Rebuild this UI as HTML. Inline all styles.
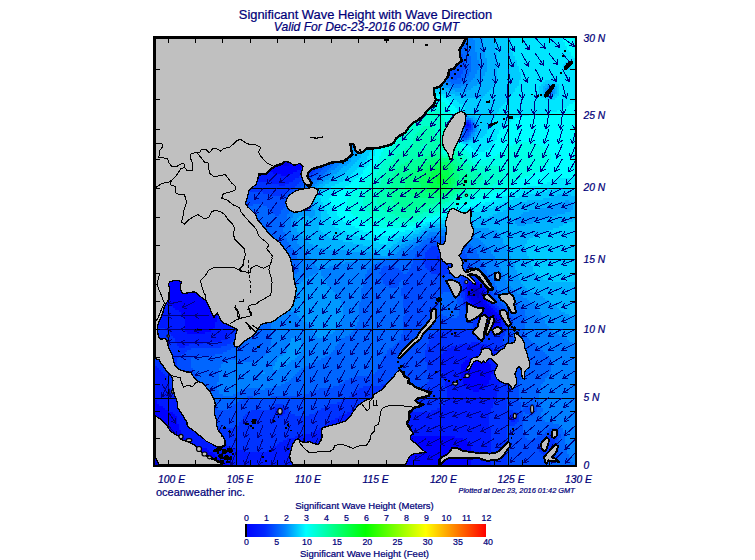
<!DOCTYPE html><html><head><meta charset="utf-8"><title>Significant Wave Height with Wave Direction</title>
<style>html,body{margin:0;padding:0;background:#fff}body{width:755px;height:560px;overflow:hidden}svg{display:block}text{font-family:"Liberation Sans",sans-serif;fill:#000078;stroke:#000078;stroke-width:.22px}</style></head><body>
<svg width="755" height="560" viewBox="0 0 755 560">
<rect width="755" height="560" fill="#fff"/>
<g shape-rendering="crispEdges">
<rect x="155" y="38" width="420" height="427" fill="#0040ff"/>
<path fill="#000066" d="M155 38h20v2h-20zM155 40h16v2h-16zM155 42h12v2h-12zM155 44h6v2h-6z"/>
<path fill="#000066" d="M175 38h66v2h-66zM171 40h68v2h-68zM167 42h68v2h-68zM161 44h72v2h-72zM155 46h74v2h-74zM155 48h72v2h-72zM155 50h68v2h-68zM155 52h64v2h-64zM155 54h58v2h-58zM155 56h54v2h-54zM155 58h48v2h-48zM155 60h42v2h-42zM155 62h36v2h-36zM155 64h28v2h-28zM155 66h22v2h-22zM155 68h16v2h-16zM155 70h10v2h-10zM155 72h4v2h-4z"/>
<path fill="#000066" d="M241 38h34v2h-34zM239 40h36v2h-36zM235 42h38v2h-38zM233 44h40v2h-40zM229 46h42v2h-42zM227 48h42v2h-42zM223 50h46v2h-46zM219 52h48v2h-48zM213 54h52v2h-52zM209 56h54v2h-54zM203 58h58v2h-58zM197 60h62v2h-62zM191 62h66v2h-66zM183 64h72v2h-72zM177 66h76v2h-76zM171 68h80v2h-80zM165 70h82v2h-82zM159 72h84v2h-84zM155 74h84v2h-84zM155 76h78v2h-78zM155 78h72v2h-72zM155 80h64v2h-64zM155 82h54v2h-54zM155 84h46v2h-46zM155 86h36v2h-36zM155 88h28v2h-28zM155 90h20v2h-20zM155 92h14v2h-14zM155 94h8v2h-8zM155 96h2v2h-2z"/>
<path fill="#000080" d="M275 38h24v4h-24zM273 42h24v4h-24zM271 46h24v2h-24zM269 48h26v2h-26zM269 50h24v2h-24zM267 52h26v2h-26zM265 54h26v2h-26zM263 56h28v2h-28zM261 58h28v2h-28zM259 60h30v2h-30zM257 62h30v2h-30zM255 64h32v2h-32zM253 66h32v2h-32zM251 68h34v2h-34zM247 70h36v2h-36zM243 72h38v2h-38zM239 74h42v2h-42zM233 76h46v2h-46zM227 78h50v2h-50zM219 80h58v2h-58zM209 82h66v2h-66zM201 84h72v2h-72zM191 86h80v2h-80zM183 88h86v2h-86zM175 90h90v2h-90zM169 92h94v2h-94zM163 94h96v2h-96zM157 96h96v2h-96zM155 98h90v2h-90zM155 100h78v2h-78zM155 102h62v2h-62zM155 104h48v2h-48zM155 106h38v2h-38zM155 108h30v2h-30zM155 110h22v2h-22zM155 112h16v2h-16zM155 114h10v2h-10zM155 116h4v2h-4z"/>
<path fill="#000099" d="M299 38h18v4h-18zM297 42h18v4h-18zM295 46h18v4h-18zM293 50h18v4h-18zM291 54h20v2h-20zM291 56h18v2h-18zM289 58h20v2h-20zM289 60h18v2h-18zM287 62h20v2h-20zM287 64h18v2h-18zM285 66h20v2h-20zM285 68h18v2h-18zM283 70h20v2h-20zM281 72h20v4h-20zM279 76h22v2h-22zM277 78h22v4h-22zM275 82h22v2h-22zM273 84h24v2h-24zM271 86h24v2h-24zM269 88h26v2h-26zM265 90h28v2h-28zM263 92h30v2h-30zM259 94h32v2h-32zM253 96h38v2h-38zM245 98h44v2h-44zM233 100h56v2h-56zM217 102h70v2h-70zM203 104h82v2h-82zM193 106h90v2h-90zM185 108h96v2h-96zM177 110h102v2h-102zM171 112h106v2h-106zM165 114h108v2h-108zM159 116h110v2h-110zM155 118h98v2h-98zM155 120h60v2h-60zM155 122h48v2h-48zM155 124h38v2h-38zM155 126h30v2h-30zM155 128h24v2h-24zM155 130h20v2h-20zM155 132h14v2h-14zM155 134h10v2h-10zM155 136h6v2h-6z"/>
<path fill="#0000b2" d="M317 38h18v2h-18zM317 40h16v2h-16zM315 42h16v4h-16zM313 46h16v4h-16zM311 50h16v4h-16zM311 54h14v2h-14zM309 56h16v2h-16zM309 58h14v2h-14zM307 60h16v2h-16zM307 62h14v2h-14zM305 64h16v2h-16zM305 66h14v2h-14zM303 68h16v2h-16zM303 70h14v2h-14zM301 72h16v2h-16zM301 74h14v4h-14zM299 78h16v2h-16zM299 80h14v2h-14zM297 82h16v2h-16zM297 84h14v2h-14zM295 86h16v4h-16zM293 90h16v4h-16zM291 94h16v4h-16zM289 98h18v2h-18zM289 100h16v2h-16zM287 102h18v2h-18zM285 104h20v2h-20zM283 106h20v2h-20zM281 108h22v2h-22zM279 110h22v2h-22zM277 112h24v2h-24zM273 114h26v2h-26zM269 116h30v2h-30zM253 118h46v2h-46zM215 120h82v2h-82zM203 122h92v2h-92zM193 124h102v2h-102zM185 126h108v2h-108zM179 128h112v2h-112zM175 130h114v2h-114zM169 132h118v2h-118zM165 134h68v2h-68zM243 134h40v2h-40zM161 136h52v2h-52zM155 138h48v2h-48zM155 140h40v2h-40zM155 142h34v2h-34zM155 144h30v2h-30zM155 146h24v2h-24zM155 148h20v2h-20zM155 150h16v2h-16zM155 152h12v2h-12zM155 154h10v2h-10zM155 156h6v2h-6zM155 158h2v2h-2z"/>
<path fill="#0000cc" d="M335 38h14v2h-14zM333 40h16v2h-16zM331 42h16v2h-16zM331 44h14v2h-14zM329 46h16v2h-16zM329 48h14v2h-14zM327 50h14v4h-14zM325 54h14v4h-14zM323 58h14v2h-14zM323 60h12v2h-12zM321 62h14v2h-14zM321 64h12v2h-12zM319 66h14v2h-14zM319 68h12v2h-12zM317 70h14v2h-14zM317 72h12v2h-12zM315 74h14v2h-14zM315 76h12v4h-12zM313 80h12v4h-12zM311 84h14v2h-14zM311 86h12v4h-12zM309 90h12v4h-12zM307 94h14v2h-14zM307 96h12v4h-12zM305 100h14v2h-14zM305 102h12v4h-12zM303 106h12v4h-12zM301 110h14v2h-14zM301 112h12v2h-12zM299 114h14v4h-14zM299 118h12v2h-12zM297 120h14v2h-14zM295 122h16v2h-16zM295 124h14v2h-14zM293 126h16v2h-16zM291 128h16v2h-16zM289 130h18v2h-18zM287 132h20v2h-20zM233 134h10v2h-10zM283 134h22v2h-22zM213 136h92v2h-92zM203 138h100v2h-100zM195 140h106v2h-106zM189 142h112v2h-112zM185 144h114v2h-114zM179 146h118v2h-118zM175 148h50v2h-50zM255 148h40v2h-40zM171 150h42v2h-42zM269 150h22v2h-22zM167 152h40v2h-40zM165 154h36v2h-36zM161 156h34v2h-34zM157 158h34v2h-34zM155 160h32v2h-32zM155 162h28v2h-28zM155 164h26v2h-26zM155 166h22v2h-22zM155 168h20v2h-20zM155 170h16v2h-16zM155 172h14v2h-14zM155 174h12v2h-12zM155 176h10v2h-10zM155 178h8v2h-8zM155 464h8v1h-8zM155 180h6v2h-6zM155 462h6v2h-6zM155 182h4v2h-4zM155 460h4v2h-4zM155 184h2v2h-2zM155 458h2v2h-2zM473 288h6v4h-6zM473 292h8v2h-8zM475 294h4v2h-4zM477 296h2v2h-2z"/>
<path fill="#0000e6" d="M349 38h16v2h-16zM349 40h14v2h-14zM347 42h16v2h-16zM345 44h16v2h-16zM345 46h14v2h-14zM343 48h14v2h-14zM341 50h14v4h-14zM339 54h14v2h-14zM339 56h12v2h-12zM337 58h12v2h-12zM335 60h14v2h-14zM335 62h12v2h-12zM333 64h12v4h-12zM331 68h12v2h-12zM331 70h10v2h-10zM329 72h12v2h-12zM329 74h10v2h-10zM327 76h12v2h-12zM327 78h10v2h-10zM325 80h12v2h-12zM325 82h10v4h-10zM323 86h10v4h-10zM321 90h12v2h-12zM321 92h10v4h-10zM319 96h10v6h-10zM317 102h10v4h-10zM315 106h12v2h-12zM315 108h10v4h-10zM313 112h10v6h-10zM311 118h10v6h-10zM309 124h10v4h-10zM307 128h12v2h-12zM307 130h10v4h-10zM305 134h12v2h-12zM305 136h10v2h-10zM303 138h12v2h-12zM301 140h12v4h-12zM299 144h12v2h-12zM297 146h14v2h-14zM225 148h30v2h-30zM295 148h14v2h-14zM213 150h56v2h-56zM291 150h16v2h-16zM207 152h100v2h-100zM201 154h104v2h-104zM195 156h108v2h-108zM191 158h110v2h-110zM187 160h42v2h-42zM261 160h36v2h-36zM183 162h36v2h-36zM273 162h22v2h-22zM181 164h32v2h-32zM283 164h6v2h-6zM177 166h32v2h-32zM175 168h30v2h-30zM171 170h30v2h-30zM169 172h28v2h-28zM167 174h28v2h-28zM165 176h26v2h-26zM163 178h26v2h-26zM161 180h26v2h-26zM159 182h26v2h-26zM157 184h26v2h-26zM155 186h26v2h-26zM155 454h26v2h-26zM155 188h24v2h-24zM155 452h24v2h-24zM155 190h22v2h-22zM155 192h20v2h-20zM155 450h20v2h-20zM155 194h18v4h-18zM155 448h18v2h-18zM155 198h16v2h-16zM155 444h16v4h-16zM155 200h14v4h-14zM155 442h14v2h-14zM155 204h12v2h-12zM155 438h12v4h-12zM155 206h10v4h-10zM155 436h10v2h-10zM155 210h8v4h-8zM155 432h8v4h-8zM155 214h6v6h-6zM155 430h6v2h-6zM155 220h4v4h-4zM155 428h4v2h-4zM155 224h2v6h-2zM155 426h2v2h-2zM471 284h6v2h-6zM471 296h6v2h-6zM469 286h12v2h-12zM469 288h4v6h-4zM479 288h2v2h-2zM479 290h4v2h-4zM479 294h4v4h-4zM481 292h2v2h-2zM471 294h4v2h-4zM471 298h12v2h-12zM473 300h10v2h-10zM475 302h8v2h-8zM477 304h8v2h-8zM479 306h8v2h-8zM479 308h10v2h-10zM481 310h10v2h-10zM481 312h12v2h-12zM483 314h12v2h-12zM485 316h12v2h-12zM487 318h10v2h-10zM489 320h8v2h-8zM491 322h6v2h-6zM155 456h28v2h-28zM157 458h30v2h-30zM159 460h32v2h-32zM161 462h34v2h-34zM163 464h36v1h-36z"/>
<path fill="#0000ff" d="M365 38h20v2h-20zM363 40h18v2h-18zM363 42h16v2h-16zM361 44h16v2h-16zM359 46h16v2h-16zM357 48h16v2h-16zM355 50h16v2h-16zM355 52h14v2h-14zM353 54h14v2h-14zM351 56h14v2h-14zM349 58h14v2h-14zM349 60h12v2h-12zM347 62h12v2h-12zM345 64h12v2h-12zM345 66h10v2h-10zM343 68h12v2h-12zM341 70h12v2h-12zM341 72h10v2h-10zM339 74h12v2h-12zM339 76h10v2h-10zM337 78h10v4h-10zM335 82h10v4h-10zM333 86h10v4h-10zM333 90h8v2h-8zM331 92h10v2h-10zM331 94h8v2h-8zM329 96h10v2h-10zM329 98h8v4h-8zM327 102h10v2h-10zM327 104h8v4h-8zM325 108h10v2h-10zM325 110h8v2h-8zM323 112h10v2h-10zM323 114h8v4h-8zM321 118h10v2h-10zM321 120h8v4h-8zM319 124h10v2h-10zM467 124h2v2h-2zM467 286h2v8h-2zM319 126h8v4h-8zM317 130h10v2h-10zM317 132h8v4h-8zM315 136h8v4h-8zM313 140h8v4h-8zM311 144h10v2h-10zM311 146h8v2h-8zM309 148h10v2h-10zM307 150h10v2h-10zM307 152h8v2h-8zM305 154h10v2h-10zM303 156h10v2h-10zM301 158h10v2h-10zM229 160h32v2h-32zM297 160h14v2h-14zM219 162h54v2h-54zM295 162h14v2h-14zM213 164h70v2h-70zM289 164h16v2h-16zM209 166h94v2h-94zM205 168h96v2h-96zM201 170h40v2h-40zM261 170h36v2h-36zM197 172h32v2h-32zM273 172h20v2h-20zM195 174h28v2h-28zM281 174h8v2h-8zM191 176h28v2h-28zM189 178h26v2h-26zM187 180h24v2h-24zM185 182h24v2h-24zM183 184h24v2h-24zM181 186h22v2h-22zM179 188h22v2h-22zM177 190h22v2h-22zM175 192h22v2h-22zM173 194h24v2h-24zM173 196h22v2h-22zM171 198h22v2h-22zM169 200h24v2h-24zM169 202h22v2h-22zM167 204h22v2h-22zM165 206h24v4h-24zM163 210h24v4h-24zM161 214h24v6h-24zM159 220h26v4h-26zM157 224h28v2h-28zM157 226h26v4h-26zM155 230h28v6h-28zM155 236h30v10h-30zM155 246h32v6h-32zM155 252h34v4h-34zM155 256h36v4h-36zM155 260h38v2h-38zM155 262h40v4h-40zM155 266h42v4h-42zM155 270h44v2h-44zM155 272h46v2h-46zM155 274h48v4h-48zM155 278h50v2h-50zM155 280h52v4h-52zM469 282h10v2h-10zM155 284h54v4h-54zM467 284h4v2h-4zM467 294h4v4h-4zM477 284h4v2h-4zM477 310h4v4h-4zM481 286h2v2h-2zM155 288h56v4h-56zM481 288h4v2h-4zM481 316h4v2h-4zM483 290h2v10h-2zM155 292h58v4h-58zM155 296h60v6h-60zM469 298h2v2h-2zM469 300h4v2h-4zM483 300h4v4h-4zM163 302h54v2h-54zM471 302h4v2h-4zM169 304h48v2h-48zM471 304h6v2h-6zM485 304h4v2h-4zM173 306h44v2h-44zM473 306h6v2h-6zM473 390h6v2h-6zM487 306h4v2h-4zM175 308h42v2h-42zM475 308h4v2h-4zM475 356h4v2h-4zM489 308h4v2h-4zM179 310h38v2h-38zM491 310h4v2h-4zM181 312h36v4h-36zM493 312h4v2h-4zM479 314h4v2h-4zM495 314h4v2h-4zM183 316h34v2h-34zM183 456h34v2h-34zM497 316h4v8h-4zM185 318h32v4h-32zM481 318h6v2h-6zM483 320h6v2h-6zM185 322h30v6h-30zM485 322h6v2h-6zM487 324h14v2h-14zM491 326h8v2h-8zM185 328h28v2h-28zM185 330h26v2h-26zM187 332h18v2h-18zM469 358h16v2h-16zM465 360h22v2h-22zM465 384h22v2h-22zM463 362h26v2h-26zM463 380h26v4h-26zM461 364h30v6h-30zM461 374h30v6h-30zM461 370h32v4h-32zM467 386h18v2h-18zM469 388h14v2h-14zM155 400h2v4h-2zM155 404h4v2h-4zM155 406h8v2h-8zM155 408h10v2h-10zM155 410h14v2h-14zM279 410h2v2h-2zM155 412h18v2h-18zM155 414h20v2h-20zM155 416h22v8h-22zM155 424h24v2h-24zM157 426h22v2h-22zM159 428h20v2h-20zM365 428h22v2h-22zM161 430h20v2h-20zM359 430h36v2h-36zM163 432h18v4h-18zM355 432h48v2h-48zM351 434h60v2h-60zM165 436h18v2h-18zM347 436h108v2h-108zM167 438h18v2h-18zM343 438h120v2h-120zM167 440h20v2h-20zM339 440h128v2h-128zM169 442h20v2h-20zM337 442h132v2h-132zM171 444h24v2h-24zM333 444h138v2h-138zM171 446h30v2h-30zM329 446h142v2h-142zM173 448h34v2h-34zM327 448h144v2h-144zM175 450h34v2h-34zM323 450h148v2h-148zM179 452h34v2h-34zM319 452h152v2h-152zM181 454h34v2h-34zM315 454h156v2h-156zM311 456h160v2h-160zM187 458h34v2h-34zM307 458h164v2h-164zM191 460h32v2h-32zM303 460h168v2h-168zM195 462h32v2h-32zM299 462h172v2h-172zM199 464h30v1h-30zM295 464h176v1h-176z"/>
<path fill="#001aff" d="M385 38h28v2h-28zM381 40h26v2h-26zM379 42h24v2h-24zM377 44h22v2h-22zM375 46h20v2h-20zM373 48h18v2h-18zM371 50h16v2h-16zM369 52h16v2h-16zM367 54h14v2h-14zM365 56h14v2h-14zM363 58h14v2h-14zM361 60h12v2h-12zM359 62h12v2h-12zM357 64h12v2h-12zM355 66h12v2h-12zM355 68h10v2h-10zM353 70h10v2h-10zM351 72h12v2h-12zM351 74h10v2h-10zM349 76h10v2h-10zM347 78h10v4h-10zM345 82h10v2h-10zM345 84h8v2h-8zM343 86h10v2h-10zM343 88h8v2h-8zM341 90h10v2h-10zM341 92h8v2h-8zM339 94h10v2h-10zM339 96h8v2h-8zM337 98h10v2h-10zM337 100h8v4h-8zM335 104h8v6h-8zM333 110h8v4h-8zM331 114h8v6h-8zM329 120h8v6h-8zM465 122h4v2h-4zM465 298h4v2h-4zM465 124h2v2h-2zM465 292h2v6h-2zM469 124h2v2h-2zM327 126h8v4h-8zM465 126h6v2h-6zM327 130h6v2h-6zM325 132h8v4h-8zM323 136h8v4h-8zM321 140h8v4h-8zM321 144h6v2h-6zM319 146h8v2h-8zM319 148h6v2h-6zM317 150h8v2h-8zM315 152h8v2h-8zM315 154h6v2h-6zM313 156h8v2h-8zM311 158h8v2h-8zM311 160h6v2h-6zM309 162h8v2h-8zM305 164h10v2h-10zM303 166h10v2h-10zM301 168h10v2h-10zM241 170h20v2h-20zM297 170h10v2h-10zM229 172h44v2h-44zM293 172h12v2h-12zM223 174h58v2h-58zM289 174h12v2h-12zM219 176h80v2h-80zM215 178h80v2h-80zM211 180h38v2h-38zM257 180h36v2h-36zM209 182h28v2h-28zM271 182h18v2h-18zM207 184h24v2h-24zM279 184h6v2h-6zM203 186h24v2h-24zM201 188h24v2h-24zM201 272h24v2h-24zM199 190h22v2h-22zM197 192h22v2h-22zM197 194h20v2h-20zM195 196h20v2h-20zM193 198h20v4h-20zM191 202h20v2h-20zM189 204h20v4h-20zM189 208h18v2h-18zM187 210h20v4h-20zM185 214h22v2h-22zM185 236h22v4h-22zM185 216h20v10h-20zM183 226h22v8h-22zM183 234h24v2h-24zM185 240h24v6h-24zM187 246h24v4h-24zM187 250h26v2h-26zM189 252h24v2h-24zM189 254h26v2h-26zM191 256h24v2h-24zM437 256h2v4h-2zM191 258h26v2h-26zM193 260h26v2h-26zM195 262h24v2h-24zM195 264h26v2h-26zM197 266h24v2h-24zM197 268h26v2h-26zM199 270h24v2h-24zM203 274h22v4h-22zM205 278h22v2h-22zM469 278h4v2h-4zM469 306h4v2h-4zM207 280h20v4h-20zM465 280h14v2h-14zM463 282h6v2h-6zM479 282h4v2h-4zM479 320h4v2h-4zM209 284h20v4h-20zM463 284h4v8h-4zM481 284h4v2h-4zM481 322h4v2h-4zM483 286h2v2h-2zM211 288h18v4h-18zM485 288h2v8h-2zM213 292h18v4h-18zM213 328h18v2h-18zM215 296h16v6h-16zM485 296h4v4h-4zM467 300h2v2h-2zM487 300h2v2h-2zM155 302h8v2h-8zM155 372h8v2h-8zM217 302h14v2h-14zM467 302h4v4h-4zM487 302h4v2h-4zM155 304h14v2h-14zM155 380h14v8h-14zM217 304h16v18h-16zM489 304h4v2h-4zM155 306h18v2h-18zM155 394h18v2h-18zM491 306h4v2h-4zM155 308h20v2h-20zM155 396h20v2h-20zM471 308h4v2h-4zM493 308h4v2h-4zM155 310h24v2h-24zM471 310h6v2h-6zM495 310h4v2h-4zM155 312h26v4h-26zM473 312h4v2h-4zM497 312h4v2h-4zM475 314h4v2h-4zM499 314h4v2h-4zM499 326h4v2h-4zM155 316h28v2h-28zM477 316h4v4h-4zM501 316h2v2h-2zM155 318h30v10h-30zM501 318h4v8h-4zM215 322h18v6h-18zM483 324h4v2h-4zM483 326h8v2h-8zM165 328h20v2h-20zM165 408h20v2h-20zM485 328h18v2h-18zM167 330h18v2h-18zM211 330h20v2h-20zM487 330h14v2h-14zM487 360h14v2h-14zM169 332h18v2h-18zM169 410h18v2h-18zM205 332h26v2h-26zM491 332h6v2h-6zM171 334h58v2h-58zM173 336h54v2h-54zM175 338h52v2h-52zM175 340h46v2h-46zM177 342h26v2h-26zM471 342h8v2h-8zM177 344h12v2h-12zM177 416h12v2h-12zM459 344h28v2h-28zM179 346h6v2h-6zM451 346h40v2h-40zM447 348h46v2h-46zM445 350h50v2h-50zM443 352h54v2h-54zM441 354h56v2h-56zM441 356h34v2h-34zM479 356h20v2h-20zM479 390h20v2h-20zM441 358h28v2h-28zM485 358h14v2h-14zM485 386h14v2h-14zM441 360h24v2h-24zM441 362h22v2h-22zM489 362h12v2h-12zM489 380h12v4h-12zM441 364h20v8h-20zM491 364h10v4h-10zM491 374h10v6h-10zM155 366h2v2h-2zM155 368h4v2h-4zM491 368h12v2h-12zM155 370h6v2h-6zM493 370h10v2h-10zM443 372h18v8h-18zM493 372h8v2h-8zM155 374h10v2h-10zM155 376h12v4h-12zM445 380h18v4h-18zM445 384h20v2h-20zM487 384h12v2h-12zM445 386h22v2h-22zM155 388h16v6h-16zM447 388h22v2h-22zM483 388h16v2h-16zM447 390h26v2h-26zM447 392h50v6h-50zM155 398h22v2h-22zM447 398h48v4h-48zM157 400h22v2h-22zM367 400h10v2h-10zM157 402h24v2h-24zM363 402h22v2h-22zM445 402h48v2h-48zM159 404h22v2h-22zM359 404h32v2h-32zM443 404h50v2h-50zM163 406h20v2h-20zM357 406h38v2h-38zM441 406h52v2h-52zM275 408h8v2h-8zM355 408h46v2h-46zM437 408h54v2h-54zM275 410h4v2h-4zM281 410h4v2h-4zM351 410h58v2h-58zM431 410h60v2h-60zM173 412h14v2h-14zM275 412h10v2h-10zM347 412h144v2h-144zM175 414h14v2h-14zM277 414h6v2h-6zM343 414h146v2h-146zM511 414h4v2h-4zM511 420h4v2h-4zM339 416h150v2h-150zM509 416h8v4h-8zM177 418h14v6h-14zM335 418h154v2h-154zM331 420h158v2h-158zM329 422h160v2h-160zM179 424h14v2h-14zM325 424h164v2h-164zM179 426h16v4h-16zM323 426h166v2h-166zM319 428h46v2h-46zM387 428h104v2h-104zM181 430h16v2h-16zM315 430h44v2h-44zM395 430h96v2h-96zM181 432h20v2h-20zM311 432h44v2h-44zM403 432h88v2h-88zM181 434h24v2h-24zM305 434h46v2h-46zM411 434h80v2h-80zM183 436h26v2h-26zM295 436h52v2h-52zM455 436h36v2h-36zM185 438h30v2h-30zM287 438h56v2h-56zM463 438h28v2h-28zM187 440h32v2h-32zM283 440h56v2h-56zM467 440h24v2h-24zM189 442h34v2h-34zM279 442h58v2h-58zM469 442h22v2h-22zM195 444h32v2h-32zM277 444h56v2h-56zM471 444h20v21h-20zM201 446h30v2h-30zM273 446h56v2h-56zM207 448h30v2h-30zM271 448h56v2h-56zM209 450h36v2h-36zM267 450h56v2h-56zM213 452h106v2h-106zM215 454h100v2h-100zM217 456h94v2h-94zM221 458h86v2h-86zM223 460h80v2h-80zM227 462h72v2h-72zM229 464h66v1h-66z"/>
<path fill="#0033ff" d="M413 38h32v2h-32zM407 40h38v2h-38zM403 42h42v2h-42zM399 44h46v2h-46zM395 46h52v2h-52zM391 48h56v2h-56zM387 50h60v2h-60zM385 52h64v2h-64zM381 54h26v2h-26zM429 54h20v2h-20zM379 56h20v2h-20zM435 56h16v2h-16zM377 58h16v2h-16zM439 58h12v2h-12zM373 60h16v2h-16zM443 60h8v2h-8zM371 62h16v2h-16zM445 62h6v2h-6zM369 64h14v2h-14zM367 66h14v2h-14zM365 68h12v2h-12zM363 70h12v2h-12zM363 72h10v2h-10zM361 74h10v2h-10zM359 76h10v2h-10zM357 78h10v4h-10zM355 82h10v2h-10zM353 84h10v2h-10zM353 86h8v2h-8zM351 88h10v2h-10zM351 90h8v2h-8zM349 92h8v4h-8zM347 96h8v4h-8zM345 100h8v4h-8zM343 104h8v4h-8zM343 108h6v2h-6zM341 110h8v2h-8zM341 112h6v2h-6zM339 114h8v4h-8zM339 118h6v2h-6zM337 120h8v2h-8zM467 120h2v2h-2zM467 130h2v2h-2zM467 274h2v2h-2zM337 122h6v4h-6zM469 122h2v2h-2zM335 126h8v2h-8zM335 128h6v2h-6zM465 128h6v2h-6zM465 308h6v2h-6zM333 130h8v2h-8zM333 132h6v4h-6zM331 136h8v2h-8zM331 138h6v2h-6zM329 140h8v2h-8zM329 142h6v2h-6zM327 144h8v2h-8zM327 146h6v2h-6zM325 148h6v4h-6zM323 152h6v2h-6zM321 154h8v2h-8zM321 156h6v2h-6zM319 158h6v2h-6zM317 160h8v2h-8zM317 162h6v2h-6zM315 164h6v2h-6zM313 166h6v2h-6zM311 168h6v2h-6zM307 170h8v2h-8zM305 172h8v2h-8zM301 174h8v2h-8zM299 176h8v2h-8zM295 178h10v2h-10zM249 180h8v2h-8zM293 180h8v2h-8zM237 182h34v2h-34zM237 448h34v2h-34zM289 182h10v2h-10zM231 184h48v2h-48zM285 184h12v2h-12zM227 186h68v2h-68zM225 188h68v2h-68zM221 190h68v2h-68zM219 192h26v2h-26zM263 192h24v2h-24zM217 194h24v2h-24zM271 194h12v2h-12zM215 196h22v2h-22zM215 254h22v2h-22zM213 198h22v2h-22zM213 250h22v2h-22zM213 200h20v2h-20zM211 202h20v2h-20zM209 204h20v2h-20zM209 240h20v2h-20zM209 206h18v2h-18zM207 208h20v2h-20zM207 234h20v6h-20zM207 210h18v6h-18zM205 216h18v12h-18zM205 228h20v6h-20zM209 242h22v4h-22zM437 244h4v2h-4zM211 246h22v4h-22zM431 246h16v2h-16zM429 248h22v2h-22zM427 250h26v2h-26zM213 252h24v2h-24zM425 252h30v4h-30zM425 266h30v2h-30zM215 256h24v2h-24zM425 256h12v2h-12zM439 256h18v4h-18zM217 258h22v2h-22zM423 258h14v2h-14zM219 260h22v4h-22zM423 260h34v4h-34zM221 264h20v4h-20zM425 264h32v2h-32zM223 268h20v4h-20zM427 268h28v2h-28zM429 270h24v2h-24zM225 272h18v6h-18zM431 272h20v2h-20zM437 274h8v2h-8zM461 276h16v2h-16zM227 278h16v6h-16zM461 278h8v2h-8zM473 278h8v2h-8zM473 322h8v2h-8zM459 280h6v2h-6zM479 280h4v2h-4zM459 282h4v8h-4zM483 282h2v2h-2zM229 284h14v8h-14zM485 284h2v2h-2zM485 286h4v2h-4zM487 288h2v4h-2zM461 290h2v2h-2zM231 292h12v12h-12zM461 292h4v6h-4zM487 292h4v4h-4zM489 296h2v2h-2zM463 298h2v2h-2zM489 298h4v4h-4zM463 300h4v6h-4zM491 302h4v2h-4zM233 304h10v2h-10zM233 316h10v12h-10zM493 304h4v2h-4zM233 306h12v10h-12zM465 306h4v2h-4zM495 306h4v2h-4zM497 308h4v2h-4zM467 310h4v2h-4zM499 310h4v2h-4zM469 312h4v2h-4zM501 312h4v2h-4zM469 314h6v2h-6zM503 314h4v4h-4zM503 326h4v4h-4zM471 316h6v4h-6zM505 318h2v2h-2zM473 320h6v2h-6zM505 320h4v6h-4zM473 324h10v4h-10zM155 328h10v2h-10zM231 328h10v4h-10zM471 328h14v2h-14zM155 330h12v2h-12zM441 330h46v2h-46zM501 330h6v2h-6zM155 332h14v2h-14zM231 332h8v2h-8zM437 332h54v2h-54zM497 332h8v2h-8zM155 334h16v2h-16zM229 334h10v2h-10zM433 334h72v2h-72zM155 336h18v2h-18zM227 336h10v2h-10zM431 336h72v4h-72zM155 338h20v4h-20zM227 338h8v2h-8zM221 340h12v2h-12zM429 340h74v2h-74zM155 342h22v4h-22zM155 358h22v8h-22zM203 342h28v2h-28zM429 342h42v2h-42zM479 342h24v2h-24zM189 344h38v2h-38zM427 344h32v2h-32zM487 344h18v2h-18zM155 346h24v2h-24zM155 356h24v2h-24zM185 346h36v2h-36zM427 346h24v2h-24zM491 346h14v2h-14zM491 444h14v10h-14zM155 348h36v2h-36zM427 348h20v2h-20zM493 348h14v2h-14zM493 402h14v6h-14zM155 350h32v2h-32zM425 350h20v2h-20zM425 386h20v2h-20zM495 350h14v2h-14zM155 352h30v2h-30zM425 352h18v2h-18zM497 352h12v2h-12zM497 392h12v6h-12zM155 354h26v2h-26zM425 354h16v8h-16zM497 354h14v2h-14zM499 356h12v4h-12zM501 360h10v8h-10zM501 372h10v10h-10zM427 362h14v8h-14zM157 366h20v2h-20zM159 368h20v2h-20zM503 368h8v4h-8zM161 370h18v2h-18zM429 370h12v2h-12zM163 372h16v2h-16zM429 372h14v8h-14zM165 374h16v2h-16zM167 376h14v4h-14zM169 380h14v4h-14zM429 380h16v2h-16zM427 382h18v4h-18zM501 382h8v2h-8zM169 384h16v4h-16zM381 384h12v2h-12zM499 384h10v8h-10zM363 386h36v2h-36zM171 388h16v4h-16zM359 388h46v2h-46zM423 388h24v2h-24zM355 390h56v2h-56zM419 390h28v2h-28zM171 392h18v2h-18zM353 392h94v2h-94zM173 394h16v2h-16zM351 394h96v2h-96zM175 396h16v2h-16zM349 396h98v2h-98zM177 398h16v2h-16zM345 398h102v2h-102zM495 398h12v4h-12zM179 400h14v2h-14zM341 400h26v2h-26zM377 400h70v2h-70zM181 402h14v4h-14zM337 402h26v2h-26zM385 402h60v2h-60zM275 404h8v2h-8zM329 404h30v2h-30zM391 404h52v2h-52zM183 406h14v2h-14zM273 406h14v2h-14zM325 406h32v2h-32zM395 406h46v2h-46zM531 406h2v2h-2zM531 410h2v2h-2zM185 408h14v2h-14zM269 408h6v2h-6zM283 408h6v2h-6zM321 408h34v2h-34zM401 408h36v2h-36zM491 408h16v2h-16zM491 428h16v16h-16zM491 454h16v10h-16zM529 408h4v2h-4zM187 410h12v2h-12zM251 410h24v2h-24zM285 410h4v2h-4zM317 410h34v2h-34zM409 410h22v2h-22zM491 410h22v2h-22zM187 412h14v2h-14zM247 412h28v2h-28zM285 412h6v2h-6zM315 412h32v2h-32zM491 412h26v2h-26zM189 414h14v2h-14zM245 414h32v2h-32zM283 414h12v2h-12zM309 414h34v2h-34zM489 414h22v2h-22zM489 420h22v2h-22zM515 414h4v2h-4zM515 420h4v2h-4zM189 416h16v2h-16zM243 416h96v2h-96zM489 416h20v4h-20zM517 416h2v4h-2zM191 418h14v2h-14zM243 418h92v2h-92zM191 420h18v2h-18zM241 420h90v2h-90zM191 422h20v2h-20zM239 422h90v2h-90zM489 422h28v2h-28zM193 424h22v2h-22zM239 424h86v2h-86zM489 424h26v2h-26zM195 426h24v2h-24zM235 426h88v2h-88zM489 426h18v2h-18zM195 428h124v2h-124zM197 430h118v2h-118zM201 432h110v2h-110zM551 432h6v2h-6zM205 434h100v2h-100zM549 434h8v2h-8zM209 436h86v2h-86zM547 436h10v2h-10zM215 438h72v2h-72zM545 438h12v2h-12zM219 440h64v2h-64zM543 440h12v2h-12zM223 442h56v2h-56zM541 442h14v2h-14zM227 444h50v2h-50zM539 444h16v6h-16zM231 446h42v2h-42zM245 450h22v2h-22zM539 450h14v2h-14zM541 452h12v2h-12zM543 454h6v2h-6zM491 464h18v1h-18z"/>
<path fill="#004dff" d="M445 38h12v6h-12zM445 44h14v2h-14zM447 46h12v4h-12zM447 50h14v2h-14zM447 246h14v2h-14zM449 52h12v2h-12zM449 76h12v2h-12zM407 54h22v2h-22zM449 54h14v2h-14zM399 56h36v2h-36zM451 56h12v4h-12zM451 248h12v2h-12zM393 58h46v2h-46zM389 60h54v2h-54zM451 60h14v4h-14zM387 62h58v2h-58zM383 64h20v2h-20zM425 64h40v2h-40zM381 66h16v2h-16zM431 66h34v2h-34zM377 68h16v2h-16zM435 68h30v2h-30zM375 70h14v2h-14zM439 70h24v2h-24zM373 72h12v2h-12zM443 72h20v2h-20zM371 74h12v2h-12zM445 74h16v2h-16zM369 76h12v2h-12zM367 78h12v2h-12zM451 78h6v2h-6zM367 80h10v2h-10zM365 82h10v2h-10zM363 84h10v2h-10zM361 86h10v2h-10zM361 88h8v2h-8zM359 90h8v2h-8zM357 92h10v2h-10zM357 94h8v2h-8zM355 96h8v4h-8zM353 100h8v4h-8zM351 104h8v2h-8zM351 106h6v2h-6zM349 108h8v2h-8zM349 110h6v2h-6zM347 112h8v4h-8zM347 116h6v2h-6zM345 118h8v2h-8zM345 120h6v2h-6zM465 120h2v2h-2zM465 130h2v2h-2zM469 120h2v2h-2zM469 130h2v2h-2zM343 122h8v2h-8zM463 122h2v6h-2zM343 124h6v4h-6zM471 124h2v6h-2zM341 128h8v2h-8zM341 130h6v2h-6zM339 132h8v2h-8zM465 132h4v2h-4zM339 134h6v4h-6zM463 134h6v2h-6zM463 136h4v2h-4zM337 138h6v4h-6zM335 142h6v4h-6zM333 146h6v2h-6zM331 148h8v2h-8zM331 150h6v2h-6zM329 152h6v4h-6zM327 156h6v2h-6zM325 158h6v2h-6zM325 160h4v2h-4zM323 162h6v2h-6zM321 164h6v2h-6zM319 166h6v2h-6zM317 168h6v2h-6zM315 170h6v2h-6zM313 172h6v2h-6zM309 174h8v2h-8zM307 176h6v2h-6zM305 178h6v2h-6zM301 180h8v2h-8zM299 182h6v2h-6zM297 184h6v2h-6zM295 186h6v2h-6zM293 188h6v2h-6zM289 190h10v2h-10zM245 192h18v2h-18zM287 192h10v2h-10zM241 194h30v2h-30zM241 264h30v2h-30zM283 194h12v2h-12zM237 196h56v2h-56zM235 198h56v2h-56zM233 200h56v2h-56zM231 202h56v2h-56zM229 204h24v2h-24zM263 204h22v2h-22zM227 206h22v2h-22zM267 206h18v2h-18zM227 208h20v2h-20zM269 208h14v2h-14zM225 210h20v4h-20zM271 210h10v2h-10zM273 212h8v2h-8zM225 214h18v2h-18zM275 214h4v2h-4zM223 216h20v8h-20zM223 224h22v4h-22zM225 228h22v4h-22zM225 232h24v2h-24zM227 234h26v2h-26zM227 236h28v2h-28zM227 238h32v2h-32zM229 240h34v2h-34zM433 240h16v2h-16zM231 242h36v2h-36zM429 242h26v2h-26zM231 244h38v2h-38zM425 244h12v2h-12zM441 244h18v2h-18zM233 246h38v2h-38zM423 246h8v2h-8zM233 248h40v2h-40zM421 248h8v2h-8zM235 250h38v2h-38zM419 250h8v2h-8zM453 250h12v2h-12zM237 252h38v4h-38zM417 252h8v2h-8zM455 252h10v2h-10zM415 254h10v4h-10zM455 254h12v2h-12zM239 256h36v4h-36zM457 256h10v2h-10zM413 258h10v6h-10zM457 258h12v8h-12zM241 260h34v2h-34zM241 262h32v2h-32zM411 264h14v4h-14zM241 266h28v2h-28zM383 266h12v2h-12zM455 266h16v2h-16zM243 268h24v2h-24zM381 268h18v2h-18zM409 268h18v2h-18zM455 268h18v2h-18zM243 270h22v2h-22zM381 270h20v2h-20zM409 270h20v2h-20zM453 270h22v2h-22zM243 272h20v4h-20zM379 272h24v2h-24zM407 272h24v2h-24zM451 272h26v2h-26zM381 274h56v2h-56zM445 274h22v2h-22zM469 274h12v2h-12zM243 276h18v4h-18zM381 276h80v4h-80zM477 276h6v2h-6zM481 278h4v2h-4zM243 280h16v4h-16zM243 398h16v2h-16zM383 280h18v2h-18zM405 280h54v4h-54zM483 280h4v2h-4zM383 282h16v2h-16zM485 282h4v2h-4zM243 284h14v8h-14zM385 284h14v2h-14zM403 284h56v4h-56zM487 284h4v2h-4zM389 286h8v2h-8zM489 286h2v2h-2zM401 288h58v2h-58zM489 288h4v4h-4zM401 290h60v2h-60zM243 292h12v14h-12zM243 316h12v10h-12zM401 292h42v2h-42zM453 292h8v2h-8zM491 292h2v2h-2zM401 294h40v2h-40zM455 294h6v4h-6zM491 294h4v4h-4zM403 296h36v12h-36zM457 298h6v6h-6zM493 298h4v2h-4zM493 300h6v2h-6zM495 302h6v2h-6zM459 304h4v2h-4zM497 304h6v2h-6zM245 306h10v10h-10zM459 306h6v4h-6zM499 306h6v2h-6zM405 308h34v4h-34zM501 308h6v2h-6zM459 310h8v2h-8zM503 310h6v2h-6zM405 312h36v2h-36zM459 312h10v4h-10zM505 312h6v2h-6zM405 314h38v2h-38zM507 314h4v2h-4zM403 316h44v2h-44zM457 316h14v2h-14zM507 316h6v4h-6zM507 326h6v6h-6zM403 318h68v2h-68zM403 328h68v2h-68zM403 320h70v8h-70zM509 320h4v6h-4zM243 326h10v2h-10zM241 328h12v4h-12zM403 330h38v2h-38zM239 332h12v4h-12zM403 332h34v2h-34zM505 332h8v4h-8zM401 334h32v2h-32zM237 336h12v2h-12zM401 336h30v4h-30zM503 336h10v2h-10zM235 338h12v2h-12zM503 338h12v4h-12zM233 340h12v2h-12zM399 340h30v2h-30zM231 342h12v2h-12zM397 342h32v2h-32zM503 342h14v2h-14zM227 344h14v2h-14zM395 344h32v2h-32zM505 344h12v2h-12zM221 346h16v2h-16zM393 346h34v2h-34zM393 384h34v2h-34zM505 346h14v2h-14zM191 348h40v2h-40zM389 348h38v2h-38zM507 348h14v2h-14zM507 402h14v8h-14zM187 350h40v2h-40zM387 350h38v4h-38zM509 350h14v4h-14zM185 352h38v2h-38zM181 354h34v2h-34zM385 354h40v2h-40zM511 354h14v2h-14zM511 368h14v2h-14zM179 356h14v2h-14zM179 368h14v4h-14zM383 356h42v4h-42zM511 356h16v2h-16zM511 366h16v2h-16zM177 358h14v10h-14zM511 358h18v4h-18zM511 364h18v2h-18zM381 360h44v2h-44zM381 362h46v4h-46zM511 362h20v2h-20zM379 366h48v4h-48zM377 370h52v2h-52zM511 370h12v2h-12zM179 372h16v2h-16zM375 372h54v2h-54zM511 372h10v8h-10zM181 374h14v2h-14zM369 374h60v2h-60zM181 376h16v4h-16zM355 376h74v2h-74zM349 378h80v2h-80zM183 380h16v4h-16zM345 380h84v2h-84zM511 380h8v2h-8zM343 382h84v2h-84zM509 382h10v16h-10zM185 384h16v4h-16zM339 384h42v2h-42zM333 386h30v2h-30zM399 386h26v2h-26zM187 388h14v2h-14zM319 388h40v2h-40zM405 388h18v2h-18zM187 390h16v2h-16zM313 390h42v2h-42zM411 390h8v2h-8zM189 392h14v2h-14zM309 392h44v2h-44zM189 394h16v2h-16zM303 394h48v2h-48zM191 396h14v2h-14zM247 396h6v2h-6zM271 396h78v2h-78zM193 398h14v2h-14zM263 398h82v2h-82zM507 398h12v4h-12zM193 400h16v2h-16zM239 400h102v2h-102zM195 402h14v2h-14zM237 402h100v2h-100zM195 404h16v2h-16zM233 404h42v2h-42zM283 404h46v2h-46zM527 404h8v2h-8zM197 406h16v2h-16zM231 406h42v2h-42zM287 406h38v2h-38zM525 406h6v2h-6zM533 406h4v6h-4zM199 408h18v2h-18zM229 408h40v2h-40zM289 408h32v2h-32zM523 408h6v2h-6zM199 410h52v2h-52zM289 410h28v2h-28zM513 410h18v2h-18zM201 412h46v2h-46zM291 412h24v2h-24zM517 412h6v2h-6zM517 422h6v2h-6zM525 412h10v2h-10zM203 414h42v2h-42zM295 414h14v2h-14zM519 414h4v8h-4zM529 414h4v2h-4zM205 416h38v4h-38zM209 420h32v2h-32zM211 422h28v2h-28zM215 424h24v2h-24zM515 424h8v2h-8zM219 426h16v2h-16zM507 426h16v8h-16zM549 428h8v2h-8zM549 454h8v2h-8zM547 430h12v2h-12zM545 432h6v2h-6zM557 432h2v2h-2zM557 438h2v2h-2zM507 434h18v4h-18zM541 434h8v2h-8zM557 434h4v4h-4zM537 436h10v2h-10zM507 438h20v2h-20zM533 438h12v2h-12zM507 440h36v2h-36zM507 454h36v2h-36zM555 440h4v10h-4zM507 442h34v2h-34zM505 444h34v8h-34zM553 450h6v4h-6zM505 452h36v2h-36zM507 456h50v2h-50zM507 458h48v2h-48zM507 460h46v2h-46zM507 462h42v2h-42zM509 464h38v1h-38z"/>
<path fill="#0066ff" d="M457 38h8v2h-8zM457 78h8v2h-8zM457 40h10v4h-10zM459 44h8v6h-8zM461 50h8v4h-8zM461 74h8v2h-8zM463 54h6v2h-6zM463 72h6v2h-6zM463 56h8v4h-8zM463 70h8v2h-8zM465 60h6v10h-6zM403 64h22v2h-22zM397 66h34v2h-34zM393 68h42v2h-42zM389 70h26v2h-26zM417 70h22v2h-22zM385 72h18v2h-18zM429 72h14v2h-14zM383 74h14v2h-14zM435 74h10v2h-10zM381 76h12v2h-12zM439 76h10v2h-10zM461 76h6v2h-6zM379 78h10v2h-10zM443 78h8v2h-8zM377 80h10v2h-10zM447 80h16v2h-16zM375 82h10v2h-10zM451 82h10v2h-10zM373 84h10v2h-10zM371 86h10v2h-10zM369 88h10v2h-10zM367 90h10v2h-10zM367 92h8v2h-8zM365 94h8v2h-8zM363 96h8v4h-8zM361 100h8v2h-8zM361 102h6v2h-6zM359 104h8v2h-8zM357 106h8v4h-8zM355 110h8v4h-8zM355 114h6v2h-6zM353 116h8v2h-8zM353 118h6v2h-6zM351 120h8v2h-8zM463 120h2v2h-2zM463 128h2v6h-2zM351 122h6v2h-6zM471 122h2v2h-2zM471 130h2v2h-2zM349 124h8v2h-8zM349 126h6v4h-6zM347 130h8v2h-8zM347 132h6v2h-6zM469 132h2v4h-2zM345 134h8v2h-8zM461 134h2v4h-2zM345 136h6v2h-6zM467 136h2v2h-2zM343 138h8v2h-8zM463 138h4v2h-4zM343 140h6v2h-6zM341 142h8v2h-8zM341 144h6v2h-6zM339 146h8v2h-8zM339 148h6v2h-6zM337 150h6v2h-6zM335 152h8v2h-8zM335 154h6v2h-6zM333 156h6v2h-6zM331 158h6v2h-6zM329 160h6v4h-6zM327 164h6v2h-6zM325 166h6v2h-6zM323 168h6v2h-6zM321 170h6v2h-6zM319 172h6v2h-6zM317 174h6v2h-6zM313 176h6v2h-6zM311 178h6v2h-6zM309 180h4v2h-4zM305 182h6v2h-6zM303 184h6v2h-6zM301 186h6v2h-6zM299 188h6v4h-6zM297 192h6v2h-6zM295 194h6v2h-6zM293 196h8v2h-8zM291 198h8v2h-8zM289 200h8v2h-8zM287 202h10v2h-10zM253 204h10v2h-10zM285 204h10v2h-10zM249 206h18v2h-18zM285 206h8v2h-8zM247 208h22v2h-22zM283 208h8v2h-8zM245 210h26v2h-26zM245 340h26v2h-26zM281 210h10v2h-10zM245 212h28v2h-28zM281 212h8v2h-8zM243 214h32v2h-32zM279 214h8v2h-8zM243 216h44v4h-44zM243 220h42v4h-42zM245 224h40v4h-40zM247 228h36v4h-36zM249 232h36v2h-36zM253 234h32v2h-32zM255 236h30v2h-30zM431 236h26v2h-26zM259 238h28v2h-28zM427 238h36v2h-36zM263 240h24v2h-24zM423 240h10v2h-10zM449 240h16v2h-16zM267 242h22v2h-22zM421 242h8v2h-8zM455 242h14v2h-14zM269 244h20v2h-20zM419 244h6v2h-6zM459 244h12v2h-12zM271 246h20v2h-20zM415 246h8v2h-8zM461 246h12v2h-12zM273 248h20v4h-20zM413 248h8v2h-8zM463 248h12v2h-12zM409 250h10v2h-10zM465 250h12v4h-12zM275 252h20v4h-20zM407 252h10v2h-10zM403 254h12v2h-12zM467 254h12v4h-12zM275 256h22v4h-22zM401 256h14v2h-14zM397 258h16v2h-16zM469 258h12v4h-12zM275 260h24v2h-24zM383 260h30v2h-30zM273 262h26v2h-26zM377 262h36v2h-36zM469 262h14v4h-14zM271 264h28v2h-28zM373 264h38v2h-38zM269 266h30v2h-30zM371 266h12v2h-12zM395 266h16v2h-16zM471 266h12v2h-12zM267 268h32v2h-32zM369 268h12v2h-12zM399 268h10v2h-10zM473 268h12v2h-12zM265 270h34v2h-34zM367 270h14v2h-14zM401 270h8v2h-8zM475 270h12v2h-12zM263 272h34v2h-34zM367 272h12v2h-12zM403 272h4v2h-4zM477 272h10v2h-10zM263 274h30v2h-30zM365 274h16v6h-16zM481 274h8v2h-8zM261 276h28v2h-28zM483 276h8v2h-8zM261 278h24v2h-24zM485 278h8v2h-8zM259 280h20v2h-20zM365 280h18v2h-18zM401 280h4v2h-4zM487 280h6v2h-6zM259 282h18v2h-18zM363 282h20v2h-20zM399 282h6v2h-6zM489 282h6v2h-6zM257 284h16v2h-16zM363 284h22v2h-22zM399 284h4v2h-4zM491 284h4v2h-4zM257 286h14v4h-14zM363 286h26v2h-26zM397 286h6v2h-6zM491 286h6v2h-6zM361 288h40v8h-40zM493 288h4v2h-4zM257 290h12v2h-12zM493 290h6v2h-6zM255 292h14v2h-14zM255 314h14v6h-14zM443 292h10v2h-10zM493 292h8v2h-8zM255 294h12v20h-12zM441 294h14v2h-14zM495 294h8v2h-8zM361 296h42v6h-42zM439 296h16v2h-16zM495 296h10v2h-10zM439 298h18v6h-18zM497 298h10v2h-10zM499 300h12v2h-12zM359 302h44v6h-44zM359 316h44v6h-44zM501 302h14v2h-14zM439 304h20v8h-20zM503 304h16v2h-16zM505 306h16v2h-16zM359 308h46v8h-46zM507 308h16v2h-16zM509 310h16v2h-16zM441 312h18v2h-18zM511 312h14v4h-14zM443 314h16v2h-16zM447 316h10v2h-10zM513 316h14v2h-14zM513 336h14v2h-14zM513 318h12v18h-12zM255 320h16v6h-16zM357 322h46v4h-46zM253 326h18v6h-18zM253 396h18v2h-18zM355 326h48v4h-48zM353 330h50v2h-50zM251 332h20v4h-20zM351 332h52v2h-52zM349 334h52v2h-52zM249 336h22v2h-22zM345 336h56v2h-56zM247 338h24v2h-24zM341 338h60v2h-60zM515 338h14v2h-14zM339 340h60v2h-60zM515 340h16v2h-16zM243 342h28v2h-28zM339 342h58v2h-58zM517 342h16v2h-16zM241 344h30v2h-30zM337 344h58v2h-58zM517 344h20v2h-20zM237 346h32v2h-32zM335 346h58v2h-58zM519 346h20v2h-20zM519 388h20v14h-20zM231 348h38v2h-38zM335 348h54v2h-54zM521 348h20v2h-20zM521 402h20v2h-20zM227 350h40v2h-40zM333 350h54v2h-54zM523 350h20v2h-20zM523 416h20v4h-20zM223 352h44v2h-44zM331 352h56v2h-56zM523 352h22v2h-22zM523 420h22v2h-22zM523 432h22v2h-22zM215 354h50v2h-50zM329 354h56v2h-56zM525 354h22v2h-22zM193 356h70v2h-70zM325 356h58v2h-58zM527 356h22v2h-22zM191 358h68v2h-68zM321 358h62v2h-62zM529 358h22v4h-22zM529 364h22v2h-22zM191 360h36v2h-36zM239 360h14v2h-14zM317 360h64v2h-64zM191 362h32v2h-32zM313 362h68v2h-68zM531 362h20v2h-20zM191 364h30v4h-30zM309 364h72v2h-72zM305 366h74v2h-74zM527 366h24v2h-24zM193 368h26v4h-26zM301 368h78v2h-78zM525 368h26v2h-26zM299 370h78v2h-78zM523 370h28v2h-28zM195 372h24v4h-24zM297 372h78v2h-78zM521 372h28v4h-28zM295 374h74v2h-74zM197 376h22v4h-22zM293 376h62v2h-62zM521 376h26v2h-26zM291 378h58v2h-58zM521 378h24v2h-24zM199 380h20v2h-20zM289 380h56v2h-56zM519 380h26v2h-26zM199 382h18v2h-18zM285 382h58v2h-58zM519 382h24v2h-24zM201 384h16v6h-16zM281 384h58v2h-58zM519 384h22v4h-22zM273 386h60v2h-60zM245 388h14v2h-14zM265 388h54v2h-54zM203 390h16v4h-16zM241 390h72v2h-72zM237 392h72v2h-72zM205 394h18v2h-18zM233 394h70v2h-70zM205 396h42v2h-42zM207 398h36v2h-36zM259 398h4v2h-4zM209 400h30v2h-30zM209 402h28v2h-28zM211 404h22v2h-22zM521 404h6v2h-6zM535 404h6v2h-6zM535 412h6v2h-6zM213 406h18v2h-18zM521 406h4v2h-4zM537 406h4v2h-4zM217 408h12v2h-12zM521 408h2v2h-2zM537 408h6v4h-6zM523 412h2v2h-2zM523 414h6v2h-6zM533 414h8v2h-8zM523 422h30v2h-30zM523 424h36v2h-36zM523 426h38v2h-38zM523 428h26v2h-26zM557 428h6v2h-6zM523 430h24v2h-24zM559 430h4v2h-4zM559 432h6v2h-6zM559 438h6v6h-6zM525 434h16v2h-16zM561 434h4v4h-4zM525 436h12v2h-12zM527 438h6v2h-6zM559 444h8v10h-8zM557 454h12v4h-12zM555 458h14v2h-14zM553 460h18v2h-18zM549 462h24v2h-24zM547 464h28v1h-28z"/>
<path fill="#0080ff" d="M465 38h8v2h-8zM465 78h8v2h-8zM467 40h8v10h-8zM467 76h8v2h-8zM469 50h6v2h-6zM469 74h6v2h-6zM469 52h8v4h-8zM469 72h8v2h-8zM471 56h6v4h-6zM471 70h6v2h-6zM471 60h8v10h-8zM415 70h2v2h-2zM403 72h26v2h-26zM397 74h38v2h-38zM393 76h46v2h-46zM389 78h16v2h-16zM431 78h12v2h-12zM387 80h14v2h-14zM437 80h10v2h-10zM463 80h8v2h-8zM385 82h12v2h-12zM443 82h8v2h-8zM461 82h8v2h-8zM383 84h10v2h-10zM447 84h18v2h-18zM381 86h10v2h-10zM453 86h8v2h-8zM379 88h8v2h-8zM547 88h6v6h-6zM377 90h8v2h-8zM375 92h8v2h-8zM373 94h8v2h-8zM371 96h8v4h-8zM369 100h8v2h-8zM367 102h8v2h-8zM367 104h6v2h-6zM365 106h8v2h-8zM365 108h6v2h-6zM363 110h8v2h-8zM363 112h6v2h-6zM361 114h6v4h-6zM359 118h6v4h-6zM465 118h6v2h-6zM471 120h2v2h-2zM471 132h2v2h-2zM357 122h6v4h-6zM461 122h2v6h-2zM461 132h2v2h-2zM461 138h2v2h-2zM473 122h2v10h-2zM355 126h8v2h-8zM355 128h6v4h-6zM353 132h6v4h-6zM351 136h6v4h-6zM469 136h2v2h-2zM467 138h2v2h-2zM349 140h8v2h-8zM349 142h6v2h-6zM347 144h8v2h-8zM347 146h6v2h-6zM345 148h6v2h-6zM343 150h8v2h-8zM343 152h6v2h-6zM341 154h6v2h-6zM339 156h8v2h-8zM337 158h8v2h-8zM335 160h8v2h-8zM335 162h6v2h-6zM333 164h6v2h-6zM331 166h6v2h-6zM329 168h6v2h-6zM327 170h4v2h-4zM325 172h4v2h-4zM323 174h4v2h-4zM319 176h6v2h-6zM317 178h6v2h-6zM313 180h6v2h-6zM311 182h6v2h-6zM309 184h6v2h-6zM307 186h6v2h-6zM305 188h6v2h-6zM305 190h4v2h-4zM303 192h4v2h-4zM301 194h6v4h-6zM299 198h6v2h-6zM297 200h8v4h-8zM295 204h10v2h-10zM295 252h10v2h-10zM293 206h10v2h-10zM293 248h10v2h-10zM291 208h10v2h-10zM291 246h10v2h-10zM291 210h6v2h-6zM289 212h6v2h-6zM287 214h6v4h-6zM287 218h4v2h-4zM285 220h6v8h-6zM285 232h6v2h-6zM283 228h8v4h-8zM441 230h14v2h-14zM429 232h38v2h-38zM285 234h8v4h-8zM427 234h44v2h-44zM423 236h8v2h-8zM457 236h18v2h-18zM287 238h8v2h-8zM421 238h6v2h-6zM463 238h16v2h-16zM287 240h10v2h-10zM417 240h6v2h-6zM465 240h16v2h-16zM289 242h8v2h-8zM413 242h8v2h-8zM469 242h14v2h-14zM289 244h10v2h-10zM409 244h10v2h-10zM471 244h14v2h-14zM405 246h10v2h-10zM473 246h14v2h-14zM401 248h12v2h-12zM475 248h14v2h-14zM293 250h12v2h-12zM399 250h10v2h-10zM477 250h14v4h-14zM397 252h10v2h-10zM295 254h12v2h-12zM393 254h10v2h-10zM479 254h14v2h-14zM297 256h12v2h-12zM389 256h12v2h-12zM479 256h16v2h-16zM297 258h14v2h-14zM369 258h28v2h-28zM481 258h14v2h-14zM299 260h14v2h-14zM359 260h24v2h-24zM481 260h16v2h-16zM299 262h16v4h-16zM345 262h32v2h-32zM483 262h14v2h-14zM335 264h38v2h-38zM483 264h16v4h-16zM299 266h18v2h-18zM329 266h42v2h-42zM299 268h20v4h-20zM325 268h44v2h-44zM485 268h16v2h-16zM321 270h46v4h-46zM487 270h14v2h-14zM297 272h20v2h-20zM487 272h16v2h-16zM293 274h20v2h-20zM321 274h44v2h-44zM489 274h14v2h-14zM289 276h20v2h-20zM323 276h42v2h-42zM491 276h14v2h-14zM285 278h20v2h-20zM285 366h20v2h-20zM325 278h40v4h-40zM493 278h12v2h-12zM279 280h24v2h-24zM493 280h14v2h-14zM277 282h24v2h-24zM327 282h36v4h-36zM495 282h12v2h-12zM273 284h24v2h-24zM495 284h14v2h-14zM271 286h24v2h-24zM329 286h34v2h-34zM497 286h14v2h-14zM271 288h20v2h-20zM271 338h20v4h-20zM331 288h30v2h-30zM497 288h16v2h-16zM269 290h20v2h-20zM333 290h28v2h-28zM499 290h16v2h-16zM269 292h16v2h-16zM335 292h26v4h-26zM501 292h16v2h-16zM267 294h16v2h-16zM267 304h16v2h-16zM503 294h18v2h-18zM267 296h14v8h-14zM337 296h24v2h-24zM505 296h18v2h-18zM339 298h22v2h-22zM507 298h20v2h-20zM341 300h20v2h-20zM511 300h18v2h-18zM341 302h18v2h-18zM341 320h18v2h-18zM515 302h16v2h-16zM343 304h16v16h-16zM519 304h16v2h-16zM267 306h18v2h-18zM267 352h18v2h-18zM521 306h14v2h-14zM267 308h22v2h-22zM523 308h14v2h-14zM267 310h24v2h-24zM525 310h14v2h-14zM267 312h28v2h-28zM525 312h16v4h-16zM269 314h28v2h-28zM269 316h30v2h-30zM527 316h16v2h-16zM269 318h32v2h-32zM525 318h18v2h-18zM271 320h32v2h-32zM525 320h20v4h-20zM271 322h36v2h-36zM341 322h16v2h-16zM271 324h38v2h-38zM339 324h18v2h-18zM525 324h22v2h-22zM271 326h40v2h-40zM337 326h18v4h-18zM525 326h24v2h-24zM271 328h42v4h-42zM525 328h26v2h-26zM335 330h18v2h-18zM525 330h28v2h-28zM271 332h44v4h-44zM333 332h18v2h-18zM525 332h32v2h-32zM329 334h20v2h-20zM525 334h34v2h-34zM271 336h46v2h-46zM327 336h18v2h-18zM527 336h36v2h-36zM299 338h42v2h-42zM529 338h38v2h-38zM301 340h38v4h-38zM531 340h38v2h-38zM271 342h18v4h-18zM533 342h40v2h-40zM303 344h34v2h-34zM537 344h38v2h-38zM269 346h18v4h-18zM303 346h32v4h-32zM539 346h36v2h-36zM539 388h36v14h-36zM541 348h34v2h-34zM541 384h34v4h-34zM541 402h34v6h-34zM541 412h34v4h-34zM267 350h20v2h-20zM301 350h32v2h-32zM543 350h32v2h-32zM543 382h32v2h-32zM543 408h32v4h-32zM543 416h32v4h-32zM301 352h30v2h-30zM545 352h30v2h-30zM545 378h30v4h-30zM545 420h30v2h-30zM265 354h18v2h-18zM299 354h30v2h-30zM547 354h28v2h-28zM547 376h28v2h-28zM263 356h16v2h-16zM297 356h28v2h-28zM549 356h26v2h-26zM549 372h26v4h-26zM259 358h18v2h-18zM295 358h26v2h-26zM551 358h24v14h-24zM227 360h12v2h-12zM253 360h24v2h-24zM291 360h26v2h-26zM223 362h52v2h-52zM289 362h24v2h-24zM221 364h54v2h-54zM287 364h22v2h-22zM221 366h52v2h-52zM219 368h54v2h-54zM279 368h22v2h-22zM219 370h80v2h-80zM219 372h42v2h-42zM265 372h32v2h-32zM219 374h76v2h-76zM219 376h74v2h-74zM219 378h72v2h-72zM219 380h70v2h-70zM217 382h68v2h-68zM217 384h64v2h-64zM217 386h56v2h-56zM217 388h28v2h-28zM259 388h6v2h-6zM219 390h22v2h-22zM219 392h18v2h-18zM223 394h10v2h-10zM553 422h22v2h-22zM559 424h16v2h-16zM561 426h14v2h-14zM563 428h12v4h-12zM565 432h10v12h-10zM567 444h8v10h-8zM569 454h6v6h-6zM571 460h4v2h-4zM573 462h2v2h-2z"/>
<path fill="#0099ff" d="M473 38h10v2h-10zM473 78h10v2h-10zM475 40h8v8h-8zM475 76h8v2h-8zM475 48h10v4h-10zM475 74h10v2h-10zM477 52h8v6h-8zM477 72h8v2h-8zM477 58h10v2h-10zM477 70h10v2h-10zM479 60h8v10h-8zM405 78h26v2h-26zM401 80h36v2h-36zM471 80h10v2h-10zM397 82h18v2h-18zM429 82h14v2h-14zM469 82h10v2h-10zM393 84h14v2h-14zM437 84h10v2h-10zM465 84h12v2h-12zM391 86h12v2h-12zM443 86h10v2h-10zM461 86h12v2h-12zM547 86h6v2h-6zM547 94h6v2h-6zM387 88h12v2h-12zM449 88h22v2h-22zM545 88h2v6h-2zM553 88h2v6h-2zM385 90h10v2h-10zM455 90h12v2h-12zM383 92h10v2h-10zM381 94h10v2h-10zM379 96h10v2h-10zM379 98h8v2h-8zM377 100h8v2h-8zM375 102h8v2h-8zM373 104h8v2h-8zM373 106h6v2h-6zM371 108h8v2h-8zM371 110h6v2h-6zM369 112h6v2h-6zM367 114h8v2h-8zM367 116h6v2h-6zM467 116h2v2h-2zM365 118h8v2h-8zM463 118h2v2h-2zM471 118h2v2h-2zM471 136h2v2h-2zM365 120h6v2h-6zM461 120h2v2h-2zM461 128h2v4h-2zM473 120h2v2h-2zM473 132h2v2h-2zM363 122h8v2h-8zM363 124h6v4h-6zM475 124h2v8h-2zM361 128h6v4h-6zM359 132h6v4h-6zM471 134h4v2h-4zM357 136h8v2h-8zM459 136h2v2h-2zM357 138h6v4h-6zM469 138h2v2h-2zM463 140h4v2h-4zM355 142h6v4h-6zM353 146h6v2h-6zM351 148h8v2h-8zM351 150h6v2h-6zM349 152h8v2h-8zM347 154h8v2h-8zM347 156h6v2h-6zM345 158h6v2h-6zM343 160h8v2h-8zM341 162h8v2h-8zM339 164h8v2h-8zM337 166h6v2h-6zM335 168h6v2h-6zM331 170h8v2h-8zM329 172h8v2h-8zM327 174h6v2h-6zM325 176h6v2h-6zM323 178h6v2h-6zM319 180h6v2h-6zM319 268h6v2h-6zM317 182h6v2h-6zM315 184h4v2h-4zM313 186h4v2h-4zM311 188h4v2h-4zM309 190h4v2h-4zM309 216h4v2h-4zM307 192h6v2h-6zM307 194h4v4h-4zM305 198h6v6h-6zM565 200h4v2h-4zM559 202h14v2h-14zM305 204h8v2h-8zM555 204h18v2h-18zM303 206h10v2h-10zM547 206h26v2h-26zM301 208h12v2h-12zM539 208h34v2h-34zM297 210h18v2h-18zM529 210h42v2h-42zM295 212h20v2h-20zM523 212h42v2h-42zM293 214h22v2h-22zM521 214h36v2h-36zM293 216h6v2h-6zM519 216h32v2h-32zM291 218h6v4h-6zM291 228h6v4h-6zM517 218h28v2h-28zM515 220h22v2h-22zM291 222h4v6h-4zM515 222h18v2h-18zM517 224h8v2h-8zM445 226h30v2h-30zM431 228h58v2h-58zM427 230h14v2h-14zM455 230h42v2h-42zM291 232h8v2h-8zM291 338h8v2h-8zM423 232h6v2h-6zM467 232h32v2h-32zM293 234h8v2h-8zM421 234h6v2h-6zM471 234h30v2h-30zM293 236h10v2h-10zM417 236h6v2h-6zM475 236h26v2h-26zM295 238h10v2h-10zM413 238h8v2h-8zM479 238h24v2h-24zM297 240h10v2h-10zM409 240h8v2h-8zM481 240h22v2h-22zM297 242h12v2h-12zM405 242h8v2h-8zM483 242h20v2h-20zM299 244h14v2h-14zM401 244h8v2h-8zM485 244h20v2h-20zM301 246h16v2h-16zM397 246h8v2h-8zM487 246h18v2h-18zM303 248h22v2h-22zM303 280h22v2h-22zM395 248h6v2h-6zM489 248h18v2h-18zM305 250h44v2h-44zM393 250h6v2h-6zM491 250h16v2h-16zM305 252h66v2h-66zM389 252h8v2h-8zM491 252h18v2h-18zM307 254h74v2h-74zM387 254h6v2h-6zM493 254h16v2h-16zM309 256h80v2h-80zM495 256h16v4h-16zM311 258h58v2h-58zM313 260h46v2h-46zM497 260h16v4h-16zM315 262h30v2h-30zM315 264h20v2h-20zM499 264h16v4h-16zM317 266h12v2h-12zM501 268h14v2h-14zM319 270h2v2h-2zM501 270h16v2h-16zM317 272h4v2h-4zM503 272h14v4h-14zM313 274h8v2h-8zM309 276h14v2h-14zM505 276h14v4h-14zM305 278h20v2h-20zM507 280h14v4h-14zM301 282h26v2h-26zM297 284h30v2h-30zM509 284h14v2h-14zM295 286h34v2h-34zM511 286h14v2h-14zM291 288h40v2h-40zM513 288h14v2h-14zM289 290h44v2h-44zM515 290h14v2h-14zM285 292h50v2h-50zM517 292h16v2h-16zM283 294h52v2h-52zM521 294h18v2h-18zM281 296h56v2h-56zM523 296h20v2h-20zM281 298h58v2h-58zM527 298h18v2h-18zM281 300h60v4h-60zM529 300h20v2h-20zM531 302h20v2h-20zM283 304h60v2h-60zM535 304h20v2h-20zM285 306h58v2h-58zM535 306h22v2h-22zM289 308h54v2h-54zM537 308h22v2h-22zM291 310h52v2h-52zM539 310h22v2h-22zM295 312h48v2h-48zM541 312h24v2h-24zM297 314h46v2h-46zM541 314h28v2h-28zM299 316h44v2h-44zM543 316h32v4h-32zM301 318h42v2h-42zM303 320h38v2h-38zM545 320h30v4h-30zM307 322h34v2h-34zM309 324h30v2h-30zM547 324h28v2h-28zM311 326h26v2h-26zM549 326h26v2h-26zM313 328h24v2h-24zM551 328h24v2h-24zM313 330h22v2h-22zM553 330h22v2h-22zM315 332h18v2h-18zM557 332h18v2h-18zM315 334h14v2h-14zM559 334h16v2h-16zM317 336h10v2h-10zM563 336h12v2h-12zM567 338h8v2h-8zM291 340h10v2h-10zM569 340h6v2h-6zM289 342h12v2h-12zM573 342h2v2h-2zM289 344h14v2h-14zM287 346h16v4h-16zM287 350h14v2h-14zM285 352h16v2h-16zM283 354h16v2h-16zM279 356h18v2h-18zM277 358h18v2h-18zM277 360h14v2h-14zM275 362h14v2h-14zM275 364h12v2h-12zM273 366h12v2h-12zM273 368h6v2h-6zM261 372h4v2h-4z"/>
<path fill="#00b3ff" d="M483 38h12v10h-12zM485 48h10v4h-10zM485 52h12v6h-12zM485 72h12v4h-12zM487 58h10v14h-10zM567 64h2v4h-2zM483 76h14v4h-14zM481 80h14v2h-14zM415 82h14v2h-14zM479 82h16v2h-16zM407 84h30v2h-30zM477 84h16v2h-16zM545 84h10v2h-10zM403 86h40v2h-40zM473 86h20v2h-20zM543 86h4v2h-4zM543 94h4v2h-4zM553 86h4v2h-4zM399 88h14v2h-14zM439 88h10v2h-10zM471 88h20v2h-20zM543 88h2v6h-2zM555 88h2v6h-2zM395 90h14v2h-14zM445 90h10v2h-10zM467 90h22v2h-22zM393 92h12v2h-12zM449 92h38v2h-38zM391 94h10v2h-10zM455 94h30v2h-30zM553 94h2v2h-2zM389 96h10v2h-10zM461 96h22v2h-22zM547 96h6v2h-6zM387 98h8v2h-8zM387 248h8v2h-8zM385 100h8v2h-8zM383 102h8v2h-8zM381 104h8v2h-8zM379 106h8v4h-8zM377 110h8v2h-8zM375 112h8v2h-8zM375 114h6v2h-6zM373 116h8v2h-8zM463 116h4v2h-4zM469 116h6v2h-6zM373 118h6v2h-6zM461 118h2v2h-2zM461 140h2v2h-2zM473 118h4v2h-4zM371 120h8v2h-8zM475 120h2v2h-2zM475 134h2v2h-2zM371 122h6v2h-6zM459 122h2v4h-2zM459 132h2v4h-2zM459 138h2v2h-2zM475 122h4v2h-4zM475 132h4v2h-4zM369 124h8v2h-8zM477 124h2v8h-2zM369 126h6v2h-6zM367 128h8v2h-8zM367 130h6v2h-6zM365 132h8v2h-8zM365 134h6v4h-6zM473 136h2v2h-2zM363 138h6v4h-6zM471 138h2v2h-2zM467 140h2v2h-2zM361 142h6v4h-6zM359 146h6v4h-6zM357 150h6v4h-6zM355 154h6v2h-6zM353 156h8v2h-8zM351 158h8v2h-8zM351 160h6v2h-6zM349 162h6v2h-6zM347 164h6v2h-6zM343 166h8v2h-8zM341 168h8v2h-8zM339 170h8v2h-8zM337 172h8v2h-8zM333 174h8v2h-8zM331 176h8v2h-8zM329 178h6v2h-6zM325 180h8v2h-8zM323 182h6v2h-6zM319 184h6v2h-6zM317 186h6v2h-6zM315 188h4v2h-4zM313 190h4v4h-4zM313 204h4v2h-4zM311 194h4v8h-4zM557 194h14v2h-14zM551 196h24v2h-24zM551 216h24v2h-24zM551 302h24v2h-24zM543 198h32v2h-32zM543 296h32v2h-32zM527 200h38v2h-38zM569 200h6v2h-6zM569 314h6v2h-6zM311 202h6v2h-6zM521 202h38v2h-38zM573 202h2v8h-2zM517 204h38v2h-38zM313 206h6v4h-6zM513 206h34v2h-34zM507 208h32v2h-32zM315 210h6v6h-6zM503 210h26v2h-26zM503 238h26v2h-26zM571 210h4v2h-4zM497 212h26v2h-26zM565 212h10v2h-10zM565 312h10v2h-10zM493 214h28v2h-28zM557 214h18v2h-18zM557 306h18v2h-18zM299 216h10v2h-10zM313 216h8v2h-8zM489 216h30v2h-30zM297 218h24v2h-24zM297 230h24v2h-24zM479 218h38v2h-38zM545 218h30v2h-30zM545 298h30v2h-30zM297 220h6v2h-6zM305 220h16v2h-16zM457 220h58v2h-58zM537 220h36v2h-36zM295 222h8v4h-8zM307 222h14v2h-14zM447 222h68v2h-68zM533 222h34v2h-34zM307 224h12v2h-12zM435 224h82v2h-82zM525 224h38v2h-38zM295 226h24v2h-24zM429 226h16v2h-16zM475 226h84v2h-84zM297 228h22v2h-22zM425 228h6v2h-6zM489 228h64v2h-64zM421 230h6v2h-6zM497 230h50v2h-50zM299 232h24v2h-24zM419 232h4v2h-4zM499 232h44v2h-44zM301 234h24v2h-24zM413 234h8v2h-8zM501 234h36v2h-36zM303 236h26v2h-26zM409 236h8v2h-8zM501 236h32v2h-32zM305 238h30v2h-30zM405 238h8v2h-8zM307 240h36v2h-36zM399 240h10v2h-10zM503 240h24v4h-24zM309 242h44v2h-44zM397 242h8v2h-8zM313 244h50v2h-50zM393 244h8v2h-8zM505 244h20v4h-20zM317 246h54v2h-54zM391 246h6v2h-6zM325 248h52v2h-52zM507 248h18v2h-18zM349 250h44v2h-44zM507 250h20v2h-20zM371 252h18v2h-18zM509 252h18v4h-18zM381 254h6v2h-6zM511 256h18v4h-18zM513 260h16v2h-16zM513 262h18v2h-18zM515 264h16v2h-16zM515 266h18v4h-18zM517 270h16v2h-16zM517 272h18v2h-18zM517 274h20v2h-20zM519 276h20v2h-20zM519 278h24v2h-24zM521 280h28v2h-28zM521 282h54v2h-54zM523 284h52v2h-52zM525 286h50v2h-50zM527 288h48v2h-48zM529 290h46v2h-46zM533 292h42v2h-42zM539 294h36v2h-36zM549 300h26v2h-26zM555 304h20v2h-20zM559 308h16v2h-16zM561 310h14v2h-14z"/>
<path fill="#00ccff" d="M495 38h16v14h-16zM497 52h16v4h-16zM497 56h18v4h-18zM497 60h20v6h-20zM565 62h6v2h-6zM565 68h6v2h-6zM563 64h4v4h-4zM569 64h2v4h-2zM497 66h22v6h-22zM497 72h24v8h-24zM495 80h24v4h-24zM545 80h10v2h-10zM545 98h10v2h-10zM543 82h14v2h-14zM493 84h26v2h-26zM541 84h4v2h-4zM555 84h4v2h-4zM555 94h4v2h-4zM493 86h24v2h-24zM539 86h4v8h-4zM557 86h2v8h-2zM413 88h26v2h-26zM491 88h24v2h-24zM409 90h36v2h-36zM489 90h26v2h-26zM405 92h14v2h-14zM441 92h8v2h-8zM487 92h26v2h-26zM401 94h12v2h-12zM447 94h8v2h-8zM485 94h26v2h-26zM541 94h2v2h-2zM399 96h10v2h-10zM399 236h10v2h-10zM451 96h10v2h-10zM483 96h26v2h-26zM541 96h6v2h-6zM553 96h4v2h-4zM395 98h10v2h-10zM395 238h10v2h-10zM453 98h54v2h-54zM393 100h10v2h-10zM457 100h50v2h-50zM391 102h10v2h-10zM459 102h46v2h-46zM389 104h10v2h-10zM463 104h40v2h-40zM387 106h10v2h-10zM387 242h10v2h-10zM465 106h36v2h-36zM387 108h8v2h-8zM465 108h34v4h-34zM385 110h8v2h-8zM383 112h8v2h-8zM465 112h32v2h-32zM381 114h8v2h-8zM463 114h32v2h-32zM381 116h6v2h-6zM461 116h2v2h-2zM475 116h20v2h-20zM379 118h8v2h-8zM459 118h2v4h-2zM459 126h2v6h-2zM459 140h2v2h-2zM477 118h16v4h-16zM379 120h6v2h-6zM377 122h8v2h-8zM479 122h12v4h-12zM377 124h6v2h-6zM375 126h6v4h-6zM479 126h10v4h-10zM373 130h6v4h-6zM479 130h8v4h-8zM371 134h6v4h-6zM477 134h8v2h-8zM475 136h8v2h-8zM369 138h6v4h-6zM473 138h6v2h-6zM469 140h6v2h-6zM367 142h6v4h-6zM463 142h6v2h-6zM365 146h6v4h-6zM363 150h8v2h-8zM363 152h6v2h-6zM361 154h8v2h-8zM361 156h6v2h-6zM359 158h8v2h-8zM357 160h8v2h-8zM355 162h8v2h-8zM353 164h8v2h-8zM351 166h8v2h-8zM349 168h8v2h-8zM347 170h8v2h-8zM345 172h8v2h-8zM341 174h10v2h-10zM339 176h10v2h-10zM335 178h10v2h-10zM333 180h10v2h-10zM329 182h10v2h-10zM325 184h10v2h-10zM323 186h8v2h-8zM319 188h8v2h-8zM553 188h20v2h-20zM317 190h8v2h-8zM547 190h28v2h-28zM547 230h28v2h-28zM317 192h4v2h-4zM541 192h34v2h-34zM315 194h6v2h-6zM315 198h6v4h-6zM523 194h34v2h-34zM571 194h4v2h-4zM315 196h4v2h-4zM519 196h32v2h-32zM513 198h30v2h-30zM509 200h18v2h-18zM317 202h6v4h-6zM503 202h18v2h-18zM499 204h18v2h-18zM319 206h6v4h-6zM493 206h20v2h-20zM487 208h20v2h-20zM321 210h6v4h-6zM481 210h22v2h-22zM471 212h26v2h-26zM321 214h8v6h-8zM461 214h32v2h-32zM453 216h36v2h-36zM447 218h32v2h-32zM303 220h2v2h-2zM321 220h10v4h-10zM441 220h16v2h-16zM573 220h2v2h-2zM303 222h4v4h-4zM433 222h14v2h-14zM567 222h8v2h-8zM319 224h14v2h-14zM427 224h8v2h-8zM563 224h12v2h-12zM319 226h16v2h-16zM423 226h6v2h-6zM559 226h16v2h-16zM319 228h20v2h-20zM419 228h6v2h-6zM553 228h22v2h-22zM321 230h20v2h-20zM415 230h6v2h-6zM323 232h24v2h-24zM411 232h8v2h-8zM543 232h32v2h-32zM543 278h32v2h-32zM325 234h28v2h-28zM405 234h8v2h-8zM537 234h38v2h-38zM537 274h38v2h-38zM329 236h30v2h-30zM533 236h42v2h-42zM533 266h42v6h-42zM335 238h30v2h-30zM529 238h46v2h-46zM529 256h46v6h-46zM343 240h30v2h-30zM391 240h8v2h-8zM527 240h48v4h-48zM527 250h48v6h-48zM353 242h26v2h-26zM363 244h30v2h-30zM525 244h50v6h-50zM371 246h20v2h-20zM377 248h10v2h-10zM531 262h44v4h-44zM535 272h40v2h-40zM539 276h36v2h-36zM549 280h26v2h-26z"/>
<path fill="#00e6ff" d="M511 38h52v4h-52zM511 42h54v4h-54zM511 46h56v4h-56zM511 50h58v2h-58zM513 52h58v4h-58zM515 56h58v2h-58zM515 58h60v2h-60zM517 60h58v2h-58zM517 62h48v2h-48zM571 62h4v8h-4zM517 64h46v2h-46zM519 66h44v2h-44zM519 68h46v2h-46zM519 70h56v2h-56zM521 72h54v8h-54zM519 80h26v2h-26zM555 80h20v2h-20zM555 98h20v2h-20zM519 82h24v2h-24zM557 82h18v2h-18zM557 96h18v2h-18zM557 178h18v2h-18zM519 84h22v2h-22zM559 84h16v12h-16zM517 86h22v2h-22zM515 88h24v4h-24zM419 92h22v2h-22zM513 92h26v2h-26zM413 94h34v2h-34zM511 94h30v2h-30zM511 192h30v2h-30zM409 96h16v2h-16zM443 96h8v2h-8zM509 96h32v2h-32zM405 98h14v2h-14zM447 98h6v2h-6zM507 98h38v2h-38zM403 100h12v2h-12zM449 100h8v2h-8zM507 100h68v2h-68zM401 102h10v2h-10zM451 102h8v2h-8zM505 102h68v2h-68zM399 104h10v2h-10zM453 104h10v2h-10zM503 104h66v2h-66zM397 106h8v2h-8zM455 106h10v2h-10zM501 106h66v2h-66zM395 108h8v2h-8zM457 108h8v4h-8zM499 108h64v2h-64zM393 110h8v2h-8zM499 110h58v2h-58zM391 112h8v2h-8zM459 112h6v2h-6zM497 112h50v2h-50zM389 114h8v2h-8zM459 114h4v2h-4zM495 114h34v2h-34zM387 116h8v4h-8zM459 116h2v2h-2zM495 116h26v2h-26zM457 118h2v22h-2zM493 118h22v2h-22zM385 120h8v2h-8zM493 120h18v2h-18zM385 122h6v2h-6zM491 122h16v2h-16zM383 124h8v2h-8zM491 124h14v2h-14zM381 126h8v2h-8zM489 126h14v2h-14zM381 128h6v2h-6zM489 128h12v2h-12zM379 130h8v2h-8zM379 242h8v2h-8zM487 130h12v4h-12zM379 132h6v2h-6zM377 134h8v2h-8zM485 134h12v2h-12zM377 136h6v2h-6zM483 136h14v2h-14zM375 138h8v2h-8zM479 138h18v2h-18zM375 140h6v2h-6zM475 140h20v2h-20zM373 142h6v4h-6zM461 142h2v2h-2zM469 142h24v2h-24zM465 144h28v2h-28zM371 146h6v4h-6zM471 146h20v2h-20zM473 148h16v2h-16zM371 150h4v2h-4zM477 150h8v2h-8zM369 152h6v4h-6zM367 156h6v4h-6zM365 160h6v2h-6zM363 162h6v2h-6zM361 164h8v2h-8zM359 166h8v2h-8zM357 168h8v2h-8zM355 170h8v2h-8zM353 172h10v2h-10zM351 174h10v2h-10zM349 176h10v2h-10zM345 178h10v2h-10zM343 180h10v2h-10zM551 180h24v2h-24zM339 182h12v2h-12zM547 182h28v2h-28zM335 184h14v2h-14zM541 184h34v2h-34zM331 186h14v2h-14zM527 186h48v2h-48zM327 188h14v2h-14zM521 188h32v2h-32zM573 188h2v2h-2zM325 190h14v2h-14zM515 190h32v2h-32zM321 192h14v2h-14zM321 194h12v2h-12zM507 194h16v2h-16zM319 196h12v2h-12zM501 196h18v2h-18zM321 198h8v2h-8zM497 198h16v2h-16zM321 200h10v2h-10zM491 200h18v2h-18zM323 202h8v4h-8zM485 202h18v2h-18zM479 204h20v2h-20zM325 206h8v2h-8zM471 206h22v2h-22zM325 208h10v2h-10zM463 208h24v2h-24zM327 210h8v2h-8zM457 210h24v2h-24zM327 212h10v2h-10zM451 212h20v2h-20zM329 214h8v2h-8zM447 214h14v2h-14zM329 216h10v2h-10zM443 216h10v2h-10zM329 218h12v2h-12zM437 218h10v2h-10zM331 220h12v2h-12zM431 220h10v2h-10zM331 222h16v2h-16zM425 222h8v2h-8zM333 224h18v2h-18zM421 224h6v2h-6zM335 226h20v2h-20zM417 226h6v2h-6zM339 228h20v2h-20zM413 228h6v2h-6zM341 230h22v2h-22zM405 230h10v2h-10zM347 232h22v2h-22zM397 232h14v2h-14zM353 234h22v2h-22zM391 234h14v2h-14zM359 236h40v2h-40zM365 238h30v2h-30zM373 240h18v2h-18z"/>
<path fill="#00ffff" d="M563 38h12v4h-12zM563 108h12v2h-12zM565 42h10v4h-10zM567 46h8v4h-8zM567 106h8v2h-8zM569 50h6v2h-6zM569 104h6v2h-6zM571 52h4v4h-4zM573 56h2v2h-2zM573 102h2v2h-2zM425 96h18v2h-18zM419 98h28v2h-28zM415 100h16v2h-16zM441 100h8v2h-8zM411 102h14v2h-14zM445 102h6v2h-6zM409 104h12v2h-12zM447 104h6v2h-6zM405 106h14v2h-14zM447 106h8v2h-8zM403 108h12v2h-12zM449 108h8v2h-8zM401 110h10v2h-10zM451 110h6v2h-6zM557 110h18v2h-18zM399 112h10v2h-10zM451 112h8v2h-8zM547 112h28v2h-28zM547 148h28v2h-28zM547 164h28v2h-28zM397 114h10v2h-10zM453 114h6v4h-6zM529 114h46v2h-46zM395 116h10v2h-10zM521 116h54v2h-54zM395 118h8v2h-8zM453 118h4v6h-4zM515 118h60v2h-60zM393 120h8v2h-8zM511 120h64v2h-64zM391 122h10v2h-10zM507 122h68v2h-68zM391 124h8v2h-8zM455 124h2v16h-2zM505 124h70v2h-70zM389 126h8v2h-8zM503 126h72v2h-72zM387 128h8v4h-8zM501 128h74v2h-74zM499 130h76v4h-76zM385 132h8v2h-8zM385 134h6v2h-6zM497 134h78v6h-78zM383 136h8v2h-8zM383 138h6v2h-6zM381 140h8v2h-8zM457 140h2v2h-2zM495 140h80v2h-80zM379 142h8v2h-8zM457 142h4v2h-4zM493 142h24v2h-24zM533 142h42v2h-42zM379 144h6v2h-6zM461 144h4v2h-4zM493 144h20v2h-20zM539 144h36v2h-36zM539 170h36v2h-36zM377 146h8v2h-8zM463 146h8v2h-8zM491 146h18v2h-18zM543 146h32v2h-32zM377 148h6v2h-6zM465 148h8v2h-8zM489 148h18v2h-18zM489 194h18v2h-18zM375 150h8v2h-8zM467 150h10v2h-10zM485 150h18v2h-18zM549 150h26v4h-26zM549 160h26v4h-26zM375 152h6v4h-6zM469 152h32v2h-32zM471 154h26v2h-26zM551 154h24v6h-24zM373 156h6v4h-6zM473 156h20v2h-20zM477 158h10v2h-10zM371 160h6v2h-6zM369 162h8v2h-8zM369 164h6v2h-6zM367 166h6v2h-6zM545 166h30v2h-30zM365 168h8v2h-8zM541 168h34v2h-34zM363 170h8v2h-8zM363 172h6v2h-6zM535 172h40v2h-40zM361 174h8v2h-8zM531 174h44v2h-44zM359 176h8v2h-8zM525 176h50v2h-50zM355 178h10v2h-10zM521 178h36v2h-36zM353 180h10v2h-10zM517 180h34v2h-34zM351 182h10v2h-10zM513 182h34v2h-34zM349 184h10v2h-10zM511 184h30v2h-30zM345 186h14v2h-14zM507 186h20v2h-20zM341 188h16v2h-16zM503 188h18v2h-18zM339 190h16v2h-16zM499 190h16v2h-16zM335 192h18v2h-18zM493 192h18v2h-18zM333 194h18v2h-18zM331 196h18v2h-18zM483 196h18v2h-18zM329 198h18v2h-18zM477 198h20v2h-20zM331 200h16v6h-16zM471 200h20v2h-20zM465 202h20v2h-20zM459 204h20v2h-20zM333 206h14v2h-14zM455 206h16v2h-16zM335 208h14v4h-14zM451 208h12v2h-12zM447 210h10v2h-10zM337 212h14v2h-14zM443 212h8v2h-8zM337 214h16v2h-16zM439 214h8v2h-8zM339 216h18v2h-18zM433 216h10v2h-10zM341 218h18v2h-18zM427 218h10v2h-10zM343 220h20v2h-20zM423 220h8v2h-8zM347 222h20v2h-20zM419 222h6v2h-6zM351 224h20v2h-20zM415 224h6v2h-6zM355 226h20v2h-20zM407 226h10v2h-10zM359 228h54v2h-54zM363 230h42v2h-42zM369 232h28v2h-28zM375 234h16v2h-16z"/>
<path fill="#00ffe5" d="M431 100h10v2h-10zM425 102h20v2h-20zM421 104h26v2h-26zM419 106h28v2h-28zM415 108h34v2h-34zM411 110h22v2h-22zM439 110h12v2h-12zM409 112h18v2h-18zM441 112h10v2h-10zM407 114h14v2h-14zM443 114h10v4h-10zM405 116h12v2h-12zM403 118h12v2h-12zM445 118h8v4h-8zM401 120h12v2h-12zM401 122h10v2h-10zM447 122h6v2h-6zM399 124h10v2h-10zM447 124h8v6h-8zM397 126h10v2h-10zM395 128h10v4h-10zM449 130h6v4h-6zM393 132h10v2h-10zM391 134h10v4h-10zM451 134h4v4h-4zM389 138h10v2h-10zM453 138h2v2h-2zM389 140h8v2h-8zM453 140h4v2h-4zM387 142h10v2h-10zM455 142h2v2h-2zM517 142h16v2h-16zM385 144h10v2h-10zM457 144h4v2h-4zM513 144h26v2h-26zM385 146h8v2h-8zM457 146h6v2h-6zM509 146h34v2h-34zM383 148h8v4h-8zM459 148h6v2h-6zM507 148h40v2h-40zM443 150h4v4h-4zM461 150h6v2h-6zM503 150h46v2h-46zM381 152h8v2h-8zM463 152h6v2h-6zM501 152h48v2h-48zM381 154h6v2h-6zM465 154h6v2h-6zM497 154h54v2h-54zM379 156h8v2h-8zM467 156h6v2h-6zM493 156h58v2h-58zM379 158h6v2h-6zM469 158h8v2h-8zM487 158h64v2h-64zM377 160h6v4h-6zM471 160h78v2h-78zM473 162h76v2h-76zM375 164h6v2h-6zM479 164h68v2h-68zM373 166h8v2h-8zM501 166h44v2h-44zM373 168h6v2h-6zM503 168h38v2h-38zM371 170h8v2h-8zM503 170h36v2h-36zM369 172h8v4h-8zM503 172h32v2h-32zM503 174h28v2h-28zM367 176h8v2h-8zM503 176h22v2h-22zM365 178h8v2h-8zM501 178h20v2h-20zM363 180h10v2h-10zM499 180h18v2h-18zM361 182h10v2h-10zM497 182h16v2h-16zM359 184h10v4h-10zM493 184h18v2h-18zM489 186h18v2h-18zM357 188h10v2h-10zM485 188h18v2h-18zM355 190h12v2h-12zM481 190h18v2h-18zM353 192h12v2h-12zM477 192h16v2h-16zM351 194h14v2h-14zM471 194h18v2h-18zM349 196h14v2h-14zM467 196h16v2h-16zM347 198h16v8h-16zM461 198h16v2h-16zM457 200h14v2h-14zM453 202h12v2h-12zM449 204h10v2h-10zM347 206h18v2h-18zM445 206h10v2h-10zM349 208h16v2h-16zM443 208h8v2h-8zM349 210h18v2h-18zM439 210h8v2h-8zM351 212h18v2h-18zM435 212h8v2h-8zM353 214h18v2h-18zM429 214h10v2h-10zM357 216h18v2h-18zM425 216h8v2h-8zM359 218h20v2h-20zM421 218h6v2h-6zM363 220h22v2h-22zM417 220h6v2h-6zM367 222h34v2h-34zM407 222h12v2h-12zM371 224h44v2h-44zM375 226h32v2h-32z"/>
<path fill="#00ffcc" d="M433 110h6v2h-6zM427 112h14v2h-14zM421 114h22v2h-22zM417 116h26v2h-26zM415 118h30v2h-30zM413 120h32v2h-32zM411 122h36v2h-36zM409 124h38v2h-38zM407 126h16v2h-16zM433 126h14v2h-14zM405 128h16v2h-16zM435 128h12v2h-12zM405 130h14v2h-14zM435 130h14v4h-14zM403 132h14v2h-14zM401 134h14v4h-14zM437 134h14v2h-14zM439 136h12v2h-12zM399 138h14v2h-14zM441 138h12v2h-12zM397 140h16v4h-16zM443 140h10v2h-10zM445 142h10v2h-10zM395 144h16v2h-16zM423 144h2v2h-2zM447 144h10v2h-10zM393 146h16v2h-16zM421 146h6v2h-6zM451 146h6v2h-6zM391 148h14v2h-14zM421 148h4v2h-4zM441 148h8v2h-8zM441 204h8v2h-8zM453 148h6v2h-6zM391 150h12v2h-12zM441 150h2v4h-2zM447 150h2v4h-2zM455 150h6v2h-6zM389 152h12v2h-12zM457 152h6v2h-6zM387 154h10v2h-10zM443 154h4v2h-4zM459 154h6v2h-6zM387 156h8v2h-8zM461 156h6v2h-6zM385 158h8v2h-8zM463 158h6v2h-6zM383 160h10v2h-10zM463 160h8v2h-8zM383 162h8v2h-8zM465 162h8v2h-8zM381 164h8v4h-8zM469 164h10v2h-10zM471 166h30v2h-30zM379 168h8v4h-8zM473 168h30v2h-30zM477 170h26v2h-26zM377 172h8v4h-8zM479 172h24v2h-24zM481 174h22v2h-22zM375 176h8v2h-8zM483 176h20v2h-20zM373 178h10v2h-10zM483 178h18v2h-18zM373 180h8v2h-8zM481 180h18v2h-18zM371 182h10v2h-10zM479 182h18v2h-18zM369 184h10v4h-10zM477 184h16v2h-16zM475 186h14v2h-14zM367 188h10v4h-10zM471 188h14v2h-14zM467 190h14v2h-14zM365 192h12v4h-12zM463 192h14v2h-14zM459 194h12v2h-12zM363 196h14v8h-14zM455 196h12v2h-12zM453 198h8v2h-8zM449 200h8v2h-8zM445 202h8v2h-8zM363 204h16v2h-16zM365 206h16v2h-16zM437 206h8v2h-8zM365 208h18v2h-18zM433 208h10v2h-10zM367 210h18v2h-18zM429 210h10v2h-10zM369 212h20v2h-20zM423 212h12v2h-12zM371 214h24v2h-24zM419 214h10v2h-10zM375 216h26v2h-26zM415 216h10v2h-10zM379 218h42v2h-42zM385 220h32v2h-32zM401 222h6v2h-6z"/>
<path fill="#00ffb2" d="M423 126h10v2h-10zM421 128h14v2h-14zM419 130h16v2h-16zM417 132h18v2h-18zM415 134h22v2h-22zM415 136h24v2h-24zM413 138h28v2h-28zM413 140h30v2h-30zM413 142h32v2h-32zM411 144h12v2h-12zM425 144h22v2h-22zM409 146h12v2h-12zM427 146h24v2h-24zM405 148h16v2h-16zM425 148h16v2h-16zM449 148h4v2h-4zM403 150h38v2h-38zM449 150h6v2h-6zM449 196h6v2h-6zM401 152h32v2h-32zM439 152h2v2h-2zM449 152h8v2h-8zM397 154h32v2h-32zM441 154h2v2h-2zM447 154h12v2h-12zM395 156h30v2h-30zM443 156h4v2h-4zM455 156h6v2h-6zM393 158h24v2h-24zM457 158h6v4h-6zM393 160h16v2h-16zM391 162h14v2h-14zM459 162h6v2h-6zM389 164h12v2h-12zM461 164h8v2h-8zM389 166h10v2h-10zM463 166h8v2h-8zM387 168h10v2h-10zM463 168h10v2h-10zM387 170h8v2h-8zM465 170h12v2h-12zM465 184h12v2h-12zM385 172h10v2h-10zM467 172h12v2h-12zM467 182h12v2h-12zM385 174h8v2h-8zM469 174h12v2h-12zM469 180h12v2h-12zM383 176h10v2h-10zM471 176h12v2h-12zM383 178h8v2h-8zM469 178h14v2h-14zM381 180h10v4h-10zM379 184h12v2h-12zM379 186h10v2h-10zM463 186h12v2h-12zM377 188h12v8h-12zM461 188h10v2h-10zM459 190h8v2h-8zM455 192h8v2h-8zM453 194h6v2h-6zM377 196h14v4h-14zM445 198h8v2h-8zM377 200h16v2h-16zM441 200h8v2h-8zM377 202h18v2h-18zM435 202h10v2h-10zM379 204h18v2h-18zM429 204h12v2h-12zM381 206h20v2h-20zM421 206h16v2h-16zM383 208h22v2h-22zM417 208h16v2h-16zM385 210h44v2h-44zM389 212h34v2h-34zM395 214h24v2h-24zM401 216h14v2h-14z"/>
<path fill="#00ff99" d="M433 152h6v2h-6zM429 154h12v2h-12zM425 156h18v2h-18zM447 156h8v2h-8zM417 158h14v2h-14zM449 158h8v2h-8zM409 160h20v2h-20zM453 160h4v2h-4zM405 162h20v2h-20zM453 162h6v2h-6zM453 190h6v2h-6zM401 164h20v2h-20zM401 206h20v2h-20zM455 164h6v2h-6zM455 188h6v2h-6zM399 166h18v2h-18zM457 166h6v4h-6zM457 186h6v2h-6zM397 168h18v2h-18zM395 170h16v2h-16zM457 170h8v2h-8zM457 184h8v2h-8zM395 172h14v2h-14zM457 172h10v2h-10zM393 174h14v4h-14zM459 174h10v2h-10zM459 178h10v4h-10zM459 176h12v2h-12zM391 178h14v8h-14zM459 182h8v2h-8zM389 186h16v4h-16zM389 190h18v2h-18zM389 192h20v2h-20zM449 192h6v2h-6zM389 194h22v2h-22zM447 194h6v2h-6zM391 196h28v2h-28zM441 196h8v2h-8zM391 198h38v2h-38zM431 198h14v2h-14zM393 200h48v2h-48zM395 202h40v2h-40zM397 204h32v2h-32zM405 208h12v2h-12z"/>
<path fill="#00ff80" d="M431 158h18v2h-18zM429 160h24v2h-24zM425 162h10v2h-10zM449 162h4v2h-4zM421 164h10v2h-10zM451 164h4v2h-4zM451 188h4v2h-4zM417 166h12v2h-12zM451 166h6v2h-6zM415 168h12v2h-12zM453 168h4v6h-4zM453 184h4v4h-4zM411 170h14v2h-14zM409 172h14v2h-14zM407 174h14v4h-14zM453 174h6v4h-6zM405 178h14v6h-14zM455 178h4v6h-4zM405 184h16v4h-16zM405 188h18v2h-18zM407 190h18v2h-18zM447 190h6v2h-6zM409 192h20v2h-20zM443 192h6v2h-6zM411 194h36v2h-36zM419 196h22v2h-22zM429 198h2v2h-2z"/>
<path fill="#00ff66" d="M435 162h14v2h-14zM431 164h20v2h-20zM429 166h10v2h-10zM447 166h4v2h-4zM427 168h8v2h-8zM447 168h6v2h-6zM447 186h6v2h-6zM425 170h8v2h-8zM449 170h4v8h-4zM449 184h4v2h-4zM423 172h8v2h-8zM421 174h10v2h-10zM421 186h10v2h-10zM421 176h8v2h-8zM421 184h8v2h-8zM419 178h10v6h-10zM451 178h4v6h-4zM423 188h12v2h-12zM443 188h8v2h-8zM425 190h22v2h-22zM429 192h14v2h-14z"/>
<path fill="#00ff4c" d="M439 166h8v2h-8zM435 168h12v2h-12zM433 170h16v2h-16zM431 172h18v2h-18zM431 174h8v2h-8zM443 174h6v2h-6zM429 176h8v8h-8zM445 176h4v2h-4zM445 178h6v6h-6zM429 184h20v2h-20zM431 186h16v2h-16zM435 188h8v2h-8z"/>
<path fill="#00ff33" d="M439 174h4v2h-4zM437 176h8v8h-8z"/>
</g>
<g stroke="#000" stroke-width="1" shape-rendering="crispEdges">
<line x1="168.5" y1="38" x2="168.5" y2="465"/>
<line x1="236.5" y1="38" x2="236.5" y2="465"/>
<line x1="304.5" y1="38" x2="304.5" y2="465"/>
<line x1="372.5" y1="38" x2="372.5" y2="465"/>
<line x1="440.5" y1="38" x2="440.5" y2="465"/>
<line x1="508.5" y1="38" x2="508.5" y2="465"/>
<line x1="155" y1="398.5" x2="575" y2="398.5"/>
<line x1="155" y1="329.5" x2="575" y2="329.5"/>
<line x1="155" y1="259.5" x2="575" y2="259.5"/>
<line x1="155" y1="188.5" x2="575" y2="188.5"/>
<line x1="155" y1="114.5" x2="575" y2="114.5"/>
</g>
<clipPath id="fc"><rect x="155" y="38" width="420" height="427"/></clipPath>
<path clip-path="url(#fc)" d="M168.0 465.7L177.0 476.3M176.3 471.1L177.0 476.3L172.0 474.8M168.0 424.9L176.6 435.8M176.1 430.7L176.6 435.8L171.7 434.2M168.0 411.3L175.6 423.0M175.6 417.8L175.6 423.0L170.9 420.9M168.0 384.0L170.9 397.7M172.8 392.9L170.9 397.7L167.2 394.0M168.0 342.8L153.8 343.5M158.2 346.1L153.8 343.5L158.0 340.4M168.0 329.0L153.7 329.0M158.0 331.8L153.7 329.0L158.0 326.2M168.0 315.2L153.6 315.2M158.0 318.0L153.6 315.2L158.0 312.4M168.0 301.3L153.7 302.9M158.3 305.2L153.7 302.9L157.7 299.6M168.0 37.7L161.5 50.8M166.0 48.1L161.5 50.8L160.9 45.6M181.6 465.7L188.7 477.6M188.9 472.4L188.7 477.6L184.1 475.3M181.6 438.5L187.8 450.9M188.4 445.8L187.8 450.9L183.3 448.3M181.6 370.3L168.4 375.3M173.5 376.4L168.4 375.3L171.5 371.1M181.6 356.5L167.4 356.6M171.8 359.4L167.4 356.6L171.8 353.7M181.6 342.8L167.3 342.3M171.6 345.3L167.3 342.3L171.8 339.6M181.6 329.0L167.3 329.0M171.6 331.8L167.3 329.0L171.6 326.2M181.6 315.2L167.2 315.7M171.7 318.4L167.2 315.7L171.5 312.7M181.6 301.3L167.5 304.3M172.3 306.2L167.5 304.3L171.1 300.7M181.6 37.7L174.3 50.3M178.9 48.0L174.3 50.3L174.0 45.1M195.2 465.7L199.5 478.8M200.8 473.8L199.5 478.8L195.4 475.6M195.2 370.3L181.6 373.9M186.5 375.5L181.6 373.9L185.0 370.1M195.2 356.5L181.0 357.0M185.5 359.7L181.0 357.0L185.3 354.1M195.2 342.8L180.9 342.3M185.2 345.3L180.9 342.3L185.4 339.6M195.2 329.0L180.9 329.5M185.3 332.2L180.9 329.5L185.1 326.5M195.2 315.2L180.8 315.7M185.3 318.4L180.8 315.7L185.0 312.7M195.2 301.3L182.2 307.8M187.4 308.4L182.2 307.8L184.9 303.3M195.2 37.7L187.1 49.9M191.9 47.8L187.1 49.9L187.2 44.7M208.8 465.7L209.7 479.5M212.2 474.9L209.7 479.5L206.6 475.3M208.8 384.0L196.1 389.9M201.3 390.6L196.1 389.9L198.8 385.5M208.8 370.3L195.5 375.0M200.6 376.2L195.5 375.0L198.7 370.9M208.8 356.5L194.7 357.6M199.2 360.1L194.7 357.6L198.8 354.4M208.8 342.8L194.5 342.3M198.8 345.3L194.5 342.3L199.0 339.6M208.8 329.0L194.6 331.0M199.3 333.2L194.6 331.0L198.5 327.6M208.8 315.2L194.4 315.8M198.9 318.5L194.4 315.8L198.6 312.8M208.8 37.7L200.1 49.5M205.0 47.6L200.1 49.5L200.4 44.3M222.4 465.7L220.6 479.4M224.0 475.4L220.6 479.4L218.3 474.7M222.4 452.1L218.5 465.3M222.5 461.9L218.5 465.3L217.0 460.3M222.4 424.9L215.2 436.7M219.9 434.4L215.2 436.7L215.1 431.5M222.4 411.3L215.5 423.3M220.1 420.9L215.5 423.3L215.2 418.1M222.4 397.6L213.6 408.4M218.6 406.8L213.6 408.4L214.2 403.3M222.4 384.0L209.9 390.3M215.1 390.9L209.9 390.3L212.5 385.8M222.4 370.3L209.3 375.5M214.4 376.5L209.3 375.5L212.3 371.3M222.4 356.5L208.5 359.4M213.4 361.3L208.5 359.4L212.2 355.8M222.4 342.8L208.2 343.5M212.7 346.1L208.2 343.5L212.4 340.4M222.4 329.0L211.0 337.7M216.2 337.3L211.0 337.7L212.7 332.8M222.4 37.7L213.1 49.1M218.1 47.5L213.1 49.1L213.7 43.9M236.0 465.7L232.6 479.0M236.4 475.5L232.6 479.0L230.9 474.1M236.0 452.1L231.1 465.0M235.3 461.9L231.1 465.0L230.0 459.9M236.0 438.5L230.1 450.9M234.5 448.2L230.1 450.9L229.4 445.8M236.0 424.9L229.8 437.2M234.3 434.6L229.8 437.2L229.3 432.0M236.0 411.3L229.5 423.5M234.0 421.0L229.5 423.5L229.0 418.3M236.0 397.6L227.1 408.3M232.1 406.8L227.1 408.3L227.7 403.1M236.0 384.0L224.0 391.0M229.1 391.3L224.0 391.0L226.3 386.4M236.0 370.3L223.2 376.0M228.3 376.8L223.2 376.0L226.0 371.6M236.0 356.5L222.6 360.9M227.6 362.3L222.6 360.9L225.8 356.9M236.0 329.0L225.2 338.4M230.3 337.7L225.2 338.4L226.6 333.4M236.0 37.7L226.3 48.7M231.3 47.3L226.3 48.7L227.0 43.5M249.6 465.7L245.6 478.8M249.6 475.5L245.6 478.8L244.2 473.8M249.6 452.1L244.7 464.9M248.9 461.8L244.7 464.9L243.6 459.8M249.6 438.5L244.3 451.2M248.6 448.2L244.3 451.2L243.4 446.0M249.6 424.9L244.4 437.6M248.6 434.6L244.4 437.6L243.4 432.5M249.6 411.3L243.7 423.7M248.1 421.0L243.7 423.7L243.0 418.6M249.6 397.6L241.9 409.2M246.7 407.1L241.9 409.2L242.0 404.0M249.6 384.0L240.5 394.5M245.5 393.1L240.5 394.5L241.2 389.4M249.6 370.3L238.6 379.0M243.8 378.5L238.6 379.0L240.3 374.1M249.6 356.5L237.5 363.8M242.7 364.0L237.5 363.8L239.8 359.2M249.6 342.8L237.8 350.8M243.0 350.7L237.8 350.8L239.8 346.0M249.6 202.4L240.6 213.9M245.6 212.2L240.6 213.9L241.1 208.7M249.6 37.7L239.5 48.3M244.5 47.1L239.5 48.3L240.4 43.2M263.2 465.7L259.0 478.8M263.0 475.5L259.0 478.8L257.6 473.7M263.2 452.1L258.4 465.0M262.6 461.9L258.4 465.0L257.3 459.9M263.2 438.5L258.2 451.3M262.4 448.2L258.2 451.3L257.1 446.2M263.2 424.9L258.0 437.6M262.3 434.6L258.0 437.6L257.0 432.5M263.2 411.3L257.4 423.8M261.8 421.0L257.4 423.8L256.7 418.6M263.2 397.6L256.2 409.6M260.8 407.2L256.2 409.6L256.0 404.4M263.2 384.0L254.7 395.0M259.6 393.2L254.7 395.0L255.1 389.8M263.2 370.3L253.2 380.1M258.3 379.1L253.2 380.1L254.3 375.0M263.2 356.5L252.2 365.4M257.4 364.9L252.2 365.4L253.8 360.5M263.2 342.8L252.1 351.7M257.3 351.2L252.1 351.7L253.7 346.8M263.2 329.0L252.5 338.5M257.6 337.7L252.5 338.5L253.9 333.5M263.2 216.8L253.4 227.5M258.4 226.2L253.4 227.5L254.2 222.4M263.2 202.4L254.4 214.0M259.3 212.2L254.4 214.0L254.8 208.8M263.2 188.0L254.4 199.6M259.3 197.8L254.4 199.6L254.8 194.4M263.2 37.7L252.7 48.0M257.8 47.0L252.7 48.0L253.8 43.0M276.8 465.7L272.4 478.7M276.5 475.5L272.4 478.7L271.1 473.7M276.8 452.1L272.0 465.0M276.2 461.9L272.0 465.0L270.9 459.9M276.8 438.5L271.8 451.3M276.0 448.2L271.8 451.3L270.7 446.2M276.8 424.9L271.6 437.6M275.8 434.6L271.6 437.6L270.6 432.5M276.8 411.3L271.1 423.8M275.5 421.0L271.1 423.8L270.3 418.6M276.8 397.6L270.2 409.7M274.8 407.3L270.2 409.7L269.8 404.6M276.8 384.0L268.9 395.4M273.7 393.4L268.9 395.4L269.0 390.2M276.8 370.3L267.5 380.8M272.5 379.4L267.5 380.8L268.3 375.6M276.8 356.5L266.6 366.3M271.7 365.3L266.6 366.3L267.8 361.2M276.8 342.8L266.4 352.5M271.5 351.6L266.4 352.5L267.6 347.4M276.8 329.0L266.5 338.9M271.6 338.0L266.5 338.9L267.6 333.9M276.8 231.0L265.7 240.5M270.8 239.8L265.7 240.5L267.2 235.5M276.8 216.8L266.4 227.0M271.5 226.0L266.4 227.0L267.6 221.9M276.8 202.4L268.3 214.2M273.1 212.3L268.3 214.2L268.5 209.0M276.8 188.0L268.0 199.6M272.9 197.8L268.0 199.6L268.4 194.4M276.8 173.5L266.8 184.1M271.8 182.9L266.8 184.1L267.7 179.0M276.8 37.7L266.1 47.8M271.2 46.9L266.1 47.8L267.3 42.8M290.4 465.7L285.8 478.7M289.9 475.5L285.8 478.7L284.6 473.6M290.4 452.1L285.5 464.9M289.7 461.9L285.5 464.9L284.4 459.9M290.4 438.5L285.3 451.2M289.6 448.2L285.3 451.2L284.3 446.1M290.4 424.9L285.1 437.6M289.4 434.6L285.1 437.6L284.2 432.4M290.4 411.3L284.8 423.8M289.2 421.0L284.8 423.8L284.0 418.7M290.4 397.6L284.3 410.0M288.8 407.3L284.3 410.0L283.7 404.8M290.4 384.0L283.4 395.9M288.0 393.6L283.4 395.9L283.1 390.7M290.4 370.3L282.0 381.4M286.8 379.6L282.0 381.4L282.3 376.2M290.4 356.5L280.8 366.9M285.9 365.6L280.8 366.9L281.7 361.8M290.4 342.8L280.9 353.4M285.9 352.0L280.9 353.4L281.7 348.2M290.4 329.0L281.1 339.9M286.1 338.4L281.1 339.9L281.8 334.8M290.4 315.2L280.8 326.0M285.8 324.6L280.8 326.0L281.6 320.9M290.4 245.2L279.2 254.7M284.4 254.1L279.2 254.7L280.7 249.8M290.4 231.0L279.0 240.3M284.2 239.7L279.0 240.3L280.6 235.3M290.4 216.8L279.8 226.8M284.9 225.9L279.8 226.8L281.0 221.8M290.4 188.0L280.8 199.0M285.8 197.6L280.8 199.0L281.5 193.8M290.4 173.5L279.3 183.0M284.5 182.3L279.3 183.0L280.8 178.0M290.4 37.7L279.5 47.7M284.7 46.8L279.5 47.7L280.8 42.6M304.0 465.7L299.1 478.6M303.3 475.5L299.1 478.6L298.0 473.5M304.0 438.5L298.8 451.2M303.1 448.3L298.8 451.2L297.8 446.1M304.0 424.9L298.7 437.5M303.0 434.6L298.7 437.5L297.8 432.4M304.0 411.3L298.6 423.9M302.9 421.0L298.6 423.9L297.7 418.7M304.0 397.6L298.3 410.1M302.7 407.3L298.3 410.1L297.5 405.0M304.0 384.0L297.7 396.3M302.2 393.7L297.7 396.3L297.2 391.1M304.0 370.3L296.4 382.0M301.2 379.9L296.4 382.0L296.4 376.8M304.0 356.5L295.2 367.6M300.1 365.9L295.2 367.6L295.7 362.4M304.0 342.8L295.8 354.4M300.6 352.5L295.8 354.4L296.0 349.2M304.0 329.0L295.9 340.9M300.7 338.9L295.9 340.9L296.0 335.7M304.0 315.2L295.4 326.8M300.2 325.0L295.4 326.8L295.7 321.6M304.0 301.3L294.9 312.7M299.8 311.1L294.9 312.7L295.4 307.6M304.0 287.4L294.6 298.7M299.6 297.2L294.6 298.7L295.2 293.5M304.0 273.4L294.0 284.2M299.0 283.0L294.0 284.2L294.8 279.1M304.0 259.3L293.2 269.4M298.3 268.5L293.2 269.4L294.4 264.3M304.0 245.2L292.5 254.5M297.7 253.9L292.5 254.5L294.2 249.5M304.0 231.0L292.4 240.1M297.6 239.6L292.4 240.1L294.1 235.1M304.0 216.8L292.8 226.2M297.9 225.6L292.8 226.2L294.3 221.2M304.0 188.0L292.5 197.0M297.6 196.6L292.5 197.0L294.2 192.1M304.0 37.7L293.1 47.6M298.2 46.8L293.1 47.6L294.4 42.6M317.6 465.7L312.4 478.5M316.6 475.5L312.4 478.5L311.4 473.4M317.6 438.5L312.3 451.2M316.6 448.3L312.3 451.2L311.3 446.1M317.6 424.9L312.3 437.6M316.6 434.6L312.3 437.6L311.3 432.4M317.6 411.3L312.2 423.9M316.5 421.0L312.2 423.9L311.3 418.8M317.6 397.6L312.0 410.2M316.4 407.3L312.0 410.2L311.2 405.0M317.6 384.0L311.5 396.4M316.0 393.7L311.5 396.4L310.9 391.2M317.6 370.3L310.6 382.4M315.3 380.0L310.6 382.4L310.3 377.2M317.6 356.5L309.9 368.4M314.6 366.3L309.9 368.4L309.9 363.2M317.6 342.8L310.0 354.8M314.7 352.7L310.0 354.8L309.9 349.6M317.6 329.0L309.9 341.2M314.7 339.0L309.9 341.2L309.9 336.0M317.6 315.2L309.5 327.2M314.3 325.2L309.5 327.2L309.6 322.0M317.6 301.3L309.0 313.2M313.9 311.3L309.0 313.2L309.3 308.0M317.6 287.4L308.5 299.0M313.4 297.3L308.5 299.0L308.9 293.8M317.6 273.4L307.5 284.3M312.6 283.0L307.5 284.3L308.4 279.2M317.6 259.3L306.5 269.2M311.7 268.4L306.5 269.2L307.9 264.2M317.6 245.2L305.8 254.1M311.0 253.8L305.8 254.1L307.6 249.3M317.6 231.0L305.7 239.7M310.9 239.4L305.7 239.7L307.5 234.8M317.6 216.8L305.7 225.4M310.9 225.1L305.7 225.4L307.6 220.5M317.6 202.4L305.4 210.7M310.6 210.6L305.4 210.7L307.5 205.9M317.6 188.0L304.7 195.1M309.9 195.5L304.7 195.1L307.2 190.5M317.6 173.5L304.0 179.1M309.1 180.1L304.0 179.1L306.9 174.9M317.6 37.7L306.7 47.7M311.9 46.9L306.7 47.7L308.0 42.7M331.2 465.7L325.5 478.4M329.9 475.6L325.5 478.4L324.7 473.3M331.2 424.9L325.7 437.6M330.1 434.7L325.7 437.6L324.9 432.4M331.2 411.3L325.8 424.0M330.1 421.0L325.8 424.0L324.9 418.8M331.2 397.6L325.7 410.3M330.0 407.4L325.7 410.3L324.8 405.1M331.2 384.0L325.2 396.5M329.7 393.8L325.2 396.5L324.5 391.4M331.2 370.3L324.6 382.6M329.1 380.1L324.6 382.6L324.1 377.4M331.2 356.5L323.9 368.7M328.6 366.4L323.9 368.7L323.7 363.5M331.2 342.8L323.6 354.8M328.3 352.7L323.6 354.8L323.5 349.6M331.2 329.0L323.4 341.1M328.2 339.0L323.4 341.1L323.4 335.9M331.2 315.2L323.2 327.3M328.0 325.2L323.2 327.3L323.2 322.1M331.2 301.3L322.8 313.3M327.6 311.3L322.8 313.3L323.0 308.1M331.2 287.4L322.2 299.0M327.1 297.3L322.2 299.0L322.6 293.8M331.2 273.4L321.2 284.3M326.2 283.0L321.2 284.3L322.0 279.2M331.2 259.3L320.1 269.1M325.2 268.4L320.1 269.1L321.5 264.1M331.2 245.2L319.4 254.1M324.6 253.7L319.4 254.1L321.2 249.2M331.2 231.0L319.1 239.4M324.3 239.3L319.1 239.4L321.1 234.6M331.2 216.8L318.9 224.9M324.1 224.8L318.9 224.9L321.0 220.1M331.2 202.4L318.6 210.0M323.7 210.2L318.6 210.0L320.9 205.3M331.2 188.0L318.0 194.6M323.2 195.2L318.0 194.6L320.6 190.1M331.2 173.5L317.6 179.2M322.7 180.1L317.6 179.2L320.5 174.9M331.2 37.7L320.5 48.0M325.6 47.0L320.5 48.0L321.7 42.9M344.8 465.7L338.5 478.2M343.0 475.6L338.5 478.2L338.0 473.0M344.8 411.3L339.3 424.0M343.6 421.1L339.3 424.0L338.4 418.9M344.8 397.6L339.4 410.4M343.7 407.5L339.4 410.4L338.5 405.3M344.8 384.0L339.0 396.7M343.4 393.9L339.0 396.7L338.2 391.5M344.8 370.3L338.3 382.8M342.8 380.2L338.3 382.8L337.8 377.6M344.8 356.5L337.6 368.8M342.3 366.4L337.6 368.8L337.4 363.6M344.8 342.8L337.1 354.8M341.8 352.7L337.1 354.8L337.1 349.6M344.8 329.0L336.8 341.0M341.6 338.9L336.8 341.0L336.9 335.8M344.8 315.2L336.7 327.2M341.4 325.2L336.7 327.2L336.8 322.0M344.8 301.3L336.3 313.2M341.1 311.3L336.3 313.2L336.5 308.0M344.8 287.4L335.7 298.9M340.6 297.2L335.7 298.9L336.2 293.7M344.8 273.4L334.8 284.2M339.8 282.9L334.8 284.2L335.7 279.1M344.8 259.3L333.8 269.2M338.9 268.4L333.8 269.2L335.2 264.1M344.8 245.2L333.1 254.2M338.3 253.8L333.1 254.2L334.8 249.3M344.8 231.0L332.7 239.4M337.9 239.3L332.7 239.4L334.7 234.6M344.8 216.8L332.5 224.8M337.7 224.8L332.5 224.8L334.6 220.0M344.8 202.4L332.1 210.0M337.3 210.2L332.1 210.0L334.4 205.3M344.8 188.0L331.8 195.0M337.0 195.4L331.8 195.0L334.3 190.4M344.8 173.5L331.5 180.1M336.7 180.7L331.5 180.1L334.1 175.6M344.8 37.7L334.5 48.3M339.5 47.2L334.5 48.3L335.5 43.2M358.4 465.7L351.4 477.9M356.0 475.5L351.4 477.9L351.1 472.7M358.4 397.6L352.5 410.4M356.9 407.6L352.5 410.4L351.8 405.2M358.4 384.0L352.4 396.7M356.8 393.9L352.4 396.7L351.7 391.5M358.4 370.3L351.9 382.8M356.4 380.2L351.9 382.8L351.4 377.6M358.4 356.5L351.2 368.8M355.9 366.5L351.2 368.8L351.0 363.6M358.4 342.8L350.7 354.8M355.4 352.7L350.7 354.8L350.6 349.6M358.4 329.0L350.4 341.0M355.2 338.9L350.4 341.0L350.5 335.8M358.4 315.2L350.1 327.1M355.0 325.1L350.1 327.1L350.3 321.9M358.4 301.3L349.8 313.0M354.6 311.2L349.8 313.0L350.1 307.8M358.4 287.4L349.1 298.7M354.1 297.1L349.1 298.7L349.7 293.5M358.4 273.4L348.3 284.1M353.4 282.8L348.3 284.1L349.2 278.9M358.4 259.3L347.5 269.2M352.6 268.4L347.5 269.2L348.8 264.2M358.4 245.2L346.8 254.3M352.0 253.8L346.8 254.3L348.5 249.4M358.4 231.0L346.5 239.6M351.6 239.4L346.5 239.6L348.3 234.8M358.4 216.8L346.2 225.0M351.4 224.9L346.2 225.0L348.2 220.2M358.4 202.4L346.0 210.3M351.2 210.4L346.0 210.3L348.1 205.6M358.4 188.0L345.7 195.6M350.9 195.8L345.7 195.6L348.0 191.0M358.4 173.5L345.4 180.8M350.6 181.1L345.4 180.8L347.8 176.2M358.4 37.7L348.6 48.8M353.6 47.4L348.6 48.8L349.3 43.7M372.0 465.7L364.1 477.4M368.9 475.4L364.1 477.4L364.2 472.2M372.0 397.6L365.3 410.1M369.9 407.6L365.3 410.1L364.9 404.9M372.0 384.0L365.4 396.5M369.9 393.9L365.4 396.5L364.9 391.3M372.0 370.3L365.1 382.7M369.7 380.3L365.1 382.7L364.8 377.5M372.0 356.5L364.7 368.8M369.4 366.5L364.7 368.8L364.5 363.6M372.0 342.8L364.3 354.9M369.0 352.7L364.3 354.9L364.2 349.7M372.0 329.0L364.0 341.0M368.8 338.9L364.0 341.0L364.1 335.8M372.0 315.2L363.7 327.1M368.6 325.1L363.7 327.1L363.9 321.9M372.0 301.3L363.3 313.0M368.2 311.2L363.3 313.0L363.6 307.8M372.0 287.4L362.7 298.6M367.6 297.1L362.7 298.6L363.3 293.5M372.0 273.4L361.9 284.0M367.0 282.8L361.9 284.0L362.9 278.9M372.0 259.3L361.2 269.2M366.3 268.4L361.2 269.2L362.5 264.2M372.0 245.2L360.6 254.5M365.8 253.9L360.6 254.5L362.2 249.5M372.0 231.0L360.3 239.8M365.5 239.5L360.3 239.8L362.1 235.0M372.0 216.8L360.1 225.3M365.2 225.1L360.1 225.3L362.0 220.5M372.0 202.4L359.9 210.8M365.1 210.6L359.9 210.8L361.9 206.0M372.0 188.0L359.8 196.4M365.0 196.2L359.8 196.4L361.8 191.6M372.0 173.5L359.6 181.8M364.8 181.8L359.6 181.8L361.6 177.1M372.0 158.9L359.2 166.9M364.4 167.0L359.2 166.9L361.4 162.2M372.0 37.7L362.8 49.4M367.7 47.7L362.8 49.4L363.3 44.2M385.6 465.7L376.7 476.8M381.7 475.2L376.7 476.8L377.2 471.6M385.6 384.0L378.1 396.1M382.8 393.8L378.1 396.1L378.0 390.9M385.6 370.3L378.2 382.4M382.9 380.2L378.2 382.4L378.0 377.3M385.6 356.5L378.1 368.7M382.8 366.5L378.1 368.7L378.0 363.5M385.6 342.8L378.0 355.0M382.7 352.8L378.0 355.0L377.9 349.8M385.6 329.0L377.8 341.1M382.5 339.0L377.8 341.1L377.7 335.9M385.6 315.2L377.4 327.1M382.2 325.1L377.4 327.1L377.5 321.9M385.6 301.3L376.9 313.0M381.8 311.2L376.9 313.0L377.3 307.8M385.6 287.4L376.3 298.7M381.3 297.1L376.3 298.7L376.9 293.5M385.6 273.4L375.6 284.1M380.7 282.8L375.6 284.1L376.5 279.0M385.6 259.3L375.0 269.4M380.1 268.5L375.0 269.4L376.2 264.4M385.6 245.2L374.5 254.8M379.6 254.1L374.5 254.8L375.9 249.8M385.6 231.0L374.2 240.2M379.3 239.7L374.2 240.2L375.8 235.3M385.6 216.8L373.9 225.6M379.1 225.2L373.9 225.6L375.7 220.7M385.6 202.4L373.7 211.0M378.9 210.8L373.7 211.0L375.6 206.2M385.6 188.0L373.7 196.8M378.9 196.5L373.7 196.8L375.5 191.9M385.6 173.5L374.1 183.2M379.2 182.5L374.1 183.2L375.6 178.2M385.6 158.9L374.1 168.9M379.3 168.1L374.1 168.9L375.6 163.9M385.6 37.7L377.3 50.0M382.1 48.0L377.3 50.0L377.4 44.8M399.2 465.7L389.3 476.1M394.4 474.9L389.3 476.1L390.3 471.0M399.2 370.3L390.9 381.9M395.7 380.0L390.9 381.9L391.1 376.8M399.2 342.8L391.4 354.9M396.1 352.8L391.4 354.9L391.4 349.7M399.2 329.0L391.2 341.1M396.0 339.0L391.2 341.1L391.3 335.9M399.2 315.2L391.0 327.1M395.8 325.1L391.0 327.1L391.1 321.9M399.2 301.3L390.6 313.0M395.5 311.2L390.6 313.0L390.9 307.8M399.2 287.4L390.1 298.8M395.0 297.1L390.1 298.8L390.6 293.6M399.2 273.4L389.5 284.4M394.5 283.0L389.5 284.4L390.3 279.2M399.2 259.3L388.9 269.7M394.0 268.6L388.9 269.7L389.9 264.7M399.2 245.2L388.4 255.2M393.6 254.3L388.4 255.2L389.7 250.1M399.2 231.0L388.2 240.7M393.3 240.0L388.2 240.7L389.6 235.7M399.2 216.8L387.8 226.0M393.0 225.5L387.8 226.0L389.4 221.1M399.2 202.4L387.5 211.2M392.7 210.9L387.5 211.2L389.3 206.3M399.2 188.0L387.1 196.6M392.3 196.4L387.1 196.6L389.0 191.8M399.2 173.5L387.6 183.3M392.8 182.6L387.6 183.3L389.1 178.3M399.2 158.9L389.7 170.9M394.6 169.3L389.7 170.9L390.2 165.8M399.2 144.2L389.0 155.6M394.1 154.2L389.0 155.6L389.8 150.4M399.2 37.7L391.9 50.7M396.5 48.2L391.9 50.7L391.6 45.5M412.8 465.7L401.9 475.2M407.1 474.5L401.9 475.2L403.4 470.2M412.8 438.5L401.5 447.5M406.7 447.0L401.5 447.5L403.2 442.6M412.8 424.9L401.6 434.0M406.8 433.4L401.6 434.0L403.2 429.1M412.8 411.3L401.9 420.7M407.0 420.0L401.9 420.7L403.3 415.7M412.8 384.0L402.8 394.4M407.9 393.2L402.8 394.4L403.8 389.3M412.8 370.3L403.3 381.1M408.3 379.7L403.3 381.1L404.0 376.0M412.8 356.5L403.6 367.7M408.6 366.1L403.6 367.7L404.2 362.5M412.8 329.0L404.1 340.6M409.0 338.8L404.1 340.6L404.5 335.4M412.8 315.2L404.2 326.9M409.0 325.0L404.2 326.9L404.5 321.7M412.8 301.3L404.2 313.1M409.1 311.2L404.2 313.1L404.5 307.9M412.8 287.4L404.1 299.1M408.9 297.3L404.1 299.1L404.4 293.9M412.8 273.4L403.6 284.8M408.6 283.2L403.6 284.8L404.1 279.6M412.8 259.3L402.9 270.2M408.0 268.9L402.9 270.2L403.8 265.1M412.8 245.2L402.6 255.8M407.6 254.6L402.6 255.8L403.6 250.6M412.8 231.0L402.4 241.5M407.5 240.4L402.4 241.5L403.5 236.4M412.8 216.8L401.9 226.7M407.1 225.8L401.9 226.7L403.3 221.7M412.8 202.4L401.3 211.6M406.4 211.1L401.3 211.6L402.9 206.7M412.8 188.0L400.5 196.4M405.7 196.3L400.5 196.4L402.5 191.6M412.8 173.5L400.4 182.2M405.6 182.0L400.4 182.2L402.4 177.4M412.8 158.9L404.0 171.4M408.8 169.4L404.0 171.4L404.2 166.2M412.8 144.2L403.4 156.2M408.4 154.5L403.4 156.2L403.9 151.0M412.8 129.3L402.2 140.2M407.3 139.1L402.2 140.2L403.2 135.1M412.8 37.7L406.8 51.3M411.1 48.4L406.8 51.3L405.9 46.1M426.4 465.7L414.8 474.4M419.9 474.1L414.8 474.4L416.6 469.5M426.4 452.1L414.4 460.3M419.6 460.2L414.4 460.3L416.4 455.5M426.4 438.5L414.1 446.3M419.3 446.4L414.1 446.3L416.3 441.6M426.4 424.9L414.0 432.6M419.2 432.7L414.0 432.6L416.2 427.9M426.4 411.3L414.2 419.2M419.4 419.2L414.2 419.2L416.3 414.5M426.4 397.6L414.6 406.1M419.8 405.9L414.6 406.1L416.5 401.3M426.4 384.0L415.1 393.0M420.2 392.5L415.1 393.0L416.7 388.1M426.4 370.3L415.5 379.8M420.6 379.1L415.5 379.8L416.9 374.8M426.4 356.5L415.7 366.3M420.8 365.5L415.7 366.3L417.0 361.3M426.4 342.8L416.1 352.9M421.2 351.9L416.1 352.9L417.2 347.9M426.4 315.2L416.8 326.1M421.8 324.7L416.8 326.1L417.6 321.0M426.4 301.3L417.5 312.9M422.4 311.1L417.5 312.9L417.9 307.7M426.4 287.4L418.1 299.4M422.9 297.4L418.1 299.4L418.2 294.2M426.4 273.4L417.7 285.2M422.6 283.4L417.7 285.2L418.0 280.0M426.4 259.3L417.2 270.8M422.2 269.2L417.2 270.8L417.7 265.6M426.4 245.2L417.2 256.7M422.1 255.1L417.2 256.7L417.7 251.5M426.4 231.0L417.0 242.4M422.0 240.8L417.0 242.4L417.6 237.2M426.4 216.8L416.1 227.4M421.2 226.2L416.1 227.4L417.1 222.3M426.4 202.4L415.3 212.3M420.5 211.5L415.3 212.3L416.7 207.3M426.4 188.0L414.7 197.3M419.9 196.8L414.7 197.3L416.4 192.4M426.4 173.5L413.4 181.2M418.6 181.4L413.4 181.2L415.7 176.5M426.4 158.9L418.0 171.5M422.8 169.5L418.0 171.5L418.1 166.3M426.4 144.2L418.1 156.9M422.9 154.8L418.1 156.9L418.1 151.7M426.4 129.3L416.7 140.9M421.7 139.4L416.7 140.9L417.3 135.8M426.4 114.4L416.3 125.6M421.3 124.2L416.3 125.6L417.1 120.5M426.4 37.7L421.8 51.8M425.8 48.5L421.8 51.8L420.4 46.8M440.0 465.7L427.8 473.8M433.0 473.7L427.8 473.8L429.9 469.0M440.0 452.1L427.3 459.5M432.5 459.7L427.3 459.5L429.7 454.8M440.0 438.5L427.0 445.2M432.1 445.7L427.0 445.2L429.5 440.7M440.0 424.9L426.7 431.2M431.9 431.9L426.7 431.2L429.5 426.8M440.0 411.3L426.8 417.7M432.0 418.4L426.8 417.7L429.5 413.3M440.0 397.6L427.1 404.6M432.3 405.0L427.1 404.6L429.6 400.0M440.0 384.0L427.5 391.5M432.7 391.7L427.5 391.5L429.7 386.9M440.0 370.3L427.8 378.3M433.0 378.3L427.8 378.3L429.9 373.5M440.0 356.5L428.0 364.8M433.2 364.7L428.0 364.8L430.0 360.0M440.0 342.8L428.4 351.5M433.6 351.1L428.4 351.5L430.2 346.6M440.0 329.0L428.7 338.2M433.9 337.7L428.7 338.2L430.3 333.3M440.0 315.2L428.9 324.7M434.1 324.0L428.9 324.7L430.4 319.7M440.0 301.3L429.7 311.7M434.8 310.6L429.7 311.7L430.7 306.6M440.0 287.4L430.7 298.7M435.6 297.2L430.7 298.7L431.3 293.6M440.0 273.4L430.9 285.0M435.8 283.3L430.9 285.0L431.4 279.8M440.0 259.3L431.0 271.0M435.9 269.3L431.0 271.0L431.4 265.8M440.0 231.0L430.9 242.7M435.8 241.0L430.9 242.7L431.4 237.5M440.0 216.8L429.9 227.6M434.9 226.4L429.9 227.6L430.8 222.5M440.0 202.4L429.2 212.7M434.3 211.7L429.2 212.7L430.4 207.6M440.0 188.0L428.7 197.8M433.9 197.1L428.7 197.8L430.1 192.8M440.0 173.5L427.7 182.2M432.9 182.0L427.7 182.2L429.6 177.4M440.0 158.9L430.3 170.4M435.3 168.9L430.3 170.4L430.9 165.3M440.0 144.2L431.3 156.5M436.2 154.6L431.3 156.5L431.5 151.3M440.0 129.3L431.0 141.4M435.9 139.6L431.0 141.4L431.3 136.2M440.0 114.4L430.8 126.3M435.7 124.6L430.8 126.3L431.2 121.1M440.0 99.3L431.1 111.4M436.0 109.5L431.1 111.4L431.4 106.2M440.0 37.7L437.0 52.2M440.6 48.5L437.0 52.2L435.1 47.3M453.6 465.7L441.1 473.5M446.3 473.6L441.1 473.5L443.3 468.8M453.6 438.5L440.1 444.6M445.3 445.4L440.1 444.6L442.9 440.2M453.6 424.9L439.8 430.4M444.9 431.4L439.8 430.4L442.8 426.1M453.6 411.3L439.8 416.7M444.9 417.7L439.8 416.7L442.8 412.4M453.6 397.6L440.0 403.4M445.1 404.3L440.0 403.4L442.9 399.1M453.6 384.0L440.2 390.2M445.4 390.9L440.2 390.2L443.0 385.8M453.6 370.3L440.5 377.1M445.7 377.6L440.5 377.1L443.1 372.6M453.6 356.5L440.9 364.0M446.1 364.2L440.9 364.0L443.3 359.3M453.6 342.8L441.3 350.8M446.5 350.8L441.3 350.8L443.4 346.1M453.6 329.0L441.4 337.1M446.6 337.1L441.4 337.1L443.4 332.4M453.6 315.2L441.3 323.2M446.5 323.2L441.3 323.2L443.4 318.5M453.6 301.3L441.8 310.1M447.0 309.8L441.8 310.1L443.6 305.2M453.6 202.4L442.8 212.7M447.9 211.8L442.8 212.7L444.0 207.7M453.6 188.0L442.8 198.4M447.9 197.4L442.8 198.4L444.0 193.3M453.6 173.5L443.0 184.1M448.1 183.0L443.0 184.1L444.1 179.0M453.6 158.9L443.4 169.9M448.4 168.6L443.4 169.9L444.3 164.8M453.6 114.4L445.2 126.8M450.0 124.8L445.2 126.8L445.3 121.6M453.6 99.3L445.6 111.9M450.3 109.8L445.6 111.9L445.5 106.7M453.6 84.1L446.6 97.3M451.2 94.7L446.6 97.3L446.2 92.1M453.6 37.7L452.4 52.4M455.5 48.3L452.4 52.4L449.9 47.8M467.2 465.7L454.6 473.6M459.8 473.7L454.6 473.6L456.8 468.9M467.2 438.5L453.6 444.6M458.8 445.4L453.6 444.6L456.4 440.3M467.2 424.9L453.3 430.3M458.4 431.4L453.3 430.3L456.3 426.1M467.2 411.3L453.2 416.3M458.2 417.5L453.2 416.3L456.3 412.1M467.2 397.6L453.1 402.6M458.2 403.8L453.1 402.6L456.3 398.4M467.2 384.0L453.2 389.2M458.3 390.3L453.2 389.2L456.3 385.0M467.2 370.3L453.5 375.9M458.6 376.9L453.5 375.9L456.4 371.7M467.2 356.5L453.9 363.2M459.1 363.7L453.9 363.2L456.6 358.7M467.2 342.8L454.4 350.2M459.6 350.5L454.4 350.2L456.7 345.6M467.2 329.0L454.4 336.5M459.6 336.8L454.4 336.5L456.7 331.9M467.2 301.3L454.7 309.2M459.9 309.3L454.7 309.2L456.8 304.5M467.2 287.4L455.2 296.1M460.4 295.8L455.2 296.1L457.0 291.2M467.2 259.3L455.7 268.7M460.8 268.2L455.7 268.7L457.3 263.8M467.2 245.2L455.5 254.4M460.7 253.9L455.5 254.4L457.2 249.5M467.2 202.4L456.1 212.4M461.3 211.6L456.1 212.4L457.5 207.4M467.2 188.0L456.9 198.9M462.0 197.6L456.9 198.9L457.9 193.7M467.2 173.5L457.6 185.0M462.5 183.4L457.6 185.0L458.2 179.8M467.2 158.9L457.9 170.7M462.8 169.0L457.9 170.7L458.4 165.5M467.2 144.2L458.1 156.0M463.0 154.3L458.1 156.0L458.5 150.8M467.2 129.3L459.6 142.2M464.3 139.9L459.6 142.2L459.4 137.0M467.2 114.4L459.8 127.3M464.4 125.0L459.8 127.3L459.5 122.1M467.2 99.3L460.1 112.4M464.7 109.9L460.1 112.4L459.7 107.2M467.2 84.1L461.5 97.8M465.8 94.9L461.5 97.8L460.5 92.7M467.2 68.8L463.7 83.2M467.5 79.6L463.7 83.2L462.0 78.3M467.2 53.3L465.5 68.0M468.8 64.0L465.5 68.0L463.2 63.3M467.2 37.7L468.0 52.4M470.6 47.9L468.0 52.4L464.9 48.2M480.8 465.7L468.4 474.0M473.6 473.9L468.4 474.0L470.5 469.2M480.8 452.1L467.9 459.7M473.1 459.9L467.9 459.7L470.2 455.0M480.8 438.5L467.4 445.2M472.6 445.8L467.4 445.2L470.0 440.8M480.8 424.9L467.0 430.8M472.1 431.7L467.0 430.8L469.9 426.5M480.8 411.3L466.7 416.4M471.7 417.6L466.7 416.4L469.8 412.2M480.8 397.6L466.5 402.1M471.5 403.5L466.5 402.1L469.8 398.1M480.8 384.0L466.4 388.1M471.3 389.6L466.4 388.1L469.8 384.2M480.8 370.3L466.5 374.7M471.5 376.1L466.5 374.7L469.8 370.7M480.8 342.8L467.4 349.6M472.6 350.1L467.4 349.6L470.0 345.1M480.8 315.2L467.7 322.4M472.9 322.8L467.7 322.4L470.1 317.8M480.8 301.3L467.8 308.8M473.0 309.1L467.8 308.8L470.2 304.1M480.8 287.4L468.1 295.2M473.3 295.3L468.1 295.2L470.3 290.5M480.8 259.3L468.1 267.2M473.3 267.3L468.1 267.2L470.3 262.5M480.8 245.2L467.9 252.7M473.1 253.0L467.9 252.7L470.2 248.1M480.8 231.0L467.7 238.2M472.9 238.6L467.7 238.2L470.2 233.6M480.8 216.8L468.2 224.8M473.4 224.9L468.2 224.8L470.4 220.1M480.8 202.4L469.2 211.8M474.4 211.3L469.2 211.8L470.8 206.9M480.8 188.0L470.4 198.7M475.4 197.6L470.4 198.7L471.4 193.6M480.8 173.5L471.2 185.0M476.2 183.4L471.2 185.0L471.8 179.8M480.8 158.9L471.9 170.9M476.8 169.1L471.9 170.9L472.2 165.7M480.8 144.2L473.0 156.9M477.7 154.7L473.0 156.9L472.9 151.7M480.8 129.3L474.0 142.6M478.5 140.0L474.0 142.6L473.5 137.5M480.8 114.4L474.3 127.8M478.8 125.1L474.3 127.8L473.7 122.6M480.8 99.3L474.8 112.9M479.1 110.0L474.8 112.9L474.0 107.7M480.8 84.1L476.5 98.3M480.5 94.9L476.5 98.3L475.1 93.3M480.8 68.8L480.0 83.5M483.1 79.3L480.0 83.5L477.4 79.0M480.8 53.3L481.4 68.0M484.0 63.6L481.4 68.0L478.4 63.8M480.8 37.7L484.1 52.0M485.9 47.1L484.1 52.0L480.4 48.4M494.4 465.7L482.4 474.7M487.6 474.3L482.4 474.7L484.2 469.8M494.4 452.1L482.0 460.6M487.2 460.4L482.0 460.6L484.0 455.8M494.4 438.5L481.5 446.3M486.7 446.5L481.5 446.3L483.8 441.6M494.4 424.9L480.9 431.7M486.1 432.3L480.9 431.7L483.5 427.2M494.4 411.3L480.4 416.9M485.5 417.9L480.4 416.9L483.4 412.7M494.4 397.6L480.1 402.5M485.1 403.8L480.1 402.5L483.3 398.4M494.4 384.0L479.9 388.3M484.9 389.8L479.9 388.3L483.2 384.3M494.4 370.3L480.0 374.9M485.0 376.3L480.0 374.9L483.2 370.9M494.4 342.8L480.8 349.6M486.0 350.1L480.8 349.6L483.5 345.1M494.4 315.2L481.1 322.4M486.3 322.8L481.1 322.4L483.6 317.8M494.4 287.4L481.2 294.6M486.4 295.0L481.2 294.6L483.7 290.1M494.4 273.4L481.2 280.6M486.4 281.0L481.2 280.6L483.7 276.0M494.4 259.3L481.1 266.2M486.3 266.8L481.1 266.2L483.7 261.7M494.4 245.2L480.9 251.8M486.1 252.4L480.9 251.8L483.6 247.3M494.4 231.0L480.9 237.5M486.1 238.2L480.9 237.5L483.6 233.1M494.4 216.8L481.3 224.0M486.5 224.4L481.3 224.0L483.8 219.4M494.4 202.4L482.2 211.1M487.4 210.9L482.2 211.1L484.1 206.2M494.4 188.0L483.4 198.2M488.6 197.3L483.4 198.2L484.7 193.1M494.4 173.5L484.8 184.9M489.7 183.4L484.8 184.9L485.4 179.7M494.4 158.9L485.9 171.2M490.7 169.2L485.9 171.2L486.1 166.0M494.4 144.2L487.0 157.1M491.6 154.7L487.0 157.1L486.7 151.9M494.4 129.3L488.0 142.8M492.5 140.0L488.0 142.8L487.3 137.6M494.4 114.4L488.9 128.2M493.2 125.2L488.9 128.2L487.9 123.1M494.4 99.3L490.1 113.5M494.1 110.1L490.1 113.5L488.6 108.5M494.4 84.1L492.3 98.7M495.8 94.8L492.3 98.7L490.1 94.0M494.4 68.8L495.7 83.4M498.1 78.8L495.7 83.4L492.5 79.3M494.4 53.3L498.6 67.4M500.1 62.4L498.6 67.4L494.7 64.0M494.4 37.7L499.9 51.3M500.9 46.2L499.9 51.3L495.6 48.3M508.0 465.7L496.5 475.4M501.6 474.8L496.5 475.4L498.0 470.4M508.0 452.1L496.2 461.5M501.3 461.0L496.2 461.5L497.8 456.6M508.0 438.5L495.8 447.6M501.0 447.2L495.8 447.6L497.7 442.7M508.0 424.9L495.2 433.1M500.4 433.1L495.2 433.1L497.4 428.4M508.0 411.3L494.5 418.3M499.7 418.8L494.5 418.3L497.0 413.8M508.0 397.6L494.0 403.8M499.2 404.6L494.0 403.8L496.9 399.4M508.0 384.0L493.9 389.8M499.0 390.7L493.9 389.8L496.8 385.5M508.0 342.8L494.6 350.2M499.8 350.6L494.6 350.2L497.0 345.6M508.0 329.0L494.6 336.4M499.8 336.8L494.6 336.4L497.1 331.8M508.0 315.2L494.6 322.5M499.8 322.9L494.6 322.5L497.1 317.9M508.0 287.4L494.6 294.4M499.8 294.9L494.6 294.4L497.1 289.8M508.0 273.4L494.5 280.1M499.7 280.7L494.5 280.1L497.1 275.7M508.0 259.3L494.4 265.7M499.5 266.5L494.4 265.7L497.1 261.3M508.0 245.2L494.3 251.3M499.4 252.1L494.3 251.3L497.1 247.0M508.0 231.0L494.3 237.2M499.5 238.0L494.3 237.2L497.1 232.8M508.0 216.8L494.6 223.5M499.8 224.1L494.6 223.5L497.2 219.0M508.0 202.4L495.3 210.3M500.5 210.4L495.3 210.3L497.5 205.6M508.0 188.0L496.5 197.6M501.7 197.0L496.5 197.6L498.1 192.6M508.0 173.5L498.3 184.8M503.3 183.4L498.3 184.8L499.0 179.7M508.0 158.9L499.9 171.4M504.6 169.3L499.9 171.4L499.9 166.2M508.0 144.2L501.0 157.3M505.6 154.8L501.0 157.3L500.6 152.1M508.0 129.3L502.2 143.0M506.5 140.1L502.2 143.0L501.3 137.9M508.0 114.4L503.6 128.5M507.6 125.2L503.6 128.5L502.2 123.5M508.0 99.3L505.4 113.8M509.0 110.0L505.4 113.8L503.4 109.0M508.0 84.1L507.7 98.8M510.7 94.5L507.7 98.8L505.0 94.4M508.0 68.8L510.8 83.2M512.8 78.3L510.8 83.2L507.2 79.4M508.0 53.3L513.0 67.1M514.2 62.0L513.0 67.1L508.9 63.9M508.0 37.7L514.2 51.0M514.9 45.8L514.2 51.0L509.8 48.2M521.6 465.7L510.4 476.0M515.6 475.1L510.4 476.0L511.7 470.9M521.6 452.1L510.3 462.2M515.4 461.4L510.3 462.2L511.6 457.2M521.6 438.5L510.1 448.5M515.3 447.8L510.1 448.5L511.5 443.5M521.6 424.9L509.7 434.4M514.9 433.9L509.7 434.4L511.3 429.5M521.6 411.3L508.8 419.8M514.0 419.7L508.8 419.8L510.9 415.0M521.6 397.6L508.3 405.3M513.5 405.6L508.3 405.3L510.6 400.7M521.6 384.0L508.1 391.3M513.2 391.7L508.1 391.3L510.5 386.8M521.6 329.0L508.3 336.7M513.4 337.0L508.3 336.7L510.6 332.1M521.6 315.2L508.1 322.5M513.3 322.9L508.1 322.5L510.6 317.9M521.6 301.3L508.0 308.4M513.2 308.9L508.0 308.4L510.6 303.8M521.6 287.4L508.0 294.2M513.2 294.8L508.0 294.2L510.6 289.7M521.6 273.4L507.9 280.0M513.1 280.6L507.9 280.0L510.6 275.5M521.6 259.3L507.8 265.5M512.9 266.3L507.8 265.5L510.6 261.1M521.6 245.2L507.7 251.0M512.8 251.9L507.7 251.0L510.6 246.7M521.6 231.0L507.7 236.7M512.8 237.7L507.7 236.7L510.7 232.4M521.6 216.8L507.9 222.8M513.0 223.6L507.9 222.8L510.7 218.4M521.6 202.4L508.4 209.6M513.6 210.0L508.4 209.6L510.9 205.0M521.6 188.0L509.6 197.0M514.8 196.6L509.6 197.0L511.4 192.1M521.6 173.5L511.7 184.7M516.7 183.3L511.7 184.7L512.5 179.5M521.6 158.9L513.7 171.5M518.4 169.3L513.7 171.5L513.6 166.3M521.6 144.2L515.1 157.5M519.5 154.8L515.1 157.5L514.4 152.3M521.6 129.3L516.3 143.2M520.5 140.1L516.3 143.2L515.2 138.1M521.6 114.4L517.7 128.7M521.6 125.2L517.7 128.7L516.2 123.7M521.6 99.3L519.6 113.9M523.0 110.0L519.6 113.9L517.4 109.2M521.6 84.1L522.4 98.8M525.0 94.3L522.4 98.8L519.3 94.6M521.6 68.8L527.3 82.2M528.2 77.1L527.3 82.2L523.0 79.3M521.6 53.3L528.7 66.1M529.1 60.9L528.7 66.1L524.1 63.7M521.6 37.7L529.6 50.0M529.6 44.8L529.6 50.0L524.8 47.8M535.2 465.7L524.3 476.3M529.4 475.3L524.3 476.3L525.4 471.2M535.2 452.1L524.0 462.5M529.2 461.6L524.0 462.5L525.3 457.5M535.2 438.5L523.8 448.7M528.9 447.9L523.8 448.7L525.2 443.7M535.2 424.9L523.5 434.8M528.7 434.2L523.5 434.8L525.0 429.9M535.2 411.3L522.9 420.6M528.1 420.2L522.9 420.6L524.7 415.7M535.2 397.6L522.4 406.3M527.6 406.2L522.4 406.3L524.4 401.5M535.2 384.0L522.1 392.4M527.3 392.4L522.1 392.4L524.3 387.6M535.2 370.3L522.1 378.7M527.3 378.7L522.1 378.7L524.2 374.0M535.2 356.5L522.1 365.1M527.3 365.1L522.1 365.1L524.2 360.3M535.2 342.8L521.9 351.0M527.1 351.1L521.9 351.0L524.1 346.3M535.2 329.0L521.7 336.7M526.9 337.0L521.7 336.7L524.1 332.1M535.2 315.2L521.5 322.4M526.7 322.9L521.5 322.4L524.1 317.9M535.2 301.3L521.4 308.2M526.6 308.7L521.4 308.2L524.1 303.7M535.2 287.4L521.4 294.0M526.6 294.7L521.4 294.0L524.1 289.6M535.2 273.4L521.4 279.8M526.6 280.6L521.4 279.8L524.2 275.4M535.2 259.3L521.3 265.3M526.4 266.2L521.3 265.3L524.2 261.0M535.2 245.2L521.1 250.8M526.2 251.8L521.1 250.8L524.2 246.5M535.2 231.0L521.1 236.2M526.1 237.4L521.1 236.2L524.2 232.1M535.2 216.8L521.2 222.1M526.3 223.2L521.2 222.1L524.2 217.9M535.2 202.4L521.6 208.7M526.7 209.4L521.6 208.7L524.4 204.3M535.2 188.0L522.6 196.1M527.8 196.1L522.6 196.1L524.8 191.4M535.2 173.5L524.8 184.2M529.9 183.0L524.8 184.2L525.8 179.1M535.2 158.9L527.2 171.4M531.9 169.3L527.2 171.4L527.1 166.2M535.2 144.2L528.9 157.6M533.3 154.9L528.9 157.6L528.2 152.5M535.2 129.3L530.3 143.3M534.4 140.1L530.3 143.3L529.1 138.3M535.2 114.4L531.8 128.8M535.6 125.2L531.8 128.8L530.0 123.9M535.2 99.3L533.7 114.0M536.9 109.9L533.7 114.0L531.3 109.3M535.2 84.1L536.8 98.7M539.1 94.1L536.8 98.7L533.5 94.7M535.2 68.8L541.8 81.8M542.4 76.7L541.8 81.8L537.3 79.2M535.2 53.3L543.6 65.3M543.4 60.1L543.6 65.3L538.8 63.3M535.2 37.7L545.2 48.4M544.3 43.3L545.2 48.4L540.1 47.1M548.8 465.7L538.1 476.6M543.2 475.5L538.1 476.6L539.1 471.5M548.8 438.5L537.5 448.9M542.6 448.0L537.5 448.9L538.8 443.8M548.8 424.9L537.2 435.0M542.3 434.3L537.2 435.0L538.6 430.0M548.8 411.3L536.8 421.0M541.9 420.5L536.8 421.0L538.4 416.1M548.8 397.6L536.3 406.9M541.5 406.6L536.3 406.9L538.1 402.0M548.8 384.0L536.0 392.8M541.2 392.7L536.0 392.8L537.9 388.0M548.8 370.3L535.7 378.9M540.9 378.8L535.7 378.9L537.8 374.1M548.8 356.5L535.4 364.8M540.6 365.0L535.4 364.8L537.6 360.1M548.8 342.8L535.2 350.7M540.4 351.0L535.2 350.7L537.5 346.1M548.8 329.0L535.1 336.5M540.3 336.9L535.1 336.5L537.5 331.9M548.8 315.2L534.9 322.2M540.1 322.8L534.9 322.2L537.6 317.7M548.8 301.3L534.9 308.0M540.0 308.6L534.9 308.0L537.6 303.5M548.8 287.4L534.9 293.8M540.0 294.6L534.9 293.8L537.6 289.4M548.8 273.4L534.8 279.6M540.0 280.4L534.8 279.6L537.7 275.3M548.8 259.3L534.8 265.2M539.9 266.1L534.8 265.2L537.7 260.9M548.8 245.2L534.6 250.6M539.7 251.7L534.6 250.6L537.7 246.4M548.8 231.0L534.6 236.0M539.6 237.2L534.6 236.0L537.7 231.9M548.8 216.8L534.6 221.6M539.6 222.9L534.6 221.6L537.8 217.5M548.8 202.4L534.9 207.9M539.9 209.0L534.9 207.9L537.9 203.7M548.8 188.0L535.9 195.5M541.1 195.8L535.9 195.5L538.2 190.9M548.8 173.5L538.2 184.0M543.3 182.9L538.2 184.0L539.3 178.9M548.8 158.9L540.8 171.4M545.5 169.3L540.8 171.4L540.7 166.2M548.8 144.2L542.7 157.7M547.1 154.9L542.7 157.7L541.9 152.6M548.8 129.3L544.3 143.5M548.3 140.2L544.3 143.5L542.9 138.5M548.8 114.4L546.0 128.9M549.6 125.1L546.0 128.9L544.1 124.1M548.8 99.3L548.0 114.0M551.1 109.8L548.0 114.0L545.4 109.5M548.8 84.1L551.1 98.6M553.2 93.9L551.1 98.6L547.6 94.8M548.8 68.8L556.1 81.5M556.4 76.3L556.1 81.5L551.5 79.1M548.8 53.3L558.0 64.7M557.5 59.5L558.0 64.7L553.1 63.1M548.8 37.7L559.9 47.3M558.4 42.3L559.9 47.3L554.7 46.6M562.4 465.7L551.9 476.8M556.9 475.6L551.9 476.8L552.8 471.7M562.4 452.1L551.6 463.0M556.7 461.9L551.6 463.0L552.6 457.9M562.4 438.5L551.3 449.2M556.4 448.2L551.3 449.2L552.5 444.1M562.4 424.9L550.9 435.3M556.1 434.4L550.9 435.3L552.3 430.2M562.4 411.3L550.5 421.2M555.7 420.6L550.5 421.2L552.0 416.3M562.4 397.6L550.0 407.1M555.2 406.7L550.0 407.1L551.8 402.2M562.4 384.0L549.6 393.0M554.8 392.8L549.6 393.0L551.5 388.1M562.4 370.3L549.2 378.8M554.4 378.8L549.2 378.8L551.3 374.1M562.4 356.5L548.9 364.6M554.1 364.8L548.9 364.6L551.2 359.9M562.4 342.8L548.6 350.4M553.8 350.8L548.6 350.4L551.1 345.8M562.4 329.0L548.5 336.2M553.7 336.7L548.5 336.2L551.1 331.7M562.4 315.2L548.4 322.0M553.6 322.6L548.4 322.0L551.1 317.5M562.4 301.3L548.3 307.8M553.5 308.5L548.3 307.8L551.1 303.4M562.4 287.4L548.3 293.6M553.4 294.4L548.3 293.6L551.2 289.2M562.4 273.4L548.3 279.3M553.4 280.2L548.3 279.3L551.2 275.0M562.4 259.3L548.2 265.0M553.3 266.0L548.2 265.0L551.2 260.7M562.4 245.2L548.2 250.5M553.2 251.6L548.2 250.5L551.3 246.3M562.4 231.0L548.1 235.9M553.1 237.2L548.1 235.9L551.3 231.8M562.4 216.8L548.0 221.2M553.0 222.6L548.0 221.2L551.3 217.2M562.4 202.4L548.2 207.3M553.2 208.6L548.2 207.3L551.4 203.2M562.4 188.0L549.3 195.2M554.5 195.6L549.3 195.2L551.7 190.6M562.4 173.5L552.0 184.2M557.0 183.0L552.0 184.2L553.0 179.1M562.4 158.9L554.9 171.7M559.5 169.4L554.9 171.7L554.6 166.6M562.4 144.2L556.6 157.9M560.9 154.9L556.6 157.9L555.7 152.8M562.4 129.3L558.4 143.6M562.3 140.2L558.4 143.6L556.8 138.6M562.4 114.4L560.5 129.1M563.9 125.1L560.5 129.1L558.3 124.4M562.4 99.3L563.2 114.1M565.8 109.5L563.2 114.1L560.1 109.8M562.4 84.1L566.2 98.3M567.8 93.4L566.2 98.3L562.3 94.9M562.4 68.8L569.3 81.8M569.8 76.6L569.3 81.8L564.8 79.2M562.4 53.3L571.7 64.7M571.1 59.5L571.7 64.7L566.7 63.1M562.4 37.7L574.4 46.1M572.5 41.3L574.4 46.1L569.2 45.9M576.0 465.7L565.6 477.0M570.7 475.7L565.6 477.0L566.5 471.9M576.0 452.1L565.4 463.2M570.4 462.0L565.4 463.2L566.3 458.1M576.0 438.5L565.0 449.4M570.1 448.3L565.0 449.4L566.1 444.3M576.0 424.9L564.6 435.4M569.8 434.5L564.6 435.4L565.9 430.4M576.0 411.3L564.2 421.4M569.3 420.7L564.2 421.4L565.6 416.4M576.0 397.6L563.7 407.2M568.9 406.8L563.7 407.2L565.4 402.3M576.0 384.0L563.2 393.0M568.4 392.8L563.2 393.0L565.1 388.2M576.0 370.3L562.8 378.7M568.0 378.8L562.8 378.7L564.9 374.0M576.0 356.5L562.4 364.4M567.6 364.7L562.4 364.4L564.7 359.8M576.0 342.8L562.1 350.2M567.3 350.6L562.1 350.2L564.6 345.6M576.0 329.0L562.0 336.0M567.1 336.6L562.0 336.0L564.6 331.5M576.0 315.2L561.9 321.8M567.0 322.5L561.9 321.8L564.6 317.4M576.0 301.3L561.8 307.6M567.0 308.4L561.8 307.6L564.7 303.3M576.0 287.4L561.8 293.4M566.9 294.3L561.8 293.4L564.7 289.1M576.0 273.4L561.7 279.1M566.8 280.1L561.7 279.1L564.7 274.8M576.0 259.3L561.7 264.8M566.8 265.9L561.7 264.8L564.8 260.6M576.0 245.2L561.7 250.4M566.8 251.6L561.7 250.4L564.8 246.2M576.0 231.0L561.7 235.9M566.7 237.2L561.7 235.9L564.9 231.8M576.0 216.8L561.6 221.2M566.6 222.7L561.6 221.2L564.9 217.3M576.0 202.4L561.7 207.1M566.7 208.4L561.7 207.1L565.0 203.0M576.0 188.0L562.8 195.1M568.0 195.5L562.8 195.1L565.3 190.6M576.0 173.5L565.9 184.6M571.0 183.2L565.9 184.6L566.8 179.4M576.0 158.9L569.0 172.1M573.6 169.5L569.0 172.1L568.6 166.9M576.0 144.2L570.5 158.0M574.8 155.0L570.5 158.0L569.5 152.9M576.0 129.3L572.4 143.7M576.2 140.2L572.4 143.7L570.7 138.8M576.0 114.4L574.9 129.2M578.0 125.0L574.9 129.2L572.4 124.6M576.0 99.3L577.6 114.0M579.9 109.4L577.6 114.0L574.3 110.0M576.0 84.1L580.3 98.2M581.7 93.2L580.3 98.2L576.3 94.9M576.0 68.8L583.1 81.7M583.5 76.5L583.1 81.7L578.5 79.2M576.0 53.3L585.8 64.2M585.0 59.1L585.8 64.2L580.8 62.9M576.0 37.7L588.2 45.9M586.2 41.1L588.2 45.9L583.0 45.8M168.0 383.8L161.8 397.1M166.2 394.4L161.8 397.1L161.1 392.0M162.0 384.0L169.4 396.7M169.6 391.5L169.4 396.7L164.7 394.4" fill="none" stroke="#000080" stroke-width="1" shape-rendering="crispEdges"/>
<g fill="#c0c0c0" stroke="#000" stroke-width="1.3" stroke-linejoin="round" shape-rendering="crispEdges">
<polygon stroke-width="1.9" points="468.4,269.5 466.9,270.3 466.2,271.8 466.3,273.2 467.2,274.6 469.0,275.2 474.5,274.6 478.6,278.2 486.7,287.6 488.3,288.2 490.3,290.2 491.7,290.2 492.6,289.5 492.8,287.5 491.2,285.6 490.8,284.0 487.6,279.3 482.9,273.3 478.2,269.1 475.8,268.3"/>
<polygon points="466.2,38.0 462.3,45.3 459.6,49.2 460.3,57.2 462.3,60.5 457.0,64.5 453.6,69.1 449.0,69.8 448.3,75.7 443.7,82.4 439.7,87.0 433.8,88.3 434.4,94.3 435.8,99.6 433.8,104.9 429.8,108.2 427.8,110.2 423.2,115.9 418.5,119.9 413.2,122.5 409.3,126.5 405.4,132.5 400.1,135.5 396.1,138.5 393.4,143.2 389.5,145.2 384.2,146.5 378.9,147.8 372.3,148.5 367.0,148.5 363.0,151.8 359.0,153.1 355.7,151.1 353.7,144.5 350.4,143.8 351.1,149.1 352.4,154.4 348.4,157.7 345.1,160.4 340.5,161.7 336.0,162.0 331.4,162.6 326.1,164.6 320.8,166.6 315.5,167.9 310.8,169.9 308.2,173.2 307.5,176.5 309.5,179.8 311.5,183.1 310.2,185.8 306.2,185.1 304.2,182.5 302.2,178.5 300.9,173.8 302.2,169.9 302.9,166.6 299.6,163.2 296.9,164.6 293.6,165.2 290.3,162.6 285.0,161.3 281.7,163.9 275.7,165.9 271.8,168.5 269.1,171.2 266.5,173.8 258.5,174.5 257.9,178.5 255.9,184.4 251.9,187.7 249.2,189.7 247.9,195.0 246.6,199.7 245.3,203.0 247.9,207.0 251.9,210.9 255.9,214.9 257.5,219.5 261.2,224.0 265.1,228.6 269.1,233.9 274.4,238.5 279.7,242.5 283.7,247.8 287.7,253.1 290.3,258.4 291.6,263.7 293.0,270.3 293.6,277.0 294.9,283.6 296.3,288.9 295.5,295.3 294.1,300.6 292.8,305.9 289.5,309.9 284.9,313.2 279.6,316.5 275.6,319.8 270.3,322.5 265.0,323.1 261.0,324.4 259.0,327.7 256.4,331.7 253.1,335.7 249.1,338.3 244.5,341.0 241.2,344.3 237.9,347.0 234.5,346.3 233.9,343.0 235.2,339.0 235.9,333.7 237.5,329.6 232.5,326.9 227.2,324.3 223.2,322.9 220.5,320.3 219.2,316.3 217.2,313.0 215.3,315.0 213.9,317.6 211.9,313.7 210.0,308.4 208.0,304.4 206.0,300.4 202.7,298.4 199.4,295.8 196.7,293.1 194.1,291.8 190.7,292.5 186.8,293.1 182.8,293.8 180.8,290.5 180.2,286.5 181.5,281.9 178.2,280.5 173.5,280.5 169.6,281.9 168.2,284.5 169.6,288.5 168.9,293.8 168.9,299.7 166.2,303.1 164.3,307.0 162.9,312.3 160.9,317.6 159.0,321.6 157.6,325.6 157.6,330.9 158.3,336.0 160.3,339.3 164.9,338.6 166.9,340.6 167.6,344.6 169.6,349.9 172.2,355.2 173.5,360.5 174.9,365.1 178.8,369.1 184.8,371.7 190.7,372.4 192.7,375.7 195.4,379.0 198.7,381.7 202.7,383.0 206.0,387.0 210.0,391.6 212.6,396.2 214.6,401.5 215.3,404.0 214.6,409.2 214.6,414.5 216.6,419.8 216.6,425.1 217.9,429.8 220.5,433.1 223.2,437.1 225.2,441.0 225.2,445.0 221.9,447.0 217.9,447.0 215.3,445.7 210.0,443.0 206.0,441.0 202.0,437.1 198.0,434.4 194.1,431.1 190.7,428.5 187.4,426.5 186.8,421.8 184.1,417.9 181.5,413.2 179.5,410.6 177.5,407.3 177.5,402.6 176.2,398.6 174.9,396.2 173.5,390.9 172.2,385.6 172.9,380.3 171.5,375.7 168.9,373.7 165.6,369.7 163.6,366.4 160.9,363.1 159.0,359.8 155.0,358.5 155.0,38.0"/>
<polygon points="314.1,187.7 318.1,189.7 317.5,193.7 314.8,197.7 312.8,202.3 310.2,206.3 304.9,209.6 299.6,211.6 294.3,212.3 289.6,210.3 287.0,207.0 285.7,202.3 287.0,198.3 289.0,195.7 292.3,193.0 296.9,190.4 302.2,189.1 307.5,188.4 311.5,187.4"/>
<polygon points="460.9,111.3 464.9,113.2 465.6,117.9 464.9,124.5 462.3,130.5 460.3,137.1 457.0,143.7 454.3,149.0 453.0,154.3 451.7,159.6 449.7,158.9 448.3,153.6 445.0,149.7 443.0,145.0 442.4,138.4 443.7,132.5 446.4,127.2 449.7,121.9 453.0,117.2 455.6,113.9 458.9,112.6"/>
<polygon points="155.0,415.9 159.6,418.5 163.6,422.5 167.6,426.5 170.2,431.1 174.2,433.7 178.2,435.7 181.5,439.7 186.1,441.0 190.1,443.0 194.1,445.0 198.0,448.3 202.0,453.0 206.0,455.6 211.3,458.2 215.3,459.6 219.2,462.2 221.9,465.0 159.0,465.0 157.0,460.0 155.0,457.0"/>
<polygon points="293.7,465.0 290.4,460.9 289.7,455.6 291.1,450.3 292.4,445.0 295.0,440.4 298.3,438.4 301.0,441.7 305.0,442.4 309.6,441.7 313.6,443.7 318.2,444.3 320.9,440.4 322.2,436.4 321.5,431.8 322.2,427.8 326.8,426.5 332.1,425.1 338.7,423.5 345.3,421.0 349.9,417.0 353.2,411.7 357.2,406.4 361.2,403.1 366.5,399.8 371.8,398.5 373.8,394.5 378.4,391.8 382.4,389.2 386.4,384.5 390.3,379.9 394.3,375.9 396.3,372.6 399.6,370.0 402.3,372.0 404.9,376.6 408.9,378.6 408.2,382.6 412.2,384.5 415.5,387.2 420.8,389.2 426.1,391.2 430.7,393.2 428.7,395.8 423.4,397.1 418.1,398.5 415.5,400.4 418.1,403.1 423.4,404.4 419.5,406.4 414.2,407.7 411.5,410.4 408.9,412.4 409.5,416.3 408.9,420.3 406.9,423.0 408.9,426.9 411.5,430.6 413.5,433.9 410.2,435.9 410.9,439.9 415.5,443.2 419.5,447.2 423.4,450.5 426.1,452.5 419.5,453.1 413.5,453.8 410.2,455.8 407.5,459.7 405.6,465.0"/>
<polygon stroke-width="1.9" points="438.6,465.0 439.3,459.6 443.2,456.3 447.2,454.3 449.9,451.6 451.9,448.3 455.8,447.7 459.8,449.0 463.1,451.0 468.4,451.6 473.7,452.3 479.0,453.6 484.3,453.0 489.6,453.6 494.9,453.0 498.9,451.0 502.2,447.7 505.5,444.3 508.1,441.7 510.1,443.7 509.5,447.0 506.8,450.3 504.2,454.3 501.5,457.6 497.5,459.6 492.3,460.2 487.0,460.9 483.0,459.6 479.0,458.3 473.7,458.3 468.4,458.3 463.1,458.3 457.8,457.6 452.5,457.6 448.5,458.3 444.6,460.2 441.9,462.9 440.5,465.0"/>
<polygon stroke-width="1.9" points="553.0,430.0 556.0,429.5 557.5,432.0 556.5,436.0 554.0,438.0 551.8,437.0 551.5,433.5"/>
<polygon stroke-width="1.9" points="542.6,441.1 546.6,437.1 549.0,439.5 548.2,444.3 546.6,449.1 544.2,451.5 541.8,449.1 541.0,444.3"/>
<polygon stroke-width="1.9" points="555.4,444.3 557.9,445.9 557.1,450.7 554.6,454.7 551.4,457.1 555.4,458.8 559.5,462.0 552.0,460.8 548.2,460.4 546.6,463.6 545.0,462.0 544.2,457.1 546.6,453.9 549.8,450.7 552.2,447.5"/>
<polygon points="439.9,252.2 437.9,245.6 437.3,243.0 439.9,244.3 443.2,244.9 445.2,241.6 445.9,235.0 446.6,228.4 445.2,223.1 446.6,219.1 447.9,213.8 449.9,209.8 453.2,208.5 457.2,210.5 461.1,212.5 465.1,213.2 468.4,211.8 469.7,209.2 471.1,211.8 471.1,215.1 470.4,220.4 471.7,225.7 473.7,229.7 473.0,234.3 471.1,239.0 467.7,243.0 464.4,245.6 462.5,249.6 461.1,253.5 458.8,255.2 460.9,258.4 463.1,262.7 462.0,265.9 463.1,269.1 465.2,272.3 468.9,271.8 472.2,270.4 475.4,269.7 478.3,270.0 481.3,273.4 485.5,278.8 488.8,284.1 492.2,287.9 490.7,289.3 486.8,286.5 483.4,282.2 480.2,277.9 477.0,275.2 473.2,274.2 469.5,273.7 467.9,275.0 471.1,277.7 473.8,280.4 475.9,283.1 475.4,284.1 473.8,283.9 471.1,281.1 468.4,278.8 464.7,276.4 460.9,275.0 457.9,277.5 455.0,277.7 452.9,275.0 450.0,273.4 449.7,270.7 448.1,269.1 448.3,266.5 449.3,267.5 451.3,267.5 452.3,265.9 451.8,264.0 450.0,263.1 448.3,263.6 447.2,264.4 445.4,262.5 442.7,261.1 440.6,257.4 440.0,252.0"/>
<polygon stroke-width="1.9" points="495.2,273.0 498.5,272.3 500.5,275.0 499.5,279.5 497.0,280.5 495.2,278.0"/>
<polygon stroke-width="1.9" points="446.2,281.3 448.3,284.5 453.5,295.2 455.7,297.8 458.2,295.2 460.4,291.9 461.0,287.1 459.0,283.1 455.1,280.8 450.8,280.1 446.4,280.8"/>
<polygon stroke-width="1.9" points="483.3,295.6 484.6,299.1 489.0,300.7 492.7,303.4 495.7,302.1 495.6,301.4 488.0,294.3 483.7,294.8"/>
<polygon stroke-width="1.9" points="498.7,296.4 501.0,299.8 503.8,301.4 506.2,303.5 511.6,313.1 512.4,313.4 515.6,312.6 515.9,311.8 514.3,304.9 514.8,300.6 512.9,295.7 509.6,293.4 504.2,293.9 499.3,295.0 498.7,295.6"/>
<polygon stroke-width="1.9" points="499.7,311.4 499.7,313.2 500.9,316.1 507.4,325.8 508.2,326.1 510.7,324.9 510.9,324.0 507.7,316.6 507.0,312.5 504.4,310.1 500.3,310.6"/>
<polygon stroke-width="1.9" points="466.7,303.6 467.2,306.0 466.2,317.0 467.3,321.3 470.1,320.8 474.5,318.7 478.8,315.9 482.1,312.6 483.7,308.8 483.5,308.4 479.6,308.4 474.4,306.8 467.1,303.2"/>
<polygon stroke-width="1.9" points="480.5,316.2 477.5,327.1 474.3,329.2 472.6,332.9 476.0,335.4 478.7,338.6 481.9,340.9 484.5,337.3 484.0,332.8 487.7,317.8 485.1,315.1"/>
<polygon stroke-width="1.9" points="490.4,317.6 485.6,332.7 487.0,335.5 487.5,335.2 491.8,326.6 494.1,321.2 493.3,316.4 492.8,316.3"/>
<polygon stroke-width="1.9" points="492.4,330.5 494.0,334.2 494.6,334.6 498.7,334.0 501.8,331.3 501.0,328.1 496.9,326.8 492.5,329.7"/>
<polygon points="514.9,333.3 518.9,335.3 522.2,338.6 524.2,343.2 524.8,347.9 526.8,352.5 528.1,357.8 529.5,362.4 529.5,367.1 526.2,369.7 524.2,373.0 524.2,379.0 522.2,377.7 521.5,372.4 520.9,368.4 518.9,366.4 516.9,369.0 514.9,373.7 516.2,378.3 516.9,383.0 514.2,386.9 512.3,388.9 510.3,385.6 508.3,383.6 504.3,383.6 500.3,381.6 497.0,379.0 495.0,375.0 494.4,371.0 496.4,368.4 497.7,365.1 495.7,363.1 493.0,360.4 490.4,358.5 487.7,359.4 485.5,362.8 483.4,360.7 481.5,363.4 479.8,361.5 477.2,360.2 473.8,361.5 471.9,365.1 469.9,369.0 466.6,370.4 466.6,368.4 468.5,366.4 469.9,363.1 471.2,359.1 473.8,357.5 478.5,356.7 480.5,353.8 481.8,349.8 485.8,348.3 490.4,349.2 491.7,352.5 492.4,355.8 495.7,354.5 498.3,351.8 501.0,349.8 504.3,348.5 505.6,344.5 507.6,343.2 510.9,343.2 514.2,342.6 515.6,339.2 514.2,335.9"/>
<polygon stroke-width="1.9" points="436.4,311.1 436.1,309.8 434.9,308.9 433.6,308.8 432.4,309.7 431.1,313.0 430.7,318.5 425.9,324.9 420.9,330.0 417.1,336.8 411.9,341.1 401.7,351.6 398.5,356.3 398.4,357.2 398.9,358.0 399.7,358.3 400.6,357.9 403.6,354.1 414.0,344.1 420.2,339.3 423.9,332.9 430.0,327.1 435.4,320.1"/>
</g>
<g fill="none" stroke="#000" stroke-width="1" shape-rendering="crispEdges">
<polyline points="155.2,143.2 161.8,143.2 162.5,146.8 159.6,150.5 158.9,157.1 163.3,157.8 167.6,158.6 169.1,163.0 172.0,166.6 176.4,166.6 180.1,164.4 183.8,163.0 184.5,167.4"/>
<polyline points="184.5,167.4 180.8,168.8 176.4,175.4 171.3,180.5 169.1,182.0 161.8,183.5 155.2,187.9"/>
<polyline points="171.3,180.5 170.6,184.9 175.0,186.4 175.7,193.0 178.6,194.4 184.5,194.4 186.0,200.3 186.0,200.0 186.0,204.4 183.8,210.3 183.0,216.1 181.6,222.0 184.5,224.2 188.9,219.8 193.3,216.8 197.7,214.6 201.3,216.8 205.0,219.0 209.4,216.8 211.6,211.7 215.3,210.3 220.4,211.7 224.8,214.6 227.7,219.0 232.1,223.4 234.3,227.8 233.6,235.2 235.0,239.5 239.4,243.9 244.5,249.1 245.3,254.9 243.8,260.1 243.1,265.9 240.2,268.8 242.4,272.1"/>
<polyline points="184.5,167.4 187.4,171.0 192.5,170.3 192.5,163.7 190.4,157.8 191.1,153.4 196.9,152.7"/>
<polyline points="196.9,152.7 199.9,152.0 201.3,149.0 205.7,149.0 209.4,152.7 213.1,148.3 217.4,149.0 220.4,151.2 224.0,148.3 229.2,147.6 234.3,143.2 237.2,140.3 240.9,139.5 245.3,142.5 249.7,144.6 255.5,144.6 260.7,147.6 258.5,152.0 261.4,157.1 264.3,160.0 267.1,163.2 271.8,165.2 274.4,166.6"/>
<polyline points="196.9,152.7 201.3,157.8 205.0,163.0 207.9,162.2 208.7,168.1 209.4,173.2 214.5,176.9 220.4,175.4 225.5,174.7 229.2,179.8 232.1,183.5 235.8,186.4 235.0,190.1 229.2,192.3 223.3,193.7 221.8,198.1 227.7,200.3 232.8,204.7 239.4,207.6 240.9,212.0 244.5,216.1 248.2,220.5 252.6,224.9 256.3,229.3 258.5,235.2 261.4,238.8 264.5,240.5 269.1,245.2 266.5,248.5 269.1,251.8 272.4,255.8 271.5,258.0"/>
<polyline points="206.0,300.4 205.7,295.5 203.6,292.3 202.0,286.9 200.4,280.5 203.0,277.8 205.7,275.1 208.4,270.3 212.1,268.2 217.5,267.4 225.0,267.6 231.4,267.4 235.7,268.2 238.9,269.8 241.1,271.4 245.3,271.9 248.5,273.0 250.7,271.9 250.7,268.7 253.4,266.6 257.1,265.5 260.3,267.1 263.5,268.2 266.8,266.6 270.0,265.0 271.6,261.2 272.1,258.0"/>
<polyline points="244.3,258.0 243.7,262.3 242.1,266.6 239.4,268.7 238.9,269.8"/>
<polyline points="270.0,265.0 268.9,269.8 270.0,274.1 271.6,278.3 272.1,282.6 271.0,286.9 271.6,291.2 270.0,295.5 266.2,297.6 262.5,299.8 258.7,301.9 256.0,304.1 251.8,304.6 248.5,306.2 248.0,309.4 250.7,311.5 251.8,314.8 249.6,316.4 246.4,316.9 243.2,317.4 236.0,320.0 230.5,323.5"/>
<polyline points="235.2,305.1 236.2,308.3 237.8,310.5 238.9,313.7 240.0,318.0"/>
<polyline points="239.4,301.9 243.2,301.4 244.3,298.7"/>
<polyline points="155.6,273.7 159.6,273.7 158.3,279.2 157.0,284.5 159.6,291.1 162.3,297.8 164.3,303.1 162.0,308.0 160.0,313.0 158.0,318.0 155.6,322.0"/>
<polyline points="171.5,375.7 174.9,376.4 180.2,377.7 181.5,382.3 183.5,387.0 187.4,385.6 192.7,386.3 195.4,383.0 198.7,381.7"/>
<polyline points="298.3,438.4 300.3,443.7 304.3,448.3 308.9,452.3 314.9,453.0 318.9,451.0 324.2,451.0 329.5,451.6 333.4,449.0 334.8,445.7 338.7,444.3 345.3,445.2 349.9,447.2 353.2,448.5 357.2,446.5 361.2,445.2 366.5,445.2 368.5,442.5 370.5,438.5 371.1,434.6 374.4,431.3 374.4,426.6 378.4,424.0 379.4,420.0 379.7,418.3 380.4,412.4 382.4,408.4 386.4,406.4 393.0,405.1 399.6,405.1 406.2,406.4 412.8,407.1"/>
<polyline points="361.2,403.1 367.2,411.0 369.8,408.4 369.8,401.1 371.8,399.1"/>
<polyline points="373.1,400.4 373.1,405.7 377.1,405.7 376.4,399.8"/>
<polyline stroke-dasharray="3 2" points="248.0,260.1 248.2,264.4 248.2,271.9 249.6,277.3 250.2,282.6 250.7,286.9 250.2,290.1 250.4,295.5"/>
</g>
<g fill="none" stroke="#000" stroke-width="2.4" stroke-linejoin="round" shape-rendering="crispEdges">
<polyline points="466.2,38.0 462.3,45.3 459.6,49.2 460.3,57.2 462.3,60.5 457.0,64.5 453.6,69.1 449.0,69.8 448.3,75.7 443.7,82.4 439.7,87.0 433.8,88.3 434.4,94.3 435.8,99.6 433.8,104.9 429.8,108.2 427.8,110.2 423.2,115.9 418.5,119.9 413.2,122.5 409.3,126.5 405.4,132.5 400.1,135.5 396.1,138.5 393.4,143.2 389.5,145.2 384.2,146.5 378.9,147.8 372.3,148.5 367.0,148.5 363.0,151.8 359.0,153.1 355.7,151.1 353.7,144.5 350.4,143.8 351.1,149.1 352.4,154.4 348.4,157.7 345.1,160.4 340.5,161.7 336.0,162.0 331.4,162.6 326.1,164.6 320.8,166.6 315.5,167.9 310.8,169.9 308.2,173.2 307.5,176.5 309.5,179.8 311.5,183.1 310.2,185.8 306.2,185.1"/>
<polyline points="399.6,370.0 402.3,372.0 404.9,376.6 408.9,378.6 408.2,382.6 412.2,384.5 415.5,387.2 420.8,389.2 426.1,391.2 430.7,393.2 428.7,395.8 423.4,397.1 418.1,398.5 415.5,400.4 418.1,403.1 423.4,404.4 419.5,406.4 414.2,407.7 411.5,410.4 408.9,412.4 409.5,416.3 408.9,420.3 406.9,423.0 408.9,426.9 411.5,430.6"/>
<polyline points="285.0,161.3 281.7,163.9 275.7,165.9 271.8,168.5 269.1,171.2 266.5,173.8 258.5,174.5"/>
<polyline points="225.2,441.0 225.2,445.0 221.9,447.0 217.9,447.0"/>
<polyline points="206.0,455.6 211.3,458.2 215.3,459.6 219.2,462.2"/>
</g>
<g fill="#000" shape-rendering="crispEdges">
<ellipse cx="165.5" cy="379.0" rx="1.0" ry="1.5"/>
<ellipse cx="561.0" cy="73.0" rx="1.5" ry="1.5"/>
<ellipse cx="565.0" cy="51.0" rx="1.5" ry="1.0"/>
<ellipse cx="563.0" cy="56.0" rx="1.0" ry="0.8"/>
<ellipse cx="541.0" cy="95.0" rx="1.0" ry="1.0"/>
<ellipse cx="538.0" cy="96.0" rx="1.0" ry="0.8"/>
<ellipse cx="532.0" cy="94.6" rx="1.2" ry="0.8"/>
<ellipse cx="504.0" cy="119.0" rx="1.0" ry="1.0"/>
<ellipse cx="511.0" cy="117.6" rx="2.0" ry="1.5"/>
<ellipse cx="481.0" cy="122.5" rx="1.0" ry="1.0"/>
<ellipse cx="488.0" cy="102.0" rx="2.0" ry="0.8"/>
<ellipse cx="489.5" cy="100.5" rx="1.0" ry="0.6"/>
<ellipse cx="467.0" cy="44.0" rx="1.5" ry="1.0"/>
<ellipse cx="470.0" cy="47.0" rx="1.0" ry="1.0"/>
<ellipse cx="466.0" cy="50.0" rx="1.5" ry="1.0"/>
<ellipse cx="468.0" cy="55.0" rx="1.0" ry="1.5"/>
<ellipse cx="465.0" cy="60.0" rx="1.5" ry="1.0"/>
<ellipse cx="461.0" cy="66.0" rx="1.5" ry="1.0"/>
<ellipse cx="458.0" cy="70.0" rx="1.0" ry="1.0"/>
<ellipse cx="455.0" cy="74.0" rx="1.5" ry="1.0"/>
<ellipse cx="452.0" cy="78.0" rx="1.0" ry="1.0"/>
<ellipse cx="447.0" cy="84.0" rx="1.5" ry="1.0"/>
<ellipse cx="443.0" cy="89.0" rx="1.0" ry="1.0"/>
<ellipse cx="440.0" cy="93.0" rx="1.5" ry="1.0"/>
<ellipse cx="438.0" cy="100.0" rx="1.0" ry="1.5"/>
<ellipse cx="436.0" cy="106.0" rx="1.0" ry="1.0"/>
<ellipse cx="386.0" cy="40.0" rx="3.0" ry="1.0"/>
<ellipse cx="426.5" cy="45.0" rx="1.8" ry="1.2"/>
<ellipse cx="336.0" cy="233.0" rx="1.0" ry="0.7"/>
<ellipse cx="289.8" cy="321.8" rx="1.0" ry="1.0"/>
<ellipse cx="258.4" cy="347.0" rx="1.5" ry="1.0"/>
<ellipse cx="178.8" cy="351.2" rx="1.2" ry="0.8"/>
<ellipse cx="224.5" cy="427.8" rx="1.5" ry="1.5"/>
<ellipse cx="229.8" cy="431.8" rx="1.5" ry="1.5"/>
<ellipse cx="221.9" cy="436.4" rx="1.0" ry="1.0"/>
<ellipse cx="247.0" cy="424.0" rx="2.0" ry="1.5"/>
<ellipse cx="251.0" cy="426.0" rx="1.5" ry="1.5"/>
<ellipse cx="254.0" cy="421.5" rx="2.5" ry="2.5"/>
<ellipse cx="253.0" cy="428.0" rx="1.0" ry="1.0"/>
<ellipse cx="277.0" cy="414.5" rx="1.0" ry="1.0"/>
<ellipse cx="278.5" cy="417.0" rx="1.0" ry="1.0"/>
<ellipse cx="288.4" cy="425.0" rx="1.2" ry="1.8"/>
<ellipse cx="291.0" cy="430.4" rx="1.5" ry="1.0"/>
<ellipse cx="286.0" cy="428.0" rx="1.0" ry="1.0"/>
<ellipse cx="274.0" cy="421.0" rx="1.0" ry="1.0"/>
<ellipse cx="270.0" cy="451.0" rx="1.5" ry="1.0"/>
<ellipse cx="263.0" cy="457.0" rx="1.5" ry="1.0"/>
<ellipse cx="266.0" cy="461.0" rx="1.0" ry="1.0"/>
<ellipse cx="288.0" cy="449.0" rx="1.0" ry="1.5"/>
<ellipse cx="219.0" cy="448.5" rx="2.5" ry="1.2"/>
<ellipse cx="224.0" cy="451.0" rx="2.5" ry="2.0"/>
<ellipse cx="229.5" cy="450.0" rx="2.5" ry="2.5"/>
<ellipse cx="221.0" cy="455.0" rx="2.0" ry="1.5"/>
<ellipse cx="226.0" cy="457.0" rx="2.0" ry="2.0"/>
<ellipse cx="231.0" cy="458.0" rx="1.5" ry="2.0"/>
<ellipse cx="218.0" cy="453.0" rx="1.5" ry="1.0"/>
<ellipse cx="214.0" cy="451.0" rx="1.5" ry="1.0"/>
<ellipse cx="228.0" cy="462.0" rx="2.0" ry="1.5"/>
<ellipse cx="222.0" cy="461.0" rx="2.0" ry="1.5"/>
<ellipse cx="233.0" cy="454.0" rx="1.0" ry="1.5"/>
<ellipse cx="216.0" cy="458.0" rx="1.5" ry="1.0"/>
<ellipse cx="373.0" cy="397.0" rx="1.0" ry="1.0"/>
<ellipse cx="399.0" cy="368.0" rx="1.5" ry="1.0"/>
<ellipse cx="404.0" cy="372.0" rx="1.0" ry="1.0"/>
<ellipse cx="402.0" cy="366.0" rx="1.5" ry="1.0"/>
<ellipse cx="431.0" cy="392.0" rx="1.0" ry="1.0"/>
<ellipse cx="434.0" cy="396.0" rx="1.0" ry="1.0"/>
<ellipse cx="445.7" cy="379.6" rx="1.5" ry="1.0"/>
<ellipse cx="449.0" cy="381.0" rx="1.5" ry="1.0"/>
<ellipse cx="453.1" cy="382.4" rx="1.5" ry="1.0"/>
<ellipse cx="460.6" cy="379.6" rx="1.5" ry="1.0"/>
<ellipse cx="464.0" cy="377.5" rx="1.5" ry="1.0"/>
<ellipse cx="457.5" cy="381.0" rx="1.2" ry="1.0"/>
<ellipse cx="436.0" cy="372.0" rx="1.0" ry="1.0"/>
<ellipse cx="401.0" cy="366.6" rx="1.2" ry="1.5"/>
<ellipse cx="398.0" cy="362.0" rx="1.0" ry="1.0"/>
<ellipse cx="439.2" cy="299.7" rx="3.0" ry="2.5"/>
<ellipse cx="436.0" cy="303.0" rx="1.5" ry="1.5"/>
<ellipse cx="441.0" cy="304.0" rx="1.5" ry="1.0"/>
<ellipse cx="449.0" cy="309.0" rx="1.0" ry="1.0"/>
<ellipse cx="452.0" cy="312.0" rx="1.0" ry="1.0"/>
<ellipse cx="450.5" cy="315.0" rx="0.8" ry="0.8"/>
<ellipse cx="455.0" cy="333.0" rx="1.0" ry="0.8"/>
<ellipse cx="452.0" cy="334.0" rx="0.8" ry="0.8"/>
<ellipse cx="458.5" cy="198.6" rx="2.0" ry="1.5"/>
<ellipse cx="465.8" cy="203.2" rx="1.5" ry="1.0"/>
<ellipse cx="457.8" cy="203.9" rx="2.0" ry="0.8"/>
<ellipse cx="461.0" cy="158.5" rx="1.0" ry="1.0"/>
<ellipse cx="466.0" cy="176.0" rx="1.0" ry="1.5"/>
<ellipse cx="465.5" cy="181.5" rx="1.5" ry="1.5"/>
<ellipse cx="464.0" cy="185.0" rx="1.0" ry="1.0"/>
<ellipse cx="465.7" cy="260.5" rx="1.5" ry="1.5"/>
<ellipse cx="443.5" cy="276.5" rx="1.8" ry="1.2"/>
<ellipse cx="469.0" cy="293.0" rx="1.0" ry="2.0"/>
<ellipse cx="474.5" cy="295.0" rx="1.2" ry="1.0"/>
<ellipse cx="472.0" cy="290.0" rx="1.0" ry="1.0"/>
<ellipse cx="481.0" cy="286.0" rx="1.0" ry="2.0"/>
<ellipse cx="488.0" cy="291.0" rx="1.0" ry="2.0"/>
<ellipse cx="514.5" cy="329.0" rx="1.5" ry="3.0"/>
<ellipse cx="517.5" cy="333.0" rx="1.2" ry="1.5"/>
<ellipse cx="512.0" cy="327.0" rx="1.0" ry="1.5"/>
<ellipse cx="503.6" cy="340.0" rx="1.0" ry="1.0"/>
<ellipse cx="489.0" cy="339.0" rx="1.2" ry="1.0"/>
<ellipse cx="513.4" cy="429.1" rx="1.2" ry="1.5"/>
<ellipse cx="512.8" cy="434.4" rx="1.0" ry="1.0"/>
<ellipse cx="511.5" cy="438.0" rx="1.0" ry="1.0"/>
<ellipse cx="535.5" cy="401.0" rx="1.0" ry="1.5"/>
<ellipse cx="548.0" cy="434.0" rx="1.0" ry="1.0"/>
<ellipse cx="351.0" cy="146.0" rx="1.5" ry="2.5"/>
<ellipse cx="356.0" cy="155.0" rx="1.5" ry="1.0"/>
<ellipse cx="347.0" cy="160.0" rx="1.0" ry="1.0"/>
<ellipse cx="343.0" cy="163.0" rx="1.0" ry="1.0"/>
<ellipse cx="360.0" cy="150.0" rx="1.0" ry="1.5"/>
<polygon points="543.5,96.0 546.0,91.5 549.5,87.5 553.0,83.5 555.5,85.0 553.5,89.0 550.5,93.0 547.5,97.0 545.0,98.0"/>
<polygon points="563.5,67.0 566.5,63.5 570.0,60.5 573.0,60.5 573.5,63.0 570.5,66.0 567.0,69.5 564.5,70.0"/>
<polygon points="488.0,125.0 491.0,123.5 494.0,122.5 498.0,121.0 498.0,123.0 494.0,125.0 490.0,126.5"/>
<polygon points="214.0,449.5 218.0,447.5 222.0,448.5 221.0,451.0 217.0,452.0 214.5,451.5"/>
<polygon points="222.0,450.5 226.0,449.0 227.5,452.0 225.0,454.5 222.0,453.5"/>
<polygon points="227.5,448.0 231.5,447.5 233.0,451.0 230.5,453.5 227.5,452.0"/>
<polygon points="219.0,454.0 223.0,455.0 224.0,458.5 220.5,459.5 218.0,457.0"/>
<polygon points="225.0,456.0 229.0,455.5 230.5,459.0 227.5,461.0 224.5,459.5"/>
<polygon points="220.0,461.0 224.0,461.0 225.0,464.0 221.0,464.5"/>
</g>
<g fill="none" stroke="#000" stroke-width="1.2" shape-rendering="crispEdges">
<polyline points="234.5,307.2 237.2,311.2 237.9,316.5 239.2,320.5"/>
<polyline points="248.5,305.9 249.8,312.5 252.4,316.5"/>
<polyline points="249.1,325.8 255.7,332.4"/>
<polyline points="252.4,325.1 258.4,329.7"/>
<polyline points="245.5,322.0 248.0,324.5 251.0,330.0"/>
<polyline points="310.0,137.2 313.0,137.8 317.0,138.2 320.0,137.5 323.0,137.0"/>
</g>
<g fill="#c0c0c0" stroke="#000" stroke-width="1.2">
<ellipse cx="172.3" cy="391.7" rx="1.0" ry="1.5"/>
<ellipse cx="280.0" cy="411.3" rx="2.2" ry="3.0"/>
<ellipse cx="168.2" cy="336.0" rx="1.2" ry="1.2"/>
<ellipse cx="466.4" cy="195.3" rx="1.2" ry="1.2"/>
<ellipse cx="466.3" cy="282.0" rx="1.5" ry="1.5"/>
<ellipse cx="181.0" cy="436.5" rx="2.0" ry="2.2"/>
<ellipse cx="189.0" cy="440.2" rx="2.8" ry="1.5"/>
<ellipse cx="199.0" cy="449.0" rx="2.5" ry="2.5"/>
<ellipse cx="204.5" cy="454.0" rx="2.5" ry="2.0"/>
<ellipse cx="209.5" cy="457.3" rx="2.0" ry="1.5"/>
<ellipse cx="455.3" cy="383.6" rx="2.5" ry="1.5"/>
<ellipse cx="467.2" cy="375.7" rx="2.2" ry="1.8"/>
<ellipse cx="514.8" cy="415.9" rx="1.5" ry="2.5"/>
<ellipse cx="532.1" cy="409.0" rx="1.5" ry="4.0"/>
</g>
<g shape-rendering="crispEdges">
<path fill="#fff" d="M0 0H755V560H0zM153 36V467H577V36z" fill-rule="evenodd"/>
<path fill="#000" d="M153 36H577V467H153zM155 38V465H575V38z" fill-rule="evenodd"/>
<path fill="#000" d="M168 38h1v5h-1zM168 460h1v5h-1zM195 38h1v5h-1zM195 460h1v5h-1zM222 38h1v5h-1zM222 460h1v5h-1zM250 38h1v5h-1zM250 460h1v5h-1zM277 38h1v5h-1zM277 460h1v5h-1zM304 38h1v5h-1zM304 460h1v5h-1zM331 38h1v5h-1zM331 460h1v5h-1zM358 38h1v5h-1zM358 460h1v5h-1zM386 38h1v5h-1zM386 460h1v5h-1zM413 38h1v5h-1zM413 460h1v5h-1zM440 38h1v5h-1zM440 460h1v5h-1zM467 38h1v5h-1zM467 460h1v5h-1zM494 38h1v5h-1zM494 460h1v5h-1zM522 38h1v5h-1zM522 460h1v5h-1zM549 38h1v5h-1zM549 460h1v5h-1zM155 438h5v1h-5zM570 438h5v1h-5zM155 411h5v1h-5zM570 411h5v1h-5zM155 384h5v1h-5zM570 384h5v1h-5zM155 357h5v1h-5zM570 357h5v1h-5zM155 329h5v1h-5zM570 329h5v1h-5zM155 301h5v1h-5zM570 301h5v1h-5zM155 273h5v1h-5zM570 273h5v1h-5zM155 245h5v1h-5zM570 245h5v1h-5zM155 217h5v1h-5zM570 217h5v1h-5zM155 188h5v1h-5zM570 188h5v1h-5zM155 159h5v1h-5zM570 159h5v1h-5zM155 129h5v1h-5zM570 129h5v1h-5zM155 99h5v1h-5zM570 99h5v1h-5zM155 69h5v1h-5zM570 69h5v1h-5z"/>
</g>
<text transform="translate(365.5,19.4) scale(1,1.06)" font-size="12.9" text-anchor="middle">Significant Wave Height with Wave Direction</text>
<text x="366.5" y="31.4" font-size="12.12" text-anchor="middle" font-style="italic">Valid For Dec-23-2016 06:00 GMT</text>
<text x="158.1" y="482.8" font-size="10.30" text-anchor="start" font-style="italic">100 E</text>
<text x="226.5" y="482.8" font-size="10.30" text-anchor="start" font-style="italic">105 E</text>
<text x="294.8" y="482.8" font-size="10.30" text-anchor="start" font-style="italic">110 E</text>
<text x="362.5" y="482.8" font-size="10.30" text-anchor="start" font-style="italic">115 E</text>
<text x="429.9" y="482.8" font-size="10.30" text-anchor="start" font-style="italic">120 E</text>
<text x="497.6" y="482.8" font-size="10.30" text-anchor="start" font-style="italic">125 E</text>
<text x="565.0" y="482.8" font-size="10.30" text-anchor="start" font-style="italic">130 E</text>
<text x="583.5" y="42.1" font-size="10.30" text-anchor="start" font-style="italic">30 N</text>
<text x="583.5" y="119.3" font-size="10.30" text-anchor="start" font-style="italic">25 N</text>
<text x="583.5" y="191.3" font-size="10.30" text-anchor="start" font-style="italic">20 N</text>
<text x="583.5" y="263.3" font-size="10.30" text-anchor="start" font-style="italic">15 N</text>
<text x="583.5" y="333.0" font-size="10.30" text-anchor="start" font-style="italic">10 N</text>
<text x="583.5" y="401.0" font-size="10.30" text-anchor="start" font-style="italic">5 N</text>
<text x="583.5" y="468.6" font-size="10.30" text-anchor="start" font-style="italic">0</text>
<text x="155.9" y="496.3" font-size="11.00" text-anchor="start">oceanweather inc.</text>
<text x="458.5" y="493.1" font-size="7.40" text-anchor="start" font-style="italic">Plotted at Dec 23, 2016 01:42 GMT</text>
<text x="364.5" y="508.8" font-size="9.50" text-anchor="middle">Significant Wave Height (Meters)</text>
<text x="364.5" y="556.5" font-size="9.55" text-anchor="middle">Significant Wave Height (Feet)</text>
<text x="246.5" y="521.0" font-size="8.80" text-anchor="middle">0</text>
<text x="266.5" y="521.0" font-size="8.80" text-anchor="middle">1</text>
<text x="286.5" y="521.0" font-size="8.80" text-anchor="middle">2</text>
<text x="306.5" y="521.0" font-size="8.80" text-anchor="middle">3</text>
<text x="326.5" y="521.0" font-size="8.80" text-anchor="middle">4</text>
<text x="346.5" y="521.0" font-size="8.80" text-anchor="middle">5</text>
<text x="366.5" y="521.0" font-size="8.80" text-anchor="middle">6</text>
<text x="386.5" y="521.0" font-size="8.80" text-anchor="middle">7</text>
<text x="406.5" y="521.0" font-size="8.80" text-anchor="middle">8</text>
<text x="426.5" y="521.0" font-size="8.80" text-anchor="middle">9</text>
<text x="446.5" y="521.0" font-size="8.80" text-anchor="middle">10</text>
<text x="466.5" y="521.0" font-size="8.80" text-anchor="middle">11</text>
<text x="486.5" y="521.0" font-size="8.80" text-anchor="middle">12</text>
<text x="246.5" y="545.0" font-size="8.80" text-anchor="middle">0</text>
<text x="276.7" y="545.0" font-size="8.80" text-anchor="middle">5</text>
<text x="306.9" y="545.0" font-size="8.80" text-anchor="middle">10</text>
<text x="337.1" y="545.0" font-size="8.80" text-anchor="middle">15</text>
<text x="367.3" y="545.0" font-size="8.80" text-anchor="middle">20</text>
<text x="397.5" y="545.0" font-size="8.80" text-anchor="middle">25</text>
<text x="427.7" y="545.0" font-size="8.80" text-anchor="middle">30</text>
<text x="457.9" y="545.0" font-size="8.80" text-anchor="middle">35</text>
<text x="488.1" y="545.0" font-size="8.80" text-anchor="middle">40</text>
<defs><linearGradient id="cb" x1="0" x2="1" y1="0" y2="0">
<stop offset="0.000" stop-color="#0000ff"/>
<stop offset="0.083" stop-color="#0028ff"/>
<stop offset="0.166" stop-color="#0080ff"/>
<stop offset="0.253" stop-color="#00ffff"/>
<stop offset="0.375" stop-color="#00ff80"/>
<stop offset="0.500" stop-color="#00ff00"/>
<stop offset="0.750" stop-color="#ffff00"/>
<stop offset="1.000" stop-color="#ff0000"/>
</linearGradient></defs>
<rect x="245" y="524" width="241" height="13" fill="url(#cb)"/>
<rect x="245" y="524" width="2" height="13" fill="#000"/>
</svg></body></html>
